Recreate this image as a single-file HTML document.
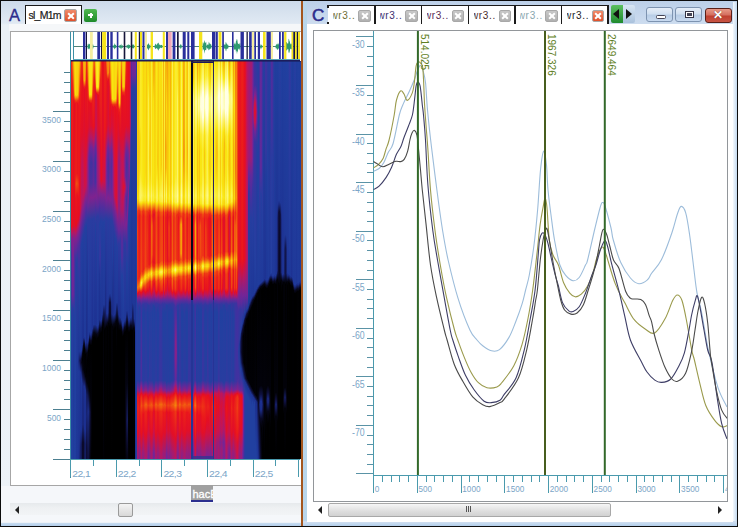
<!DOCTYPE html>
<html><head><meta charset="utf-8">
<style>
html,body{margin:0;padding:0;width:738px;height:527px;overflow:hidden;background:#0c0c0c;}
#root{position:relative;width:738px;height:527px;overflow:hidden;font-family:"Liberation Sans",Arial,sans-serif;background:#0c0c0c;}
.a{position:absolute;}
#lp{left:1px;top:1px;width:300px;height:524.8px;background:linear-gradient(180deg,#cddaea 0px,#d8e3ef 12px,#e0e9f3 22px,#eaf0f6 24px,#edf2f7 100%);}
#rp{left:303px;top:1px;width:434px;height:524.8px;background:linear-gradient(180deg,#bcd0e8 0px,#c4d6ec 12px,#cddcef 23px);}
.tab{position:absolute;top:4px;height:20px;background:#fff;border-top:1px solid #222;}
.tabt{position:absolute;top:5px;font-size:11px;letter-spacing:0px;}
.xbtn{position:absolute;width:10.5px;height:10.5px;border-radius:2px;background:linear-gradient(180deg,#c8c8c8,#b0b0b0);border:0.5px solid #a8a8a8;}
.xbtn:before,.xbtn:after{content:"";position:absolute;left:1.5px;top:4.5px;width:8px;height:2px;background:#fff;}
.xbtn:before{transform:rotate(45deg);} .xbtn:after{transform:rotate(-45deg);}
.xbtn.red{background:linear-gradient(180deg,#f08a6a,#e0502a);}
.sp i{position:absolute;top:0;height:398px;display:block;}
.lbl{position:absolute;font-size:10px;color:#86aac6;line-height:10px;white-space:nowrap;}
</style></head><body><div id="root">

<!-- LEFT PANEL -->
<div id="lp" class="a">
  <div class="a" style="left:0;top:0;width:300px;height:1px;"></div>
  <div class="a" style="left:8px;top:6px;font-size:16.5px;color:#2c2c8c;line-height:17px;-webkit-text-stroke:0.35px #2c2c8c;">A</div>
  <!-- tab -->
  <div class="tab" style="left:24px;width:55px;border-left:1.5px solid #1a1a1a;border-right:1.5px solid #1a1a1a;border-top:1.5px solid #1a1a1a;"></div>
  <div class="tabt" style="left:27.5px;top:8px;color:#1a1a1a;font-size:10.5px;letter-spacing:-0.75px;line-height:12px;-webkit-text-stroke:0.2px #1a1a1a;">sl_M1m</div>
  <div class="xbtn red" style="left:63px;top:8px;"></div>
  <div class="a" style="left:83px;top:8px;width:13px;height:13px;border-radius:2px;background:linear-gradient(180deg,#4fb84f,#1e8a2a);"></div>
  <div class="a" style="left:87px;top:13px;width:5px;height:2px;background:#fff;"></div>
  <div class="a" style="left:88.5px;top:11.5px;width:2px;height:5px;background:#fff;"></div>
  <div class="a" style="left:80px;top:23px;width:49px;height:1px;background:#9aa3ad;"></div>
  <div class="a" style="left:8px;top:23px;width:292px;height:7px;background:#f5f7f9;"></div>
  <!-- content white box -->
  <div class="a" style="left:9px;top:30px;width:291px;height:453px;background:#fff;border:1px solid #a6a6a6;border-right:none;"></div>
  <div class="a" style="left:0;top:485px;width:300px;height:36px;background:#f5f7fa;"></div>
  <!-- hace label -->
  <div class="a" style="left:190px;top:484px;width:22px;height:15px;background:#a0a0a0;overflow:hidden;"><div class="a" style="left:1.5px;top:2.5px;font-size:11px;color:#fff;line-height:12px;letter-spacing:0px;white-space:nowrap;-webkit-text-stroke:0.3px #fff;">hacE</div></div>
  <div class="a" style="left:190px;top:499px;width:22px;height:1.5px;background:#2b2f8f;"></div>
  <!-- scrollbar -->
  <div class="a" style="left:9px;top:502px;width:291px;height:12px;background:linear-gradient(180deg,#e6e9ec,#eef0f2 40%,#f2f4f6);"></div>
  <div class="a" style="left:14px;top:505px;width:0;height:0;border-top:4px solid transparent;border-bottom:4px solid transparent;border-right:4px solid #222;"></div>
  <div class="a" style="left:117px;top:502px;width:13px;height:12px;border:1px solid #9a9a9a;border-radius:2px;background:linear-gradient(180deg,#f4f4f4,#d8d8d8);"></div>
  <div class="a" style="left:0;top:521.5px;width:300px;height:3.3px;background:linear-gradient(180deg,#c8dcf0,#b2cdea);"></div>
</div>

<!-- divider -->
<div class="a" style="left:301px;top:1px;width:2px;height:524.8px;background:#a4561e;"></div>

<!-- RIGHT PANEL -->
<div id="rp" class="a">
  <div class="a" style="left:9px;top:5.5px;font-size:17px;color:#2c2c8c;line-height:17px;-webkit-text-stroke:0.6px #2c2c8c;">C</div>
  <!-- tabs -->
  <div class="a" style="left:24.5px;top:4px;width:281.29999999999995px;height:20px;background:#fff;border-top:1.5px solid #1a1a1a;"></div>
  <div class="a" style="left:24.0px;top:4px;width:1.6px;height:2.5px;background:#1a1a1a;"></div>
  <div class="a" style="left:24.0px;top:20.5px;width:1.6px;height:2.5px;background:#1a1a1a;"></div>
  <div class="a" style="left:71.0px;top:4px;width:1.6px;height:19px;background:#1a1a1a;"></div>
  <div class="a" style="left:117.5px;top:4px;width:1.6px;height:19px;background:#1a1a1a;"></div>
  <div class="a" style="left:164.5px;top:4px;width:1.6px;height:19px;background:#1a1a1a;"></div>
  <div class="a" style="left:211.3px;top:4px;width:1.6px;height:19px;background:#1a1a1a;"></div>
  <div class="a" style="left:257.6px;top:4px;width:1.6px;height:19px;background:#1a1a1a;"></div>
  <div class="a" style="left:304.3px;top:4px;width:1.6px;height:19px;background:#1a1a1a;"></div>
  <div class="a" style="left:30.0px;top:5px;width:24px;height:17px;overflow:hidden;"><div class="a" style="left:-2.6px;top:4px;font-size:10px;line-height:12px;letter-spacing:0.7px;color:#6e6e34;white-space:nowrap;">wr3..</div></div>
  <div class="xbtn" style="left:55.0px;top:8.5px;"></div>
  <div class="a" style="left:77.0px;top:5px;width:24px;height:17px;overflow:hidden;"><div class="a" style="left:-2.6px;top:4px;font-size:10px;line-height:12px;letter-spacing:0.7px;color:#3a2e6e;white-space:nowrap;">wr3..</div></div>
  <div class="xbtn" style="left:102.0px;top:8.5px;"></div>
  <div class="a" style="left:123.5px;top:5px;width:24px;height:17px;overflow:hidden;"><div class="a" style="left:-2.6px;top:4px;font-size:10px;line-height:12px;letter-spacing:0.7px;color:#5a2a52;white-space:nowrap;">wr3..</div></div>
  <div class="xbtn" style="left:148.5px;top:8.5px;"></div>
  <div class="a" style="left:170.5px;top:5px;width:24px;height:17px;overflow:hidden;"><div class="a" style="left:-2.6px;top:4px;font-size:10px;line-height:12px;letter-spacing:0.7px;color:#4a2a2a;white-space:nowrap;">wr3..</div></div>
  <div class="xbtn" style="left:195.5px;top:8.5px;"></div>
  <div class="a" style="left:217.3px;top:5px;width:24px;height:17px;overflow:hidden;"><div class="a" style="left:-2.6px;top:4px;font-size:10px;line-height:12px;letter-spacing:0.7px;color:#8aa6ae;white-space:nowrap;">wr3..</div></div>
  <div class="xbtn" style="left:242.3px;top:8.5px;"></div>
  <div class="a" style="left:263.6px;top:5px;width:24px;height:17px;overflow:hidden;"><div class="a" style="left:-2.6px;top:4px;font-size:10px;line-height:12px;letter-spacing:0.7px;color:#1e1e1e;white-space:nowrap;">wr3..</div></div>
  <div class="xbtn red" style="left:288.6px;top:8.5px;"></div>
  <!-- arrows -->
  <div class="a" style="left:308px;top:4px;width:12px;height:18px;border-radius:2px 0 0 2px;background:linear-gradient(180deg,#5cc060,#1f8a2e);"></div>
  <div class="a" style="left:320px;top:4px;width:12px;height:18px;border-radius:0 2px 2px 0;background:linear-gradient(180deg,#d8e6f4,#a9c1dc);"></div>
  <div class="a" style="left:310px;top:8px;width:0;height:0;border-top:5px solid transparent;border-bottom:5px solid transparent;border-right:6px solid #111;"></div>
  <div class="a" style="left:323px;top:8px;width:0;height:0;border-top:5px solid transparent;border-bottom:5px solid transparent;border-left:6px solid #111;"></div>
  <!-- window buttons -->
  <div class="a" style="left:343px;top:6px;width:25px;height:13px;border:1px solid #7d93b0;border-radius:3px;background:linear-gradient(180deg,#e6eef8 0%,#d0dff0 45%,#b8cde6 55%,#c8daf0 100%);"></div>
  <div class="a" style="left:353px;top:13.5px;width:8px;height:2px;background:#fff;border:1px solid #445;border-radius:1.5px;"></div>
  <div class="a" style="left:372px;top:6px;width:25px;height:13px;border:1px solid #7d93b0;border-radius:3px;background:linear-gradient(180deg,#e6eef8 0%,#d0dff0 45%,#b8cde6 55%,#c8daf0 100%);"></div>
  <div class="a" style="left:381.5px;top:9.5px;width:7px;height:5px;border:1px solid #334;background:#fff;box-shadow:inset 0 0 0 1px #fff, inset 0 0 0 2.5px #445;"></div>
  <div class="a" style="left:401.5px;top:6.5px;width:25px;height:13px;border:1px solid #5a2018;border-radius:3px;background:linear-gradient(180deg,#e89a88 0%,#d47060 45%,#c04030 55%,#c85444 100%);"></div>
  <div class="a" style="left:410px;top:7.5px;font-size:11.5px;font-weight:bold;color:#fff;line-height:13px;text-shadow:0 0 1px #5a1a10;">&#x2715;</div>
  <!-- white area -->
  <div class="a" style="left:4px;top:23px;width:426px;height:498px;background:#fff;"></div>
  <!-- scrollbar -->
  <div class="a" style="left:15px;top:505px;width:0;height:0;border-top:4px solid transparent;border-bottom:4px solid transparent;border-right:4px solid #222;"></div>
  <div class="a" style="left:25px;top:502px;width:281px;height:12px;border:1px solid #a8a8a8;border-radius:2px;background:linear-gradient(180deg,#f6f6f6,#dedede 60%,#d2d2d2);"></div>
  <div class="a" style="left:163px;top:505px;width:1px;height:6px;background:#555;box-shadow:2px 0 0 #555,4px 0 0 #555;"></div>
  <div class="a" style="left:415px;top:505px;width:0;height:0;border-top:4px solid transparent;border-bottom:4px solid transparent;border-left:4px solid #222;"></div>
  <div class="a" style="left:0;top:521.5px;width:434px;height:3.3px;background:linear-gradient(180deg,#c8dcf0,#b2cdea);"></div>
  <div class="a" style="left:0;top:1px;width:4px;height:519px;background:linear-gradient(90deg,#bcd6ea,#b6d6ec);"></div>
  <div class="a" style="left:430px;top:1px;width:4px;height:519px;background:linear-gradient(90deg,#f4f8fc,#c4daf0);"></div>
</div>

<svg class="a" style="left:0;top:0" width="738" height="527">
<g stroke="#4c7f90" stroke-width="1" shape-rendering="crispEdges">
<line x1="53" y1="459.5" x2="70" y2="459.5"/>
<line x1="64" y1="449.5" x2="70" y2="449.5"/>
<line x1="64" y1="439.5" x2="70" y2="439.5"/>
<line x1="64" y1="429.5" x2="70" y2="429.5"/>
<line x1="64" y1="419.5" x2="70" y2="419.5"/>
<line x1="53" y1="409.5" x2="70" y2="409.5"/>
<line x1="64" y1="399.5" x2="70" y2="399.5"/>
<line x1="64" y1="389.5" x2="70" y2="389.5"/>
<line x1="64" y1="380.5" x2="70" y2="380.5"/>
<line x1="64" y1="370.5" x2="70" y2="370.5"/>
<line x1="53" y1="360.5" x2="70" y2="360.5"/>
<line x1="64" y1="350.5" x2="70" y2="350.5"/>
<line x1="64" y1="340.5" x2="70" y2="340.5"/>
<line x1="64" y1="330.5" x2="70" y2="330.5"/>
<line x1="64" y1="320.5" x2="70" y2="320.5"/>
<line x1="53" y1="310.5" x2="70" y2="310.5"/>
<line x1="64" y1="300.5" x2="70" y2="300.5"/>
<line x1="64" y1="290.5" x2="70" y2="290.5"/>
<line x1="64" y1="280.5" x2="70" y2="280.5"/>
<line x1="64" y1="270.5" x2="70" y2="270.5"/>
<line x1="53" y1="260.5" x2="70" y2="260.5"/>
<line x1="64" y1="250.5" x2="70" y2="250.5"/>
<line x1="64" y1="241.5" x2="70" y2="241.5"/>
<line x1="64" y1="231.5" x2="70" y2="231.5"/>
<line x1="64" y1="221.5" x2="70" y2="221.5"/>
<line x1="53" y1="211.5" x2="70" y2="211.5"/>
<line x1="64" y1="201.5" x2="70" y2="201.5"/>
<line x1="64" y1="191.5" x2="70" y2="191.5"/>
<line x1="64" y1="181.5" x2="70" y2="181.5"/>
<line x1="64" y1="171.5" x2="70" y2="171.5"/>
<line x1="53" y1="161.5" x2="70" y2="161.5"/>
<line x1="64" y1="151.5" x2="70" y2="151.5"/>
<line x1="64" y1="141.5" x2="70" y2="141.5"/>
<line x1="64" y1="131.5" x2="70" y2="131.5"/>
<line x1="64" y1="121.5" x2="70" y2="121.5"/>
<line x1="53" y1="111.5" x2="70" y2="111.5"/>
<line x1="64" y1="102.5" x2="70" y2="102.5"/>
<line x1="64" y1="92.5" x2="70" y2="92.5"/>
<line x1="64" y1="82.5" x2="70" y2="82.5"/>
<line x1="64" y1="72.5" x2="70" y2="72.5"/>
</g>
<line x1="70.5" y1="31" x2="70.5" y2="478" stroke="#3c8ea4" stroke-width="1"/>
<line x1="70" y1="459.5" x2="300" y2="459.5" stroke="#4a9aad" stroke-width="1"/>
<g stroke="#4a9aad" stroke-width="1">
<line x1="70.5" y1="460" x2="70.5" y2="477"/>
<line x1="93.5" y1="460" x2="93.5" y2="466"/>
<line x1="116.5" y1="460" x2="116.5" y2="477"/>
<line x1="139.5" y1="460" x2="139.5" y2="466"/>
<line x1="161.5" y1="460" x2="161.5" y2="477"/>
<line x1="184.5" y1="460" x2="184.5" y2="466"/>
<line x1="207.5" y1="460" x2="207.5" y2="477"/>
<line x1="230.5" y1="460" x2="230.5" y2="466"/>
<line x1="253.5" y1="460" x2="253.5" y2="477"/>
<line x1="275.5" y1="460" x2="275.5" y2="466"/>
<line x1="298.5" y1="460" x2="298.5" y2="477"/>
</g>
<g font-family="Liberation Sans, Arial, sans-serif" font-size="9.5" fill="#7ba5c7">
<text x="42.0" y="122.7" textLength="19" lengthAdjust="spacingAndGlyphs">3500</text>
<text x="42.0" y="172.3" textLength="19" lengthAdjust="spacingAndGlyphs">3000</text>
<text x="42.0" y="222.0" textLength="19" lengthAdjust="spacingAndGlyphs">2500</text>
<text x="42.0" y="271.6" textLength="19" lengthAdjust="spacingAndGlyphs">2000</text>
<text x="42.0" y="321.3" textLength="19" lengthAdjust="spacingAndGlyphs">1500</text>
<text x="42.0" y="370.9" textLength="19" lengthAdjust="spacingAndGlyphs">1000</text>
<text x="47.0" y="420.6" textLength="14" lengthAdjust="spacingAndGlyphs">500</text>
</g>
<g font-family="Liberation Sans, Arial, sans-serif" font-size="9.5" letter-spacing="-0.5" fill="#7ba5c7">
<text x="72.2" y="477" textLength="18" lengthAdjust="spacingAndGlyphs">22,1</text>
<text x="117.8" y="477" textLength="18" lengthAdjust="spacingAndGlyphs">22,2</text>
<text x="163.4" y="477" textLength="18" lengthAdjust="spacingAndGlyphs">22,3</text>
<text x="209.1" y="477" textLength="18" lengthAdjust="spacingAndGlyphs">22,4</text>
<text x="254.7" y="477" textLength="18" lengthAdjust="spacingAndGlyphs">22,5</text>
</g>
</svg>
<svg class="a" style="left:0;top:0" width="738" height="527">
<rect x="73" y="31" width="227" height="29" fill="#fff"/>
<line x1="73.5" y1="46.5" x2="300" y2="46.5" stroke="#4f8278" stroke-width="1"/>
<path d="M87.5,45.9 L87.8,44.1 L88.2,43.6 L88.5,45.3 L88.8,43.8 L89.2,44.0 L89.5,44.4 L89.8,43.4 L90.2,44.5 L90.5,43.3 L90.8,41.8 L91.2,42.7 L91.5,44.0 L91.8,45.6 L92.2,45.1 L92.5,43.2 L92.8,44.6 L93.2,44.6 L93.5,45.9 L93.5,47.1 L93.2,48.5 L92.8,49.1 L92.5,49.6 L92.2,47.9 L91.8,48.2 L91.5,48.4 L91.2,49.4 L90.8,50.1 L90.5,50.9 L90.2,48.9 L89.8,49.6 L89.5,48.4 L89.2,48.3 L88.8,49.0 L88.5,48.2 L88.2,49.6 L87.8,49.0 L87.5,47.1Z" fill="#2e9a70"/>
<path d="M112.5,45.9 L112.8,44.5 L113.1,45.2 L113.4,45.7 L113.7,45.4 L114.0,45.5 L114.3,44.3 L114.7,43.1 L115.0,44.9 L115.3,44.9 L115.6,44.7 L115.9,44.6 L116.2,45.7 L116.5,45.9 L116.5,47.1 L116.2,47.8 L115.9,48.5 L115.6,47.7 L115.3,47.7 L115.0,48.3 L114.7,49.5 L114.3,48.7 L114.0,48.1 L113.7,47.7 L113.4,47.3 L113.1,47.7 L112.8,48.0 L112.5,47.1Z" fill="#2e9a70"/>
<path d="M119.0,45.9 L119.3,45.6 L119.6,45.6 L119.9,45.0 L120.2,45.5 L120.5,44.8 L120.8,45.1 L121.2,43.6 L121.5,45.6 L121.8,45.8 L122.1,45.3 L122.4,45.4 L122.7,45.2 L123.0,45.9 L123.0,47.1 L122.7,47.7 L122.4,48.0 L122.1,47.9 L121.8,47.3 L121.5,48.2 L121.2,49.5 L120.8,48.6 L120.5,48.4 L120.2,47.5 L119.9,48.0 L119.6,47.8 L119.3,47.8 L119.0,47.1Z" fill="#2e9a70"/>
<path d="M126.5,45.9 L126.8,44.8 L127.1,45.5 L127.4,44.7 L127.7,45.3 L128.0,44.4 L128.3,44.0 L128.7,45.0 L129.0,45.4 L129.3,44.8 L129.6,45.0 L129.9,44.8 L130.2,45.6 L130.5,45.9 L130.5,47.1 L130.2,47.6 L129.9,48.3 L129.6,48.2 L129.3,47.8 L129.0,48.0 L128.7,49.1 L128.3,48.9 L128.0,48.8 L127.7,47.6 L127.4,48.1 L127.1,47.4 L126.8,48.4 L126.5,47.1Z" fill="#2e9a70"/>
<path d="M132.0,45.9 L132.3,44.2 L132.5,44.6 L132.8,45.0 L133.1,44.1 L133.3,44.2 L133.6,45.2 L133.9,44.7 L134.1,44.9 L134.4,45.9 L134.4,47.1 L134.1,47.9 L133.9,48.1 L133.6,48.2 L133.3,48.5 L133.1,48.7 L132.8,48.1 L132.5,48.0 L132.3,48.7 L132.0,47.1Z" fill="#2e9a70"/>
<path d="M146.5,45.9 L146.8,45.0 L147.1,44.1 L147.4,44.7 L147.7,45.1 L148.0,44.6 L148.3,42.4 L148.7,43.9 L149.0,43.7 L149.3,45.6 L149.6,45.3 L149.9,44.7 L150.2,44.5 L150.5,45.9 L150.5,47.1 L150.2,48.6 L149.9,48.7 L149.6,48.0 L149.3,47.8 L149.0,49.2 L148.7,50.1 L148.3,50.5 L148.0,48.7 L147.7,48.2 L147.4,48.4 L147.1,48.8 L146.8,48.4 L146.5,47.1Z" fill="#2e9a70"/>
<path d="M154.5,45.9 L154.8,45.3 L155.2,44.0 L155.5,43.6 L155.9,44.6 L156.2,45.4 L156.6,44.4 L156.9,44.6 L157.3,44.1 L157.6,43.3 L158.0,43.0 L158.3,42.8 L158.7,42.7 L159.0,44.9 L159.4,44.1 L159.7,45.1 L160.1,44.7 L160.4,45.0 L160.8,45.6 L161.1,45.0 L161.5,45.1 L161.8,44.7 L162.2,45.0 L162.5,45.9 L162.5,47.1 L162.2,48.0 L161.8,48.2 L161.5,47.7 L161.1,47.9 L160.8,47.5 L160.4,47.8 L160.1,47.9 L159.7,48.4 L159.4,49.1 L159.0,48.3 L158.7,50.4 L158.3,50.5 L158.0,49.6 L157.6,49.4 L157.3,48.4 L156.9,48.4 L156.6,48.3 L156.2,48.1 L155.9,48.4 L155.5,49.3 L155.2,48.8 L154.8,48.0 L154.5,47.1Z" fill="#2e9a70"/>
<path d="M179.3,45.9 L179.6,45.3 L179.8,45.7 L180.1,45.2 L180.4,43.7 L180.6,43.9 L180.9,44.9 L181.2,44.8 L181.4,44.5 L181.7,45.9 L181.7,47.1 L181.4,48.4 L181.2,47.9 L180.9,48.4 L180.6,48.9 L180.4,48.6 L180.1,47.6 L179.8,47.7 L179.6,47.8 L179.3,47.1Z" fill="#2e9a70"/>
<path d="M202.5,45.9 L202.8,41.9 L203.1,42.7 L203.4,42.6 L203.7,44.7 L204.0,41.6 L204.3,39.9 L204.7,41.4 L205.0,43.3 L205.3,42.2 L205.6,42.5 L205.9,42.7 L206.2,41.8 L206.5,45.9 L206.5,47.1 L206.2,50.4 L205.9,49.7 L205.6,50.5 L205.3,49.9 L205.0,49.9 L204.7,51.8 L204.3,53.8 L204.0,50.4 L203.7,49.0 L203.4,49.2 L203.1,49.9 L202.8,51.1 L202.5,47.1Z" fill="#2e9a70"/>
<path d="M206.5,45.9 L206.8,44.9 L207.2,45.0 L207.5,44.6 L207.8,44.2 L208.2,45.3 L208.5,44.0 L208.8,41.5 L209.2,43.4 L209.5,41.9 L209.8,44.1 L210.2,44.5 L210.5,44.0 L210.8,43.6 L211.2,44.4 L211.5,45.9 L211.5,47.1 L211.2,48.4 L210.8,48.9 L210.5,48.4 L210.2,48.5 L209.8,48.8 L209.5,50.1 L209.2,49.3 L208.8,50.5 L208.5,50.0 L208.2,48.2 L207.8,48.8 L207.5,48.3 L207.2,48.6 L206.8,48.3 L206.5,47.1Z" fill="#2e9a70"/>
<path d="M223.5,45.9 L223.8,44.0 L224.2,45.2 L224.5,44.6 L224.8,44.0 L225.2,45.3 L225.5,43.6 L225.8,41.8 L226.2,42.6 L226.5,43.7 L226.8,43.5 L227.2,45.1 L227.5,45.3 L227.8,43.7 L228.2,44.9 L228.5,45.9 L228.5,47.1 L228.2,48.6 L227.8,49.0 L227.5,48.4 L227.2,48.4 L226.8,48.8 L226.5,49.3 L226.2,51.2 L225.8,51.1 L225.5,49.6 L225.2,48.5 L224.8,48.7 L224.5,48.9 L224.2,48.0 L223.8,48.8 L223.5,47.1Z" fill="#2e9a70"/>
<path d="M233.5,45.9 L233.8,43.9 L234.2,44.2 L234.6,42.0 L234.9,44.2 L235.2,43.0 L235.6,44.9 L235.9,41.2 L236.3,40.9 L236.7,38.9 L237.0,39.6 L237.3,39.6 L237.7,42.7 L238.1,44.1 L238.4,43.9 L238.8,43.5 L239.1,44.6 L239.4,44.5 L239.8,42.8 L240.2,42.9 L240.5,45.9 L240.5,47.1 L240.2,49.2 L239.8,50.5 L239.4,48.5 L239.1,48.8 L238.8,48.8 L238.4,48.8 L238.1,49.7 L237.7,51.7 L237.3,51.8 L237.0,54.3 L236.7,52.4 L236.3,50.6 L235.9,51.8 L235.6,49.0 L235.2,49.8 L234.9,49.6 L234.6,49.8 L234.2,49.5 L233.8,48.9 L233.5,47.1Z" fill="#2e9a70"/>
<path d="M259.5,45.9 L259.8,44.3 L260.1,45.7 L260.4,45.7 L260.7,44.4 L261.0,43.7 L261.3,44.9 L261.6,45.5 L261.9,45.1 L262.2,45.4 L262.5,45.9 L262.5,47.1 L262.2,47.7 L261.9,47.6 L261.6,47.8 L261.3,48.4 L261.0,49.4 L260.7,49.0 L260.4,47.6 L260.1,47.7 L259.8,48.3 L259.5,47.1Z" fill="#2e9a70"/>
<path d="M275.5,45.9 L275.8,45.2 L276.1,45.1 L276.4,44.5 L276.7,43.8 L277.0,44.1 L277.3,44.4 L277.7,44.3 L278.0,42.3 L278.3,45.1 L278.6,43.8 L278.9,43.5 L279.2,44.1 L279.5,45.9 L279.5,47.1 L279.2,48.6 L278.9,48.7 L278.6,48.9 L278.3,47.8 L278.0,50.3 L277.7,48.9 L277.3,49.9 L277.0,49.6 L276.7,48.8 L276.4,48.2 L276.1,47.9 L275.8,48.4 L275.5,47.1Z" fill="#2e9a70"/>
<path d="M285.5,45.9 L285.9,44.1 L286.2,42.0 L286.6,42.0 L286.9,42.4 L287.2,43.5 L287.6,43.0 L287.9,44.3 L288.3,43.1 L288.6,38.7 L289.0,38.9 L289.4,41.0 L289.7,41.2 L290.1,43.0 L290.4,44.6 L290.8,44.1 L291.1,42.3 L291.4,43.9 L291.8,44.2 L292.1,44.5 L292.5,45.9 L292.5,47.1 L292.1,48.8 L291.8,49.0 L291.4,49.2 L291.1,49.6 L290.8,48.9 L290.4,48.4 L290.1,49.4 L289.7,51.3 L289.4,53.2 L289.0,51.9 L288.6,53.2 L288.3,49.5 L287.9,48.6 L287.6,49.6 L287.2,49.4 L286.9,50.1 L286.6,50.4 L286.2,50.7 L285.9,48.5 L285.5,47.1Z" fill="#2e9a70"/>
<rect x="83" y="31.5" width="2.5" height="28" fill="#2a2f9c"/>
<rect x="86" y="31.5" width="1.0" height="28" fill="#16163a"/>
<rect x="90" y="31.5" width="2.8" height="28" fill="#f6eea0"/>
<rect x="97.3" y="31.5" width="2.8" height="28" fill="#2a2f9c"/>
<rect x="101" y="31.5" width="1.0" height="28" fill="#16163a"/>
<rect x="102.1" y="31.5" width="4.1" height="28" fill="#f4e41c"/>
<rect x="107" y="31.5" width="2.0" height="28" fill="#2a2f9c"/>
<rect x="110.3" y="31.5" width="2.4" height="28" fill="#2a2f9c"/>
<rect x="116.8" y="31.5" width="1.6" height="28" fill="#2a2f9c"/>
<rect x="123.7" y="31.5" width="1.6" height="28" fill="#16163a"/>
<rect x="130.7" y="31.5" width="1.6" height="28" fill="#16163a"/>
<rect x="134.8" y="31.5" width="2.0" height="28" fill="#f4e41c"/>
<rect x="138.8" y="31.5" width="1.2" height="28" fill="#16163a"/>
<rect x="140" y="31.5" width="2.0" height="28" fill="#f4e41c"/>
<rect x="142.5" y="31.5" width="2.0" height="28" fill="#2a2f9c"/>
<rect x="145" y="31.5" width="2.0" height="28" fill="#f6eea0"/>
<rect x="150.6" y="31.5" width="2.4" height="28" fill="#f4e41c"/>
<rect x="162.8" y="31.5" width="2.0" height="28" fill="#f4e41c"/>
<rect x="166" y="31.5" width="2.0" height="28" fill="#2a2f9c"/>
<rect x="168" y="31.5" width="3.7" height="28" fill="#f2a8b8"/>
<rect x="172.6" y="31.5" width="2.8" height="28" fill="#2a2f9c"/>
<rect x="177" y="31.5" width="1.7" height="28" fill="#16163a"/>
<rect x="182.7" y="31.5" width="3.0" height="28" fill="#2a2f9c"/>
<rect x="187.3" y="31.5" width="2.0" height="28" fill="#2a2f9c"/>
<rect x="191" y="31.5" width="3.6" height="28" fill="#2a2f9c"/>
<rect x="199" y="31.5" width="3.3" height="28" fill="#f4e41c"/>
<rect x="212" y="31.5" width="3.3" height="28" fill="#2a2f9c"/>
<rect x="215.7" y="31.5" width="2.1" height="28" fill="#2a2f9c"/>
<rect x="218.6" y="31.5" width="2.8" height="28" fill="#f4e41c"/>
<rect x="222.2" y="31.5" width="1.7" height="28" fill="#2a2f9c"/>
<rect x="232" y="31.5" width="1.6" height="28" fill="#2a2f9c"/>
<rect x="240.5" y="31.5" width="3.4" height="28" fill="#2a2f9c"/>
<rect x="246.5" y="31.5" width="1.3" height="28" fill="#16163a"/>
<rect x="249.1" y="31.5" width="2.6" height="28" fill="#2a2f9c"/>
<rect x="252" y="31.5" width="2.0" height="28" fill="#f6eea0"/>
<rect x="254.3" y="31.5" width="1.7" height="28" fill="#2a2f9c"/>
<rect x="257.8" y="31.5" width="2.2" height="28" fill="#2a2f9c"/>
<rect x="263" y="31.5" width="2.6" height="28" fill="#f4e41c"/>
<rect x="266.5" y="31.5" width="4.3" height="28" fill="#2a2f9c"/>
<rect x="271" y="31.5" width="2.0" height="28" fill="#f6eea0"/>
<rect x="279" y="31.5" width="1.8" height="28" fill="#2a2f9c"/>
<rect x="282" y="31.5" width="1.8" height="28" fill="#2a2f9c"/>
<rect x="284.2" y="31.5" width="2.2" height="28" fill="#f4e41c"/>
<rect x="291.5" y="31.5" width="1.8" height="28" fill="#f4e41c"/>
<rect x="293.3" y="31.5" width="1.7" height="28" fill="#16163a"/>
<rect x="295" y="31.5" width="1.8" height="28" fill="#f4e41c"/>
<rect x="296.8" y="31.5" width="1.3" height="28" fill="#16163a"/>
<rect x="298.1" y="31.5" width="1.9" height="28" fill="#f4e41c"/>
<line x1="70" y1="31.5" x2="300" y2="31.5" stroke="#8c959c" stroke-width="1"/>
<line x1="73.5" y1="31" x2="73.5" y2="60" stroke="#3c8ea4" stroke-width="1"/>
<line x1="73" y1="59.5" x2="300" y2="59.5" stroke="#58a6b8" stroke-width="1"/>
<line x1="71" y1="60.5" x2="300" y2="60.5" stroke="#1c1c5c" stroke-width="1"/>
</svg>
<div class="a sp" style="left:71px;top:61px;width:230px;height:398px;overflow:hidden;">
<i style="left:0px;width:1px;background:linear-gradient(#551c38 0px,#ed2b18 1.5px,#e9171c 33.5px,#e40f25 165.5px,#ad1969 172.5px,#80228e 178.5px,#512d9d 194.5px,#47309e 234.5px,#2140a0 255.5px,#2140a0 398px)"></i>
<i style="left:1px;width:1px;background:linear-gradient(#572e35 0px,#f2670f 1.5px,#eb231a 23.5px,#e9111d 164.5px,#bb165d 171.5px,#83218b 177.5px,#772495 205.5px,#6d2698 233.5px,#2b3ba0 247.5px,#2140a0 326.5px,#2140a0 398px)"></i>
<i style="left:2px;width:1px;background:linear-gradient(#584234 0px,#f7ad0a 1.5px,#f15c11 23.5px,#e9131d 40.5px,#e40f24 164.5px,#aa196b 172.5px,#80228e 178.5px,#632999 233.5px,#233fa0 248.5px,#1f3a9a 316.5px,#203c9d 398px)"></i>
<i style="left:3px;width:1px;background:linear-gradient(#594f35 0px,#f8d70e 1.5px,#f7af0a 29.5px,#f58f0c 34.5px,#eb2319 39.5px,#e50e22 43.5px,#e9171c 117.5px,#e80f1e 130.5px,#e20f28 163.5px,#b11865 171.5px,#80228e 178.5px,#512d9d 194.5px,#47309e 234.5px,#2140a0 255.5px,#203d9e 321.5px,#213e9f 398px)"></i>
<i style="left:4px;width:1px;background:linear-gradient(#595035 0px,#f9dc0f 1.5px,#f9da0f 33.5px,#f69d0b 36.5px,#ef3d15 39.5px,#e9151c 42.5px,#ea1c1b 113.5px,#ee3616 123.5px,#e9151d 137.5px,#e60e20 164.5px,#b81760 171.5px,#83218c 177.5px,#562c9c 190.5px,#3238a0 199.5px,#243fa0 247.5px,#213f9f 329.5px,#203d9d 398px)"></i>
<i style="left:5px;width:1px;background:linear-gradient(#594f35 0px,#f8d70e 1.5px,#f8cf0d 34.5px,#f15d11 38.5px,#ea1e1b 41.5px,#ea1d1b 112.5px,#f04e13 122.5px,#ea191c 133.5px,#e60e21 163.5px,#b41763 170.5px,#82228d 176.5px,#542c9c 189.5px,#263ea0 201.5px,#1f3999 326.5px,#1e3797 398px)"></i>
<i style="left:6px;width:1px;background:linear-gradient(#584d35 0px,#f8d20e 1.5px,#f8d00d 33.5px,#f5930c 36.5px,#ee3616 39.5px,#e9111d 42.5px,#e9171c 112.5px,#ef4514 122.5px,#e9121d 134.5px,#e30f26 160.5px,#b41763 167.5px,#80228e 174.5px,#502d9d 187.5px,#2e3aa0 198.5px,#1f399a 285.5px,#1e3697 398px)"></i>
<i style="left:7px;width:1px;background:linear-gradient(#584c35 0px,#f8d00d 1.5px,#f7ab0a 29.5px,#f58f0c 34.5px,#ec2a18 39.5px,#e9151d 44.5px,#ea1a1c 113.5px,#ee3216 123.5px,#e9121d 137.5px,#e50e22 157.5px,#ae1968 165.5px,#81228d 171.5px,#522d9c 184.5px,#45309f 192.5px,#283da0 216.5px,#1e3696 290.5px,#1a2b83 300.5px,#1f3999 310.5px,#1d3495 377.5px,#1d3293 398px)"></i>
<i style="left:8px;width:1px;background:linear-gradient(#584634 0px,#f7b90b 1.5px,#f36c0f 22.5px,#ea181c 40.5px,#e9161c 116.5px,#e9161c 127.5px,#df0f2b 153.5px,#b21865 160.5px,#80228e 167.5px,#502d9d 180.5px,#45309f 188.5px,#3337a0 210.5px,#2140a0 234.5px,#1e3696 290.5px,#131b5a 299.5px,#19287d 304.5px,#1e3697 310.5px,#1d3394 372.5px,#192a80 396.5px,#192a80 398px)"></i>
<i style="left:9px;width:1px;background:linear-gradient(#573135 0px,#f3710e 1.5px,#eb2419 21.5px,#e9151d 54.5px,#dd102f 85.5px,#d91136 116.5px,#d01244 147.5px,#80228e 161.5px,#502d9d 174.5px,#2e3aa0 185.5px,#1f3999 290.5px,#1a2c86 293.5px,#0e0f3a 299.5px,#0f103d 302.5px,#1c3091 311.5px,#1d3495 368.5px,#16216a 385.5px,#162068 398px)"></i>
<i style="left:10px;width:1px;background:linear-gradient(#551b38 0px,#ec2a18 1.5px,#e9141d 31.5px,#e20f28 73.5px,#c61452 103.5px,#bd155c 142.5px,#80228e 155.5px,#502d9d 168.5px,#233fa0 182.5px,#1e3797 289.5px,#182575 292.5px,#0a0a26 297.5px,#060617 301.5px,#192980 313.5px,#1e3797 318.5px,#1c3192 368.5px,#131956 383.5px,#121954 398px)"></i>
<i style="left:11px;width:1px;background:linear-gradient(#551e38 0px,#ee3216 1.5px,#e9121d 20.5px,#e20f27 71.5px,#c21457 102.5px,#bc165d 136.5px,#80228e 150.5px,#502d9d 163.5px,#223fa0 178.5px,#1c3192 283.5px,#050513 292.5px,#000001 298.5px,#080821 308.5px,#1b2d8a 322.5px,#19297e 363.5px,#0b0b2c 381.5px,#0a0a29 398px)"></i>
<i style="left:12px;width:1px;background:linear-gradient(#584134 0px,#f7aa0a 1.5px,#f47e0d 18.5px,#f04614 22.5px,#e9141d 26.5px,#dd102f 73.5px,#c9134f 107.5px,#c11559 133.5px,#80228e 146.5px,#502d9d 159.5px,#223fa0 174.5px,#1c3192 276.5px,#060616 284.5px,#000000 289.5px,#03030c 308.5px,#11154a 317.5px,#1b2d8a 325.5px,#19287d 363.5px,#0b0b2c 381.5px,#0b0b2a 398px)"></i>
<i style="left:13px;width:1px;background:linear-gradient(#584534 0px,#f7b60a 1.5px,#f7b50a 19.5px,#f47c0d 22.5px,#ed2c18 25.5px,#e60e22 28.5px,#db1032 78.5px,#d01244 121.5px,#c51454 130.5px,#82228d 141.5px,#562c9c 154.5px,#263da0 167.5px,#1f3a9a 275.5px,#1c3091 277.5px,#0b0b2b 282.5px,#000000 287.5px,#020208 311.5px,#0f103c 318.5px,#1c3091 325.5px,#1c3091 367.5px,#121853 382.5px,#121954 398px)"></i>
<i style="left:14px;width:1px;background:linear-gradient(#584034 0px,#f6a60b 1.5px,#f47c0d 18.5px,#f04714 22.5px,#e9161c 26.5px,#e00f2b 75.5px,#d11242 113.5px,#c9134e 125.5px,#80228e 138.5px,#502d9d 151.5px,#223fa0 166.5px,#1f3899 280.5px,#1c3091 282.5px,#090923 288.5px,#000000 293.5px,#020208 315.5px,#12174f 323.5px,#1c3192 329.5px,#1c2f8e 369.5px,#141e61 383.5px,#141e61 398px)"></i>
<i style="left:15px;width:1px;background:linear-gradient(#551e37 0px,#ee3316 1.5px,#e9141d 20.5px,#e20f27 73.5px,#c8134f 104.5px,#bf155a 123.5px,#80228e 136.5px,#4f2e9d 149.5px,#223fa0 164.5px,#1b2d89 281.5px,#03030b 292.5px,#000000 310.5px,#03030d 320.5px,#141d60 333.5px,#182575 355.5px,#141c5d 369.5px,#0e0e37 385.5px,#0d0d34 398px)"></i>
<i style="left:16px;width:1px;background:linear-gradient(#573135 0px,#f3710e 1.5px,#eb1f1a 24.5px,#e10f29 69.5px,#a41b70 99.5px,#971d7b 125.5px,#642999 145.5px,#2c3ba0 158.5px,#1e3596 215.5px,#1c3192 281.5px,#04040f 291.5px,#000000 298.5px,#020208 322.5px,#121853 334.5px,#19287d 351.5px,#151e62 370.5px,#0f1141 389.5px,#0f0f3c 398px)"></i>
<i style="left:17px;width:1px;background:linear-gradient(#584b35 0px,#f8cb0d 1.5px,#f5940c 22.5px,#f04913 34.5px,#e8101e 40.5px,#dc1030 66.5px,#ae1968 81.5px,#722597 97.5px,#7b2392 130.5px,#732596 141.5px,#2b3ba0 158.5px,#2140a0 219.5px,#1f399a 276.5px,#192a81 279.5px,#090923 284.5px,#000000 289.5px,#020207 325.5px,#151e62 341.5px,#1a2b83 350.5px,#131b59 375.5px,#0f103e 398px)"></i>
<i style="left:18px;width:1px;background:linear-gradient(#595336 0px,#f9e612 1.5px,#f9dc0f 33.5px,#f7b80b 35.5px,#ed3017 39.5px,#e8111d 41.5px,#d71138 66.5px,#ac196a 77.5px,#6d2698 88.5px,#502e9d 103.5px,#5a2b9b 123.5px,#7f228f 137.5px,#2b3ba0 158.5px,#1f3a9b 270.5px,#1a2b85 273.5px,#0a0a26 278.5px,#000000 283.5px,#010106 328.5px,#131b59 350.5px,#090923 398px)"></i>
<i style="left:19px;width:1px;background:linear-gradient(#595236 0px,#f9e410 1.5px,#f9e410 33.5px,#f8c30c 35.5px,#ee3716 39.5px,#e70e20 42.5px,#dd102f 64.5px,#af1868 76.5px,#6d2698 86.5px,#43319f 101.5px,#4d2e9d 122.5px,#7f228e 136.5px,#283da0 159.5px,#1f399a 271.5px,#1c3192 273.5px,#090923 279.5px,#000000 284.5px,#020209 335.5px,#0c0c2f 351.5px,#03030c 398px)"></i>
<i style="left:20px;width:1px;background:linear-gradient(#595336 0px,#f9e611 1.5px,#f9dd0f 33.5px,#f7b90b 35.5px,#ee3616 39.5px,#e8101e 42.5px,#e00f2a 64.5px,#b21865 76.5px,#6e2698 86.5px,#42319f 101.5px,#4e2e9d 122.5px,#7f228f 136.5px,#293ca0 158.5px,#1e3596 271.5px,#172370 274.5px,#07071c 279.5px,#000000 284.5px,#020209 344.5px,#03030c 363.5px,#000000 398px)"></i>
<i style="left:21px;width:1px;background:linear-gradient(#594e35 0px,#f8d50e 1.5px,#f6a00b 22.5px,#f15412 34.5px,#ea1d1b 39.5px,#e30f26 65.5px,#b41763 77.5px,#6b2798 88.5px,#4a2f9e 102.5px,#542c9c 122.5px,#7f228f 136.5px,#293ca0 158.5px,#1c3192 267.5px,#050515 275.5px,#000000 280.5px,#000000 398px)"></i>
<i style="left:22px;width:1px;background:linear-gradient(#573535 0px,#f47f0d 1.5px,#ec2819 25.5px,#e9121d 65.5px,#b61762 79.5px,#6e2697 90.5px,#542d9c 104.5px,#60299a 123.5px,#7e228f 136.5px,#2a3ca0 157.5px,#1e3798 263.5px,#182575 266.5px,#08081f 271.5px,#000000 276.5px,#000000 398px)"></i>
<i style="left:23px;width:1px;background:linear-gradient(#572d36 0px,#f26310 1.5px,#eb1e1b 18.5px,#e20f27 65.5px,#b21865 77.5px,#6e2697 87.5px,#48309e 101.5px,#512d9d 121.5px,#7f228e 135.5px,#2a3ca0 157.5px,#1d3394 263.5px,#060617 271.5px,#000000 276.5px,#000000 398px)"></i>
<i style="left:24px;width:1px;background:linear-gradient(#584834 0px,#f7be0b 1.5px,#f47e0d 17.5px,#ec2818 27.5px,#e30f26 30.5px,#d3123f 35.5px,#cb134a 64.5px,#8f1f81 77.5px,#652899 85.5px,#3d32a0 101.5px,#46309f 120.5px,#80228e 134.5px,#46309f 148.5px,#2140a0 164.5px,#1d3293 263.5px,#050514 272.5px,#000000 277.5px,#000000 398px)"></i>
<i style="left:25px;width:1px;background:linear-gradient(#595439 0px,#f9e81c 1.5px,#f9e00f 25.5px,#f7b60a 27.5px,#eb2319 31.5px,#e80f1e 32.5px,#d21240 34.5px,#c9134e 66.5px,#6d2698 92.5px,#672899 120.5px,#7c2391 136.5px,#2b3ba0 156.5px,#1d3394 264.5px,#040410 273.5px,#000000 279.5px,#000000 398px)"></i>
<i style="left:26px;width:1px;background:linear-gradient(#59543c 0px,#fae925 1.5px,#fae925 25.5px,#f9e610 26.5px,#f4820d 29.5px,#ee3516 31.5px,#e8101e 33.5px,#e00f2a 40.5px,#d81137 68.5px,#991d79 100.5px,#8b2085 125.5px,#692798 141.5px,#2c3ba0 155.5px,#233fa0 188.5px,#1f3999 264.5px,#1c2f90 266.5px,#080820 272.5px,#000000 277.5px,#000000 398px)"></i>
<i style="left:27px;width:1px;background:linear-gradient(#595336 0px,#f9e610 1.5px,#f9dc0f 25.5px,#f7b80b 27.5px,#ee3416 31.5px,#e80e1e 34.5px,#e00f2b 68.5px,#ac1969 101.5px,#a01b73 121.5px,#5e2a9a 143.5px,#2c3ba0 155.5px,#263da0 179.5px,#1d3595 263.5px,#17236f 266.5px,#07071b 271.5px,#000000 276.5px,#000000 398px)"></i>
<i style="left:28px;width:1px;background:linear-gradient(#584a35 0px,#f8c50c 1.5px,#f5900c 17.5px,#f04e13 26.5px,#ea1a1b 31.5px,#e10f29 71.5px,#bf155a 102.5px,#b61762 119.5px,#80228e 133.5px,#45309f 147.5px,#2140a0 163.5px,#2e3aa0 179.5px,#3238a0 197.5px,#1e3596 213.5px,#1c3090 258.5px,#040411 268.5px,#000000 274.5px,#000000 398px)"></i>
<i style="left:29px;width:1px;background:linear-gradient(#573035 0px,#f36d0e 1.5px,#ec2719 18.5px,#e10f29 86.5px,#d5113c 118.5px,#aa196b 125.5px,#80228e 132.5px,#512d9d 145.5px,#223fa0 160.5px,#2b3ba0 178.5px,#3735a0 193.5px,#1f3a9a 221.5px,#1c3192 259.5px,#060617 267.5px,#000000 272.5px,#000000 398px)"></i>
<i style="left:30px;width:1px;background:linear-gradient(#551b38 0px,#ec2818 1.5px,#e30f26 118.5px,#b9165f 125.5px,#81228d 132.5px,#532d9c 145.5px,#243fa0 159.5px,#1d3595 258.5px,#192a81 260.5px,#06061a 266.5px,#000000 271.5px,#000000 398px)"></i>
<i style="left:31px;width:1px;background:linear-gradient(#54133a 0px,#e80f1e 1.5px,#e00f2a 83.5px,#d5113b 119.5px,#a91a6c 126.5px,#80228e 133.5px,#4f2e9d 146.5px,#223fa0 161.5px,#1e3596 249.5px,#1b2c88 253.5px,#060619 261.5px,#000000 266.5px,#000000 398px)"></i>
<i style="left:32px;width:1px;background:linear-gradient(#54133a 0px,#e9111d 1.5px,#e20f28 77.5px,#cd1248 120.5px,#80228e 133.5px,#512d9d 146.5px,#223fa0 161.5px,#1f3899 243.5px,#172573 248.5px,#020207 262.5px,#03030c 339.5px,#010106 391.5px,#010104 398px)"></i>
<i style="left:33px;width:1px;background:linear-gradient(#551839 0px,#eb221a 1.5px,#ea181c 71.5px,#d4113e 108.5px,#cd1248 120.5px,#81228d 133.5px,#532d9c 146.5px,#243fa0 160.5px,#1e3798 243.5px,#18277a 247.5px,#121853 252.5px,#0b0b2b 260.5px,#000000 269.5px,#000002 398px)"></i>
<i style="left:34px;width:1px;background:linear-gradient(#551939 0px,#eb2419 1.5px,#e9161c 68.5px,#c9134d 88.5px,#b51762 108.5px,#a91a6c 122.5px,#7e228f 136.5px,#2a3ca0 157.5px,#1e3596 207.5px,#1a2b85 243.5px,#121750 257.5px,#010103 267.5px,#000000 398px)"></i>
<i style="left:35px;width:1px;background:linear-gradient(#572d36 0px,#f26410 1.5px,#ea181c 17.5px,#e30f26 68.5px,#aa196b 85.5px,#7b2392 100.5px,#762496 139.5px,#2b3ba0 157.5px,#1c3091 252.5px,#11164c 258.5px,#010104 265.5px,#000000 398px)"></i>
<i style="left:36px;width:1px;background:linear-gradient(#573835 0px,#f58c0c 1.5px,#f4800d 12.5px,#eb231a 17.5px,#e40f25 20.5px,#dd102e 63.5px,#b51762 76.5px,#6d2698 89.5px,#552c9c 105.5px,#62299a 124.5px,#7e2290 137.5px,#293ca0 158.5px,#1e3696 252.5px,#19287d 255.5px,#07071c 261.5px,#000000 266.5px,#000000 398px)"></i>
<i style="left:37px;width:1px;background:linear-gradient(#573935 0px,#f58f0c 1.5px,#f58c0c 11.5px,#ef4314 15.5px,#e9121d 18.5px,#dd102f 27.5px,#d71138 63.5px,#b31764 74.5px,#6d2698 86.5px,#482f9e 102.5px,#512d9d 122.5px,#80228e 136.5px,#283da0 159.5px,#1f3899 234.5px,#19287b 245.5px,#17236f 251.5px,#010105 262.5px,#000000 398px)"></i>
<i style="left:38px;width:1px;background:linear-gradient(#573035 0px,#f36e0e 1.5px,#ea1c1b 25.5px,#e60e21 53.5px,#d6113a 68.5px,#a91a6c 79.5px,#6e2697 90.5px,#582b9b 106.5px,#662899 125.5px,#7d2390 138.5px,#2b3ba0 158.5px,#1f3a9a 232.5px,#1b2d89 235.5px,#0e0f3a 241.5px,#090923 254.5px,#000000 265.5px,#000000 398px)"></i>
<i style="left:39px;width:1px;background:linear-gradient(#584434 0px,#f7b10a 1.5px,#f26110 24.5px,#e80e1e 44.5px,#de102d 65.5px,#b21865 78.5px,#6e2697 91.5px,#5c2b9b 109.5px,#6a2798 126.5px,#7e2290 138.5px,#293ca0 159.5px,#1f3a9a 232.5px,#1b2d89 235.5px,#0e0f3a 241.5px,#090923 254.5px,#000000 265.5px,#000000 398px)"></i>
<i style="left:40px;width:1px;background:linear-gradient(#595136 0px,#f9e00f 1.5px,#f7bb0b 27.5px,#f58e0c 37.5px,#ea1b1b 43.5px,#df0f2c 49.5px,#d4113c 66.5px,#a51a6f 78.5px,#6c2698 89.5px,#542c9c 105.5px,#61299a 125.5px,#7e228f 138.5px,#2a3ca0 159.5px,#1f3899 234.5px,#19287b 245.5px,#172573 252.5px,#020208 263.5px,#000000 398px)"></i>
<i style="left:41px;width:1px;background:linear-gradient(#595336 0px,#f9e610 1.5px,#f9e610 37.5px,#f8c10c 39.5px,#ee3117 43.5px,#e80f1e 45.5px,#e00f2a 53.5px,#d01243 70.5px,#722597 96.5px,#782494 131.5px,#7a2393 142.5px,#2d3aa0 160.5px,#2140a0 192.5px,#1a2c86 253.5px,#020207 265.5px,#000000 398px)"></i>
<i style="left:42px;width:1px;background:linear-gradient(#595035 0px,#f9dd0f 1.5px,#f9dd0f 38.5px,#f6a80b 40.5px,#ee3716 43.5px,#e50f23 46.5px,#d81138 72.5px,#ab196a 102.5px,#a11b72 130.5px,#5b2b9b 153.5px,#2b3ba0 165.5px,#1b2e8c 254.5px,#050512 263.5px,#000000 269.5px,#000000 398px)"></i>
<i style="left:43px;width:1px;background:linear-gradient(#594f35 0px,#f8d80e 1.5px,#f8d80e 38.5px,#f6a40b 40.5px,#ee3416 43.5px,#e9121d 45.5px,#cf1245 113.5px,#c81350 133.5px,#80228e 146.5px,#502d9d 159.5px,#223fa0 174.5px,#1d3293 253.5px,#050515 262.5px,#000000 267.5px,#000000 398px)"></i>
<i style="left:44px;width:1px;background:linear-gradient(#595136 0px,#f9de0f 1.5px,#f9de0f 37.5px,#f7bc0b 39.5px,#ee3416 43.5px,#e80e1f 46.5px,#d6113a 136.5px,#aa196b 143.5px,#80228e 150.5px,#502d9d 163.5px,#223fa0 178.5px,#1e3696 248.5px,#1a2b84 252.5px,#050514 260.5px,#000000 266.5px,#000000 398px)"></i>
<i style="left:45px;width:1px;background:linear-gradient(#595336 0px,#f9e611 1.5px,#f8c40c 27.5px,#f69a0b 37.5px,#ec2619 43.5px,#e9111d 48.5px,#d91035 131.5px,#d01243 141.5px,#82228c 153.5px,#562c9c 166.5px,#263da0 179.5px,#1f3899 241.5px,#172573 246.5px,#03030a 259.5px,#000000 295.5px,#000000 398px)"></i>
<i style="left:46px;width:1px;background:linear-gradient(#584b35 0px,#f8c90d 1.5px,#f4810d 21.5px,#e9121d 43.5px,#de102d 73.5px,#c51454 104.5px,#bf155a 144.5px,#80228e 158.5px,#502d9d 171.5px,#223fa0 186.5px,#1e3797 241.5px,#18277a 245.5px,#040411 258.5px,#000000 267.5px,#000000 398px)"></i>
<i style="left:47px;width:1px;background:linear-gradient(#584d35 0px,#f8d00d 1.5px,#f6a40b 30.5px,#f26a0f 42.5px,#eb1f1a 47.5px,#e80f1e 54.5px,#d81138 73.5px,#9e1c75 100.5px,#951e7d 149.5px,#662899 169.5px,#2d3aa0 182.5px,#1c3192 248.5px,#19297e 253.5px,#040411 262.5px,#000000 269.5px,#000000 398px)"></i>
<i style="left:48px;width:1px;background:linear-gradient(#595136 0px,#f9df0f 1.5px,#f9dd0f 41.5px,#f6a10b 44.5px,#ed2c18 48.5px,#e9171c 51.5px,#e20f27 70.5px,#9a1d78 98.5px,#8f1f82 150.5px,#6a2798 168.5px,#2d3aa0 182.5px,#1c3091 255.5px,#050515 264.5px,#000000 269.5px,#000000 398px)"></i>
<i style="left:49px;width:1px;background:linear-gradient(#584c35 0px,#f8cf0d 1.5px,#f6a50b 31.5px,#f3730e 42.5px,#ec2a18 47.5px,#ea1c1b 55.5px,#e10f2a 74.5px,#af1867 100.5px,#a71a6e 147.5px,#662899 169.5px,#3a34a0 179.5px,#273da0 202.5px,#1c3192 256.5px,#060617 264.5px,#000000 269.5px,#000000 398px)"></i>
<i style="left:50px;width:1px;background:linear-gradient(#583a35 0px,#f58f0c 1.5px,#e9171c 29.5px,#e10f29 72.5px,#be155b 102.5px,#c01559 135.5px,#b01866 148.5px,#80228e 161.5px,#552c9c 175.5px,#4b2f9e 194.5px,#2140a0 214.5px,#1e3697 258.5px,#17236f 261.5px,#060619 266.5px,#000000 271.5px,#000000 398px)"></i>
<i style="left:51px;width:1px;background:linear-gradient(#584935 0px,#f8c60c 1.5px,#f7b10a 25.5px,#f3750e 28.5px,#ed2b18 31.5px,#e80e1e 35.5px,#e00f2b 71.5px,#c41456 104.5px,#cf1244 121.5px,#cf1244 130.5px,#b51762 148.5px,#80228e 160.5px,#552c9c 175.5px,#4b2f9e 194.5px,#2140a0 214.5px,#1f3899 262.5px,#1c2f8e 264.5px,#080820 270.5px,#000000 275.5px,#000000 398px)"></i>
<i style="left:52px;width:1px;background:linear-gradient(#584d35 0px,#f8d20e 1.5px,#f8d10e 25.5px,#f5950c 28.5px,#ee3716 31.5px,#e9121d 34.5px,#e10f28 70.5px,#b9165f 101.5px,#c61453 117.5px,#df102d 126.5px,#bb165e 139.5px,#a41b71 150.5px,#7f228f 162.5px,#3a34a0 179.5px,#2140a0 231.5px,#1f399a 261.5px,#192a80 264.5px,#090923 269.5px,#000000 274.5px,#000000 398px)"></i>
<i style="left:53px;width:1px;background:linear-gradient(#584d35 0px,#f8d00e 1.5px,#f7bb0b 25.5px,#f47f0d 28.5px,#ed3117 31.5px,#e9131d 35.5px,#e20f27 68.5px,#941e7d 98.5px,#9b1c78 115.5px,#d6113a 125.5px,#c0155a 131.5px,#961e7c 138.5px,#722597 166.5px,#2d3aa0 182.5px,#1f3899 258.5px,#1c2f8f 260.5px,#080820 266.5px,#000000 271.5px,#000000 398px)"></i>
<i style="left:54px;width:1px;background:linear-gradient(#573935 0px,#f58d0c 1.5px,#e9151c 29.5px,#e30f26 65.5px,#b01866 80.5px,#702597 93.5px,#682798 114.5px,#8b2085 120.5px,#b11865 125.5px,#951e7c 130.5px,#6e2697 135.5px,#6c2798 149.5px,#7c2391 163.5px,#2d3aa0 182.5px,#1e3798 256.5px,#1a2b84 259.5px,#080821 265.5px,#000000 270.5px,#050513 342.5px,#04040f 381.5px,#010105 398px)"></i>
<i style="left:55px;width:1px;background:linear-gradient(#551938 0px,#eb2419 1.5px,#e80f1e 27.5px,#e30f26 63.5px,#b71761 76.5px,#6f2697 87.5px,#4a2f9e 102.5px,#582c9b 118.5px,#762496 126.5px,#4b2f9e 139.5px,#5d2a9a 150.5px,#7f228f 162.5px,#43319f 179.5px,#2140a0 202.5px,#1e3798 249.5px,#19297f 253.5px,#08081e 261.5px,#000000 267.5px,#040411 323.5px,#111448 360.5px,#03030d 398px)"></i>
<i style="left:56px;width:1px;background:linear-gradient(#54143a 0px,#e9141d 1.5px,#e30f26 65.5px,#b01866 78.5px,#6c2698 89.5px,#502e9d 103.5px,#62299a 122.5px,#572c9c 133.5px,#6e2697 144.5px,#7e2290 153.5px,#4c2f9e 166.5px,#3b33a0 182.5px,#2140a0 204.5px,#1e3798 249.5px,#19287d 253.5px,#090925 260.5px,#000000 267.5px,#040411 321.5px,#141c5b 358.5px,#0c0c2f 381.5px,#040410 398px)"></i>
<i style="left:57px;width:1px;background:linear-gradient(#54133a 0px,#e80f1e 1.5px,#e20f27 64.5px,#b21865 79.5px,#6e2697 93.5px,#642899 116.5px,#7e2290 134.5px,#293ca0 155.5px,#283ca0 187.5px,#1e3798 256.5px,#1a2b85 259.5px,#060617 266.5px,#000000 271.5px,#010106 386.5px,#010103 398px)"></i>
<i style="left:58px;width:1px;background:linear-gradient(#51133e 0px,#e00f2b 1.5px,#da1034 65.5px,#aa196b 83.5px,#7f228f 99.5px,#722597 113.5px,#2d3aa0 129.5px,#2240a0 157.5px,#1d3495 258.5px,#192980 260.5px,#07071a 266.5px,#000000 271.5px,#000000 398px)"></i>
<i style="left:59px;width:1px;background:linear-gradient(#44154f 0px,#b41763 1.5px,#ad1969 62.5px,#6b2798 72.5px,#2140a0 107.5px,#1e3797 256.5px,#172573 259.5px,#07071c 264.5px,#000000 269.5px,#000000 398px)"></i>
<i style="left:60px;width:1px;background:linear-gradient(#2a1b5f 0px,#5e2a9a 1.5px,#522d9c 14.5px,#2140a0 31.5px,#1d3495 255.5px,#18277b 258.5px,#07071e 264.5px,#000000 269.5px,#000000 398px)"></i>
<i style="left:61px;width:1px;background:linear-gradient(#31195e 0px,#762496 1.5px,#672899 14.5px,#283da0 27.5px,#1e3696 241.5px,#151f64 251.5px,#121954 258.5px,#000002 269.5px,#000000 398px)"></i>
<i style="left:62px;width:1px;background:linear-gradient(#31195e 0px,#762496 1.5px,#672899 14.5px,#283da0 27.5px,#1e3898 242.5px,#182575 252.5px,#152066 257.5px,#020208 267.5px,#000000 398px)"></i>
<i style="left:63px;width:1px;background:linear-gradient(#31195e 0px,#762496 1.5px,#672899 14.5px,#283da0 27.5px,#1e3797 257.5px,#1a2a83 260.5px,#080820 266.5px,#000000 271.5px,#000000 398px)"></i>
<i style="left:64px;width:1px;background:linear-gradient(#31195e 0px,#762496 1.5px,#672899 14.5px,#283da0 27.5px,#1e3697 214.5px,#1d3394 398px)"></i>
<i style="left:65px;width:1px;background:linear-gradient(#1d1f61 0px,#3337a0 1.5px,#2140a0 57.5px,#2140a0 398px)"></i>
<i style="left:66px;width:1px;background:linear-gradient(#584935 0px,#f8c50c 1.5px,#f8cf0d 123.5px,#f9e00f 137.5px,#f7b40a 142.5px,#ef3d15 150.5px,#ed3017 156.5px,#ef4214 170.5px,#ee3815 195.5px,#ee3316 218.5px,#f3720e 226.5px,#ef4614 229.5px,#e20f27 232.5px,#782494 237.5px,#3835a0 242.5px,#243fa0 250.5px,#2a3ca0 319.5px,#582c9b 324.5px,#8c1f84 329.5px,#e00f2b 333.5px,#ea1b1b 336.5px,#eb1f1b 348.5px,#e20f28 372.5px,#a11b72 392.5px,#9f1b74 398px)"></i>
<i style="left:67px;width:1px;background:linear-gradient(#584734 0px,#f7bd0b 1.5px,#f8c70c 123.5px,#f8d80e 137.5px,#f7b90b 141.5px,#ee3516 149.5px,#eb201a 155.5px,#ec2819 217.5px,#f15611 222.5px,#f3750e 225.5px,#f26310 227.5px,#e70e1f 231.5px,#892086 236.5px,#572c9c 239.5px,#2c3ba0 244.5px,#2140a0 273.5px,#283da0 319.5px,#532d9c 324.5px,#862189 329.5px,#dd1030 333.5px,#e9161c 335.5px,#eb231a 346.5px,#e10f29 371.5px,#9b1c78 392.5px,#991d79 398px)"></i>
<i style="left:68px;width:1px;background:linear-gradient(#584a35 0px,#f8ca0d 1.5px,#f9e310 57.5px,#f8c80d 87.5px,#f8d80e 110.5px,#f9e81d 123.5px,#fbef46 134.5px,#faeb2c 139.5px,#f8d90e 141.5px,#ee3216 149.5px,#e9171c 154.5px,#eb1f1a 215.5px,#ef4314 219.5px,#f4810d 223.5px,#f4850d 225.5px,#e9151d 230.5px,#852189 236.5px,#3c33a0 241.5px,#2140a0 246.5px,#253ea0 320.5px,#712597 329.5px,#d11242 333.5px,#e50e22 336.5px,#ea191c 346.5px,#e10f29 365.5px,#b41763 380.5px,#83218b 393.5px,#82218c 398px)"></i>
<i style="left:69px;width:1px;background:linear-gradient(#59543e 0px,#faeb2d 1.5px,#fae925 64.5px,#f9e00f 77.5px,#f9e81a 109.5px,#fbf25a 128.5px,#fbf466 136.5px,#fbf151 139.5px,#f9dc0f 142.5px,#ef4014 150.5px,#ed2b18 154.5px,#ee3117 212.5px,#f15c11 216.5px,#f8ce0d 221.5px,#f8d50e 224.5px,#f7aa0a 226.5px,#ee3a15 229.5px,#e8101e 231.5px,#84218a 237.5px,#3e32a0 242.5px,#2b3ba0 249.5px,#3835a0 305.5px,#3735a0 319.5px,#83218b 326.5px,#b51763 330.5px,#e80e1f 333.5px,#eb231a 337.5px,#ee3216 345.5px,#ea191c 355.5px,#e10f28 371.5px,#9b1c78 392.5px,#991d79 398px)"></i>
<i style="left:70px;width:1px;background:linear-gradient(#59543b 0px,#fae921 1.5px,#fae924 116.5px,#fbf35e 134.5px,#fbef47 139.5px,#f9dc0f 142.5px,#f15312 150.5px,#ef3c15 155.5px,#ef4414 210.5px,#f36d0e 214.5px,#f9e611 219.5px,#faee40 221.5px,#faed3b 222.5px,#f9de0f 224.5px,#ee3915 229.5px,#e9141d 231.5px,#b31864 235.5px,#732597 238.5px,#3934a0 244.5px,#4c2e9d 299.5px,#43319f 319.5px,#80228e 324.5px,#c9134e 330.5px,#e60e21 332.5px,#ed3017 336.5px,#f05112 344.5px,#ec2918 351.5px,#e8111d 372.5px,#b01866 393.5px,#af1867 398px)"></i>
<i style="left:71px;width:1px;background:linear-gradient(#595336 0px,#f9e410 1.5px,#f9e717 120.5px,#fbef49 134.5px,#faec32 139.5px,#f9df0f 141.5px,#ee3516 150.5px,#ec2419 156.5px,#ed2d17 210.5px,#f05012 213.5px,#f8c40c 218.5px,#f8cb0d 221.5px,#f3710e 225.5px,#ec2819 228.5px,#e60e22 230.5px,#9f1c74 235.5px,#6a2798 238.5px,#3437a0 243.5px,#253ea0 252.5px,#2d3aa0 319.5px,#5b2b9b 324.5px,#8e1f83 329.5px,#e00f2b 333.5px,#ea1b1b 336.5px,#ef3c15 344.5px,#e9171c 353.5px,#e20f27 370.5px,#981d7a 392.5px,#961d7b 398px)"></i>
<i style="left:72px;width:1px;background:linear-gradient(#584d35 0px,#f8d30e 1.5px,#f9e510 123.5px,#faec37 134.5px,#f9e920 139.5px,#f8d50e 141.5px,#ee3716 149.5px,#ea1a1b 154.5px,#ec2719 188.5px,#eb211a 208.5px,#f04713 212.5px,#f7af0a 217.5px,#f6a80b 220.5px,#ed2d17 226.5px,#e40f24 229.5px,#a61a6e 234.5px,#652899 238.5px,#2f39a0 243.5px,#2140a0 251.5px,#293ca0 320.5px,#7a2393 329.5px,#d6113a 333.5px,#e8101e 335.5px,#ee3616 344.5px,#e8101e 353.5px,#df0f2b 369.5px,#aa196c 384.5px,#8d1f83 396.5px,#8d1f83 398px)"></i>
<i style="left:73px;width:1px;background:linear-gradient(#595035 0px,#f9db0f 1.5px,#f9e10f 121.5px,#faec35 135.5px,#f9e920 139.5px,#f8d80e 141.5px,#ef3f14 150.5px,#ed2b18 155.5px,#ee3416 207.5px,#f36c0e 211.5px,#f8c60c 215.5px,#f8cc0d 218.5px,#ef4214 225.5px,#e50f23 230.5px,#b11865 234.5px,#762496 237.5px,#3835a0 242.5px,#243ea0 250.5px,#2b3ba0 319.5px,#592b9b 324.5px,#8e1f82 329.5px,#d21240 332.5px,#e9131d 334.5px,#ef3e15 341.5px,#f04f12 344.5px,#ea1e1b 351.5px,#e30f26 372.5px,#a31b71 392.5px,#a11b73 398px)"></i>
<i style="left:74px;width:1px;background:linear-gradient(#595136 0px,#f9de0f 1.5px,#f9db0f 111.5px,#f9e81a 124.5px,#faed3d 134.5px,#faea29 139.5px,#f8d10e 142.5px,#f15512 150.5px,#ef3e15 155.5px,#f04614 205.5px,#f3700e 209.5px,#f8d80e 214.5px,#f9db0f 217.5px,#f15811 224.5px,#e30f25 231.5px,#a61a6f 235.5px,#672899 238.5px,#3934a0 242.5px,#293ca0 251.5px,#2f39a0 319.5px,#61299a 324.5px,#991d79 329.5px,#e70e1f 333.5px,#ef3f14 340.5px,#f26010 343.5px,#f04d13 346.5px,#ec2719 350.5px,#e30f25 374.5px,#af1867 392.5px,#ad1969 398px)"></i>
<i style="left:75px;width:1px;background:linear-gradient(#584a35 0px,#f8c90d 1.5px,#f8d10e 122.5px,#f9e510 136.5px,#f8c90d 141.5px,#ef4014 150.5px,#ed2d18 156.5px,#ee3416 205.5px,#f2660f 209.5px,#f7b90b 213.5px,#f8c40c 216.5px,#ef4514 223.5px,#e60e22 230.5px,#b21864 234.5px,#772496 237.5px,#3934a0 242.5px,#273da0 251.5px,#2e3aa0 319.5px,#5e2a9a 324.5px,#951e7c 329.5px,#d6113a 332.5px,#ea181c 334.5px,#ef3d15 340.5px,#f25f10 343.5px,#f04c13 346.5px,#ec2519 350.5px,#e40f24 373.5px,#aa196b 392.5px,#a81a6d 398px)"></i>
<i style="left:76px;width:1px;background:linear-gradient(#595036 0px,#f9dd0f 1.5px,#f9e81c 120.5px,#fbf04f 134.5px,#faed3a 139.5px,#f9e410 141.5px,#ee3716 150.5px,#eb2319 155.5px,#ee3216 175.5px,#ec2719 197.5px,#ed2e17 205.5px,#f15512 208.5px,#f7bf0b 213.5px,#f7b90b 216.5px,#ef3b15 222.5px,#e70e1f 229.5px,#ac196a 234.5px,#652899 238.5px,#2f39a0 243.5px,#2140a0 251.5px,#283ca0 320.5px,#792394 329.5px,#d6113a 333.5px,#e8101e 335.5px,#ee3316 341.5px,#f04614 344.5px,#e9121d 351.5px,#e10f29 368.5px,#a91a6c 384.5px,#8c2084 396.5px,#8c2084 398px)"></i>
<i style="left:77px;width:1px;background:linear-gradient(#594f35 0px,#f8d80e 1.5px,#f9e718 22.5px,#fbef48 38.5px,#fbf152 120.5px,#fcf885 134.5px,#fcf56f 139.5px,#f9e714 142.5px,#f15611 148.5px,#ec2719 151.5px,#ea1b1b 157.5px,#eb201a 203.5px,#ee3716 206.5px,#f8cd0d 212.5px,#f8d90e 214.5px,#f6a30b 217.5px,#ef3b15 221.5px,#e30f26 229.5px,#af1867 234.5px,#6e2697 238.5px,#2b3ba0 244.5px,#223fa0 259.5px,#243fa0 315.5px,#3a34a0 322.5px,#7b2392 329.5px,#d5113c 333.5px,#e80f1e 336.5px,#ef3c15 344.5px,#e70e1f 350.5px,#d21240 370.5px,#792393 392.5px,#772495 398px)"></i>
<i style="left:78px;width:1px;background:linear-gradient(#584b35 0px,#f8ca0d 1.5px,#f9e10f 59.5px,#f8cf0d 96.5px,#f9e819 123.5px,#faee42 134.5px,#faeb2d 139.5px,#f9dc0f 141.5px,#ed2e17 149.5px,#e60e21 154.5px,#e9161c 203.5px,#ee3216 206.5px,#f7b40a 211.5px,#f8c60c 213.5px,#f7af0a 215.5px,#ed3017 220.5px,#e80f1e 226.5px,#b71760 233.5px,#62299a 239.5px,#3039a0 244.5px,#273da0 253.5px,#3238a0 305.5px,#3039a0 319.5px,#80228d 328.5px,#bd165c 331.5px,#e80f1e 334.5px,#ee3815 341.5px,#f04913 344.5px,#e9121d 351.5px,#db1032 369.5px,#a61a6f 383.5px,#84218b 395.5px,#84218b 398px)"></i>
<i style="left:79px;width:1px;background:linear-gradient(#584e35 0px,#f8d40e 1.5px,#f8ca0d 71.5px,#f8cf0d 110.5px,#f9e81b 127.5px,#faeb2e 135.5px,#f9e310 140.5px,#f3740e 146.5px,#ed2f17 150.5px,#ea1b1b 156.5px,#eb221a 202.5px,#ee3a15 205.5px,#f8c80c 211.5px,#f8d00d 213.5px,#f5990c 216.5px,#ee3815 220.5px,#e30f26 229.5px,#ac196a 234.5px,#6a2798 238.5px,#3437a0 243.5px,#253ea0 252.5px,#2d3aa0 319.5px,#5b2b9b 324.5px,#8e1f82 329.5px,#e00f2b 333.5px,#ea1c1b 336.5px,#ef4114 341.5px,#f15312 344.5px,#ea1d1b 350.5px,#e20f27 370.5px,#981d7a 392.5px,#961d7c 398px)"></i>
<i style="left:80px;width:1px;background:linear-gradient(#595540 0px,#faeb31 1.5px,#faed3b 120.5px,#fcf56e 134.5px,#fbf25b 139.5px,#f9e718 142.5px,#f3700e 149.5px,#f04614 154.5px,#f2680f 165.5px,#f25e10 194.5px,#f04c13 201.5px,#f3720e 205.5px,#f9e410 210.5px,#faec35 212.5px,#f9da0f 215.5px,#f26a0f 220.5px,#ea191c 230.5px,#da1034 232.5px,#931e7f 236.5px,#682899 238.5px,#3935a0 242.5px,#263ea0 250.5px,#2c3ba0 319.5px,#5b2b9b 324.5px,#911e80 329.5px,#d4113d 332.5px,#e9151c 334.5px,#ee3a15 340.5px,#f15c11 343.5px,#f04813 346.5px,#eb231a 350.5px,#e20f28 373.5px,#a71a6e 392.5px,#a51a70 398px)"></i>
<i style="left:81px;width:1px;background:linear-gradient(#595035 0px,#f9db0f 1.5px,#f9e510 123.5px,#faec36 134.5px,#fae923 139.5px,#f9db0f 141.5px,#ee3516 150.5px,#eb221a 155.5px,#f04c13 164.5px,#ef4314 193.5px,#eb221a 200.5px,#ee3416 204.5px,#f8c20c 211.5px,#f7b70b 214.5px,#ee3516 220.5px,#e50f23 229.5px,#aa196b 234.5px,#652899 238.5px,#3039a0 243.5px,#2140a0 251.5px,#263ea0 319.5px,#80228d 329.5px,#da1034 333.5px,#e9141d 335.5px,#ee3a15 341.5px,#f04d13 344.5px,#e9171c 351.5px,#e10f2a 370.5px,#961e7c 392.5px,#941e7e 398px)"></i>
<i style="left:82px;width:1px;background:linear-gradient(#584234 0px,#f7ac0a 1.5px,#f7be0b 20.5px,#f9e310 40.5px,#f9e716 121.5px,#fbef46 134.5px,#faec32 139.5px,#f9df0f 141.5px,#ed2b18 149.5px,#e10f29 153.5px,#eb231a 172.5px,#ea1a1b 194.5px,#e30f25 201.5px,#ec2519 205.5px,#f69e0b 211.5px,#f69c0b 213.5px,#eb231a 219.5px,#e30f26 223.5px,#ca134d 230.5px,#652899 238.5px,#243fa0 244.5px,#263ea0 321.5px,#762496 330.5px,#c81350 333.5px,#de102d 336.5px,#ea1b1b 340.5px,#ed3017 344.5px,#e00f2a 350.5px,#ce1247 370.5px,#742596 391.5px,#712597 398px)"></i>
<i style="left:83px;width:1px;background:linear-gradient(#584234 0px,#f7ad0a 1.5px,#f8c50c 26.5px,#f8d30e 57.5px,#f9dd0f 123.5px,#fae923 136.5px,#f9df0f 140.5px,#f47c0d 145.5px,#ec2a18 149.5px,#e20f27 153.5px,#eb1f1a 161.5px,#ea1b1b 194.5px,#e50f23 201.5px,#ec2719 205.5px,#f69a0b 211.5px,#f5940c 213.5px,#ed2d18 218.5px,#e60e21 222.5px,#d01243 229.5px,#8b2084 235.5px,#48309e 240.5px,#2140a0 246.5px,#283da0 321.5px,#6b2798 329.5px,#991d79 331.5px,#cc1349 333.5px,#e30f26 336.5px,#eb201a 340.5px,#ee3716 344.5px,#e60e22 350.5px,#d3113e 370.5px,#7c2391 392.5px,#7a2393 398px)"></i>
<i style="left:84px;width:1px;background:linear-gradient(#584d35 0px,#f8d30e 1.5px,#f9dd0f 123.5px,#fae924 136.5px,#f8d70e 141.5px,#ef3b15 151.5px,#ed3017 157.5px,#ee3516 194.5px,#ee3716 202.5px,#f3700e 206.5px,#f8c40c 210.5px,#f8c40c 213.5px,#ef4114 220.5px,#e50e22 230.5px,#b21865 234.5px,#772496 237.5px,#3835a0 242.5px,#253ea0 250.5px,#2c3ba0 319.5px,#5b2b9b 324.5px,#911e80 329.5px,#d4113e 332.5px,#e9151d 334.5px,#ee3a15 340.5px,#f15c11 343.5px,#f04813 346.5px,#eb231a 350.5px,#e20f28 373.5px,#a61a6f 392.5px,#a41b70 398px)"></i>
<i style="left:85px;width:1px;background:linear-gradient(#595339 0px,#f9e81a 1.5px,#f9e717 112.5px,#fbf04e 128.5px,#fbf25a 136.5px,#faee3e 140.5px,#f9e611 142.5px,#f15c11 151.5px,#f04a13 157.5px,#f15412 201.5px,#f4810d 205.5px,#f9e310 210.5px,#f9e00f 213.5px,#f26010 220.5px,#ed3017 228.5px,#e80e1e 231.5px,#a9196c 235.5px,#682899 238.5px,#3935a0 242.5px,#273da0 251.5px,#2d3aa0 319.5px,#5e2a9a 324.5px,#941e7d 329.5px,#d5113b 332.5px,#e9171c 334.5px,#ef3c15 340.5px,#f25f10 343.5px,#f04b13 346.5px,#ec2519 350.5px,#e30f25 373.5px,#a9196c 392.5px,#a71a6d 398px)"></i>
<i style="left:86px;width:1px;background:linear-gradient(#595136 0px,#f9df0f 1.5px,#f8d50e 68.5px,#f8cb0d 102.5px,#f9e719 117.5px,#fbf258 134.5px,#fbef47 139.5px,#f9e00f 142.5px,#ef3e15 151.5px,#ed2c18 156.5px,#ee3316 201.5px,#f26410 205.5px,#f8c90d 210.5px,#f8c20c 213.5px,#f04913 219.5px,#ed2e17 224.5px,#e50e23 230.5px,#b21865 234.5px,#772496 237.5px,#3736a0 242.5px,#2140a0 249.5px,#253ea0 319.5px,#5b2b9b 325.5px,#7f228f 329.5px,#d91035 333.5px,#e9131d 335.5px,#ee3815 341.5px,#f04c13 344.5px,#e9161c 351.5px,#e20f27 369.5px,#941e7d 392.5px,#921e7f 398px)"></i>
<i style="left:87px;width:1px;background:linear-gradient(#584b35 0px,#f8cd0d 1.5px,#f8cf0d 117.5px,#f9e713 137.5px,#f8d00d 141.5px,#ed2e17 150.5px,#e9171c 156.5px,#eb1f1a 201.5px,#ee3815 204.5px,#f7bc0b 210.5px,#f7bd0b 212.5px,#f2650f 216.5px,#ed2d18 219.5px,#e50e22 228.5px,#b61761 233.5px,#662899 238.5px,#3238a0 243.5px,#2240a0 252.5px,#293ca0 319.5px,#542c9c 324.5px,#862189 329.5px,#dd1030 333.5px,#e9171c 335.5px,#ef3d15 341.5px,#f05112 344.5px,#ea191c 351.5px,#e20f27 370.5px,#981d7a 392.5px,#961d7c 398px)"></i>
<i style="left:88px;width:1px;background:linear-gradient(#595136 0px,#f9de0f 1.5px,#f9e719 124.5px,#faed3c 134.5px,#faeb2c 139.5px,#f8d50e 142.5px,#ef3b15 151.5px,#ed2c18 157.5px,#ee3516 201.5px,#f3760e 205.5px,#f9dd0f 209.5px,#f9e920 211.5px,#f8d80e 213.5px,#f15a11 218.5px,#ee3117 222.5px,#e9161c 229.5px,#c71351 233.5px,#6c2798 238.5px,#3735a0 243.5px,#2d3aa0 255.5px,#3437a0 319.5px,#742496 325.5px,#b51762 330.5px,#e80f1e 333.5px,#ef4114 340.5px,#f26210 343.5px,#f04d13 346.5px,#ec2519 350.5px,#e20f27 373.5px,#a71a6e 392.5px,#a51a6f 398px)"></i>
<i style="left:89px;width:1px;background:linear-gradient(#595236 0px,#f9e10f 1.5px,#f8d70e 71.5px,#f9dc0f 109.5px,#fae924 122.5px,#fbf151 134.5px,#faec33 140.5px,#f9e10f 142.5px,#f05012 151.5px,#ef3b15 156.5px,#ef4514 200.5px,#f4790d 204.5px,#f9e310 208.5px,#fbef47 210.5px,#fbf04a 211.5px,#f9e718 213.5px,#f4820d 217.5px,#f05112 220.5px,#eb211a 229.5px,#d91035 232.5px,#971d7b 236.5px,#5d2a9a 239.5px,#3437a0 244.5px,#3835a0 319.5px,#7c2391 325.5px,#be155b 330.5px,#e9141d 333.5px,#f04913 340.5px,#f2690f 343.5px,#f15512 346.5px,#ec2a18 350.5px,#e10f29 375.5px,#af1868 393.5px,#ae1968 398px)"></i>
<i style="left:90px;width:1px;background:linear-gradient(#595136 0px,#f9e10f 1.5px,#f8d70e 68.5px,#f8ce0d 103.5px,#f9e81c 117.5px,#fbf25b 134.5px,#faee3f 140.5px,#f9e613 142.5px,#f15911 151.5px,#ef4414 156.5px,#f04a13 199.5px,#f3710e 203.5px,#f8d60e 207.5px,#f9e81e 208.5px,#fbf155 210.5px,#fbf155 211.5px,#f9e81e 213.5px,#f7bb0b 215.5px,#f26210 219.5px,#ed2f17 228.5px,#e80e1e 231.5px,#ad1969 235.5px,#6c2698 238.5px,#3835a0 243.5px,#3138a0 261.5px,#3735a0 319.5px,#7b2392 325.5px,#be155b 330.5px,#e9141d 333.5px,#f04913 340.5px,#f36a0f 343.5px,#f15611 346.5px,#ed2b18 350.5px,#e20f27 375.5px,#b11866 393.5px,#b01867 398px)"></i>
<i style="left:91px;width:1px;background:linear-gradient(#59543f 0px,#faeb2e 1.5px,#fae923 72.5px,#faea2b 112.5px,#fbf151 126.5px,#fcf569 135.5px,#fbf04e 140.5px,#f9e00f 143.5px,#f15811 151.5px,#ef4114 156.5px,#f04813 199.5px,#f36e0e 203.5px,#f9e410 208.5px,#faed3a 210.5px,#f9e921 212.5px,#f8c50c 214.5px,#f2680f 218.5px,#ef4414 223.5px,#ed2c18 228.5px,#e50f23 231.5px,#a71a6d 235.5px,#682798 238.5px,#3934a0 242.5px,#263da0 250.5px,#2d3aa0 319.5px,#5d2a9a 324.5px,#931e7e 329.5px,#d5113c 332.5px,#e9161c 334.5px,#ef3b15 340.5px,#f15d11 343.5px,#f04913 346.5px,#eb2319 350.5px,#e20f28 373.5px,#a61a6e 392.5px,#a51a70 398px)"></i>
<i style="left:92px;width:1px;background:linear-gradient(#584534 0px,#f7b60a 1.5px,#f8c00c 123.5px,#f8d10e 137.5px,#f7bc0b 141.5px,#ec2619 150.5px,#e70e1f 155.5px,#ea191c 201.5px,#f04913 205.5px,#f5990c 209.5px,#f69b0b 211.5px,#ed2b18 217.5px,#e80e1e 223.5px,#dc1030 228.5px,#ad1969 233.5px,#642999 238.5px,#3138a0 243.5px,#2140a0 252.5px,#273da0 319.5px,#5e2a9a 325.5px,#83218b 329.5px,#db1032 333.5px,#e9151c 335.5px,#ef3c15 341.5px,#f04f12 344.5px,#ea181c 351.5px,#e20f27 370.5px,#981d7a 392.5px,#961d7c 398px)"></i>
<i style="left:93px;width:1px;background:linear-gradient(#59553f 0px,#faeb2f 1.5px,#faed38 120.5px,#fcf56b 134.5px,#fbf050 140.5px,#f9e10f 143.5px,#f15911 151.5px,#ef4014 156.5px,#f04713 199.5px,#f36d0e 203.5px,#f8d50e 208.5px,#f9e00f 211.5px,#f5950c 215.5px,#f15312 219.5px,#ed2b18 228.5px,#e40f24 231.5px,#a61a6e 235.5px,#672899 238.5px,#3835a0 242.5px,#233fa0 250.5px,#293ca0 319.5px,#562c9c 324.5px,#892086 329.5px,#de102d 333.5px,#ea191c 335.5px,#ee3316 340.5px,#f15512 343.5px,#ef4114 346.5px,#ea1c1b 351.5px,#e30f26 371.5px,#9e1c75 392.5px,#9c1c77 398px)"></i>
<i style="left:94px;width:1px;background:linear-gradient(#584634 0px,#f7ba0b 1.5px,#f7b20a 66.5px,#f69e0b 86.5px,#f7ab0a 107.5px,#f9e718 134.5px,#f9dd0f 140.5px,#f5910c 145.5px,#ed2b18 151.5px,#ea1a1b 157.5px,#eb221a 200.5px,#ef3b15 203.5px,#f7af0a 209.5px,#f69d0b 212.5px,#ee3416 217.5px,#ea1a1b 224.5px,#e00f2a 229.5px,#b71760 233.5px,#652899 238.5px,#3039a0 243.5px,#2140a0 251.5px,#263ea0 319.5px,#81228d 329.5px,#da1033 333.5px,#e9141d 335.5px,#ef3a15 341.5px,#f04e13 344.5px,#e9171c 351.5px,#e10f29 370.5px,#961d7c 392.5px,#941e7d 398px)"></i>
<i style="left:95px;width:1px;background:linear-gradient(#584234 0px,#f7ad0a 1.5px,#f8c30c 23.5px,#f9da0f 45.5px,#f8cd0d 67.5px,#f7b80b 85.5px,#f8c40c 106.5px,#f9e81a 116.5px,#fcf467 133.5px,#fbf04c 140.5px,#f9e719 142.5px,#f47c0d 147.5px,#ed2e17 151.5px,#ea181c 156.5px,#eb221a 200.5px,#ef3d15 203.5px,#f6a60b 208.5px,#f7b20a 210.5px,#f4840d 213.5px,#ee3117 217.5px,#ea191c 224.5px,#df102c 229.5px,#b61762 233.5px,#652899 238.5px,#243fa0 244.5px,#273da0 321.5px,#792394 330.5px,#ca134c 333.5px,#e00f2a 336.5px,#ea1e1b 340.5px,#ee3316 344.5px,#e30f25 350.5px,#d11242 370.5px,#782495 392.5px,#762496 398px)"></i>
<i style="left:96px;width:1px;background:linear-gradient(#583f34 0px,#f6a40b 1.5px,#f8c10c 52.5px,#f8c80c 121.5px,#f9de0f 136.5px,#f8c90d 141.5px,#eb231a 150.5px,#e40f25 153.5px,#e40f25 199.5px,#ec2519 203.5px,#f4850d 209.5px,#f36c0f 212.5px,#eb2419 216.5px,#e30f25 220.5px,#d5113c 228.5px,#a51a6f 233.5px,#632999 238.5px,#263da0 244.5px,#243fa0 320.5px,#6f2697 329.5px,#d01244 333.5px,#e60e21 336.5px,#ef3c15 344.5px,#e60e21 351.5px,#d91136 369.5px,#a71a6e 382.5px,#80228e 394.5px,#80228e 398px)"></i>
<i style="left:97px;width:1px;background:linear-gradient(#584834 0px,#f8c00c 1.5px,#f8d80e 123.5px,#f9e715 137.5px,#f8d60e 141.5px,#ec2a18 151.5px,#ea1b1b 156.5px,#ee3316 166.5px,#ed2b18 194.5px,#eb211a 200.5px,#ef3d15 203.5px,#f69c0b 208.5px,#f5960c 211.5px,#ed2b18 217.5px,#e40f24 228.5px,#b51763 233.5px,#652899 238.5px,#2f39a0 243.5px,#2140a0 251.5px,#283da0 320.5px,#762496 329.5px,#d5113c 333.5px,#e80f1e 335.5px,#ee3216 341.5px,#ef4414 344.5px,#e9111d 351.5px,#e00f2b 368.5px,#ab196a 383.5px,#8a2086 395.5px,#8a2086 398px)"></i>
<i style="left:98px;width:1px;background:linear-gradient(#584935 0px,#f8c40c 1.5px,#f9e00f 54.5px,#f9e717 123.5px,#faee40 134.5px,#faea27 140.5px,#f9dc0f 142.5px,#ee3216 151.5px,#eb1e1b 155.5px,#ee3915 167.5px,#ed3017 194.5px,#ec2819 200.5px,#f04913 203.5px,#f6a80b 208.5px,#f69e0b 211.5px,#ed2f17 217.5px,#e20f27 229.5px,#a81a6d 234.5px,#652899 238.5px,#2d3aa0 243.5px,#2140a0 250.5px,#243fa0 320.5px,#702697 329.5px,#d01244 333.5px,#e60e21 336.5px,#ef3c15 344.5px,#e60e21 351.5px,#d91136 369.5px,#a71a6e 382.5px,#80228d 394.5px,#80228e 398px)"></i>
<i style="left:99px;width:1px;background:linear-gradient(#584234 0px,#f7ae0a 1.5px,#f8c40c 123.5px,#f8d50e 137.5px,#f7b90b 142.5px,#ed2d17 150.5px,#e8111d 155.5px,#ea1c1b 200.5px,#f04c13 204.5px,#f5940c 208.5px,#f4860d 211.5px,#ed2b18 216.5px,#e8111d 223.5px,#df102c 228.5px,#af1867 233.5px,#642899 238.5px,#2f39a0 243.5px,#2140a0 251.5px,#283da0 320.5px,#772495 329.5px,#d5113b 333.5px,#e80f1e 335.5px,#ee3216 341.5px,#ef4514 344.5px,#e9121d 351.5px,#e00f2a 368.5px,#a71a6d 384.5px,#8b2085 396.5px,#8b2085 398px)"></i>
<i style="left:100px;width:1px;background:linear-gradient(#594e35 0px,#f8d50e 1.5px,#f9dd0f 122.5px,#fae923 130.5px,#f9e81f 138.5px,#f8d50e 142.5px,#ee3716 152.5px,#ec2a18 162.5px,#ee3216 199.5px,#f26410 203.5px,#f7b70b 207.5px,#f7be0b 210.5px,#ef3f14 217.5px,#ed2b18 224.5px,#e40f25 230.5px,#b11866 234.5px,#762496 237.5px,#3735a0 242.5px,#2140a0 249.5px,#273da0 319.5px,#5e2a9a 325.5px,#84218b 329.5px,#dc1031 333.5px,#e9161c 335.5px,#ef3d15 341.5px,#f05012 344.5px,#ea191c 351.5px,#e20f27 370.5px,#991d79 392.5px,#971d7b 398px)"></i>
<i style="left:101px;width:1px;background:linear-gradient(#595648 0px,#fbf04d 1.5px,#fbf256 120.5px,#fcf88a 134.5px,#fcf672 140.5px,#faec35 143.5px,#f9e717 144.5px,#f3750e 151.5px,#f15611 155.5px,#f15e10 198.5px,#f5890c 202.5px,#f9de0f 206.5px,#faec32 208.5px,#faea28 210.5px,#f9e410 211.5px,#f3700e 217.5px,#f15611 223.5px,#ef4614 227.5px,#e9131d 231.5px,#ad1969 235.5px,#682798 238.5px,#3835a0 242.5px,#243ea0 250.5px,#2b3ba0 319.5px,#592b9b 324.5px,#8e1f82 329.5px,#d21240 332.5px,#e9141d 334.5px,#ee3716 340.5px,#f15911 343.5px,#ef4614 346.5px,#eb1e1b 351.5px,#e30f26 372.5px,#a31b71 392.5px,#a11b73 398px)"></i>
<i style="left:102px;width:1px;background:linear-gradient(#594f35 0px,#f8d80e 1.5px,#f9e210 123.5px,#faeb30 135.5px,#f9e410 141.5px,#f4840d 147.5px,#ee3516 152.5px,#ec2a18 159.5px,#ee3316 199.5px,#f25e10 202.5px,#f9da0f 207.5px,#f9e510 209.5px,#f7b30a 212.5px,#f04e13 216.5px,#ed2f17 219.5px,#ea1b1b 228.5px,#da1034 231.5px,#a21b72 235.5px,#6b2798 238.5px,#3636a0 243.5px,#2b3ba0 254.5px,#3337a0 319.5px,#662899 324.5px,#9d1c76 329.5px,#e80e1e 333.5px,#ef3f14 340.5px,#f26010 343.5px,#f04c13 346.5px,#ec2519 350.5px,#e20f27 373.5px,#a61a6e 392.5px,#a41a70 398px)"></i>
<i style="left:103px;width:1px;background:linear-gradient(#595336 0px,#f9e510 1.5px,#f9e718 120.5px,#fbf04b 134.5px,#faec35 140.5px,#f9e612 142.5px,#ef4514 152.5px,#ee3216 156.5px,#ef3e15 198.5px,#f26010 201.5px,#f9e410 206.5px,#fbef45 208.5px,#fbef44 209.5px,#f9e210 211.5px,#f26110 216.5px,#ef3b15 220.5px,#ec2719 228.5px,#e40f24 231.5px,#b11865 235.5px,#752496 238.5px,#3b34a0 244.5px,#5a2b9b 296.5px,#44319f 318.5px,#772495 323.5px,#ad1969 327.5px,#cc1349 330.5px,#e80f1e 332.5px,#ee3316 336.5px,#f26110 341.5px,#f3720e 344.5px,#ed2e17 350.5px,#e20f27 375.5px,#b01866 393.5px,#af1867 398px)"></i>
<i style="left:104px;width:1px;background:linear-gradient(#59553f 0px,#faeb30 1.5px,#faeb2f 113.5px,#fbf153 126.5px,#fcf56b 135.5px,#fbef4a 141.5px,#f9dd0f 144.5px,#f15a11 152.5px,#ef4514 157.5px,#f04d13 197.5px,#f4790d 201.5px,#f9e410 205.5px,#fbf361 207.5px,#fcf672 208.5px,#fcf56f 209.5px,#f9dc0f 212.5px,#f3750e 216.5px,#f05112 220.5px,#ef4214 227.5px,#e40f24 232.5px,#ad1969 236.5px,#6f2697 239.5px,#4131a0 246.5px,#892087 280.5px,#84218b 300.5px,#60299a 318.5px,#892086 322.5px,#c81350 327.5px,#db1033 330.5px,#ea1e1b 332.5px,#f04713 336.5px,#f3720e 341.5px,#f4830d 344.5px,#ee3815 350.5px,#e20f27 377.5px,#ba165e 393.5px,#ba165e 398px)"></i>
<i style="left:105px;width:1px;background:linear-gradient(#59543f 0px,#faeb2e 1.5px,#faeb2d 113.5px,#fbf150 126.5px,#fcf569 135.5px,#fbef47 141.5px,#f9e714 143.5px,#f15e10 150.5px,#ed2e17 154.5px,#ee3316 198.5px,#f15a11 201.5px,#f9df0f 206.5px,#faeb31 208.5px,#faea2b 209.5px,#f9e611 210.5px,#f15312 216.5px,#ee3216 220.5px,#eb2419 228.5px,#e40f25 231.5px,#a71a6e 236.5px,#6f2697 239.5px,#3b33a0 245.5px,#5f2a9a 266.5px,#80228e 291.5px,#532d9c 318.5px,#762496 322.5px,#b81760 327.5px,#d01243 330.5px,#e9121d 332.5px,#ee3416 336.5px,#f25f10 341.5px,#f36e0e 344.5px,#ec2a18 350.5px,#e20f28 373.5px,#a51a70 392.5px,#a31b71 398px)"></i>
<i style="left:106px;width:1px;background:linear-gradient(#595338 0px,#f9e719 1.5px,#faea29 18.5px,#fbf35d 38.5px,#fbf467 120.5px,#fdfa9c 134.5px,#fcf885 140.5px,#faed3c 143.5px,#f9e715 144.5px,#f15911 150.5px,#ec2a18 153.5px,#eb231a 163.5px,#ec2918 198.5px,#f04a13 201.5px,#f8ce0d 206.5px,#f9e410 208.5px,#f8d10e 210.5px,#ef3d15 216.5px,#eb2419 221.5px,#e9171c 228.5px,#d01243 232.5px,#742496 238.5px,#3139a0 244.5px,#273da0 252.5px,#3a34a0 300.5px,#3238a0 319.5px,#82228c 328.5px,#bd155c 331.5px,#e80f1e 334.5px,#ee3516 341.5px,#ef4614 344.5px,#e80f1e 351.5px,#d5113b 370.5px,#9a1d79 384.5px,#7d2391 396.5px,#7d2391 398px)"></i>
<i style="left:107px;width:1px;background:linear-gradient(#584c35 0px,#f8d00d 1.5px,#f9e612 59.5px,#f9e81c 120.5px,#fbf04e 134.5px,#faed39 140.5px,#f9d90f 143.5px,#ed3017 151.5px,#e9131d 156.5px,#eb231a 199.5px,#f04f12 202.5px,#f7bb0b 206.5px,#f8cf0d 208.5px,#f7b90b 210.5px,#ee3716 215.5px,#e9161c 220.5px,#e40f25 228.5px,#ba165f 233.5px,#6d2698 238.5px,#2e3aa0 244.5px,#243fa0 254.5px,#293ca0 312.5px,#3138a0 320.5px,#862189 329.5px,#db1033 333.5px,#e9141d 335.5px,#ee3516 341.5px,#f04714 344.5px,#e8111d 351.5px,#db1032 369.5px,#a51a6f 383.5px,#84218b 395.5px,#84218b 398px)"></i>
<i style="left:108px;width:1px;background:linear-gradient(#584835 0px,#f8c20c 1.5px,#f8cc0d 123.5px,#f9dd0f 137.5px,#f8c70c 142.5px,#ed2c18 152.5px,#ec2519 157.5px,#ef4014 165.5px,#ee3915 193.5px,#ed2f17 199.5px,#f26110 202.5px,#f8cc0d 206.5px,#f9dc0f 208.5px,#f7ae0a 211.5px,#ef4314 215.5px,#eb221a 219.5px,#e50f23 229.5px,#b01867 234.5px,#6d2698 238.5px,#3934a0 243.5px,#3238a0 256.5px,#3934a0 319.5px,#7f228f 325.5px,#bf155a 330.5px,#e9141d 333.5px,#f04813 340.5px,#f2680f 343.5px,#f15312 346.5px,#ec2918 350.5px,#e20f27 374.5px,#ac196a 392.5px,#aa196b 398px)"></i>
<i style="left:109px;width:1px;background:linear-gradient(#595336 0px,#f9e610 1.5px,#f9e81a 120.5px,#fbf04d 134.5px,#faeb2d 141.5px,#f8d00d 144.5px,#ef4314 152.5px,#ee3117 155.5px,#f58b0c 163.5px,#f4860d 192.5px,#f04813 198.5px,#f26410 201.5px,#f9df0f 206.5px,#f9e81d 208.5px,#f8d40e 210.5px,#f15811 215.5px,#ee3216 219.5px,#eb1f1a 228.5px,#dd102f 231.5px,#921e7f 236.5px,#5c2b9b 239.5px,#3039a0 244.5px,#3138a0 319.5px,#62299a 324.5px,#981d7a 329.5px,#e50e23 333.5px,#ef3b15 340.5px,#f15c11 343.5px,#f04813 346.5px,#eb221a 350.5px,#e20f27 372.5px,#a21b72 392.5px,#a01b73 398px)"></i>
<i style="left:110px;width:1px;background:linear-gradient(#595648 0px,#fbf04c 1.5px,#fbf463 60.5px,#fcf56c 120.5px,#fdfaa2 134.5px,#fcf880 141.5px,#f9e410 145.5px,#f15a11 152.5px,#ef4314 155.5px,#f6a30b 163.5px,#f69d0b 192.5px,#f15b11 198.5px,#f3750e 201.5px,#f9e613 206.5px,#faea27 208.5px,#f8d90e 210.5px,#f26510 215.5px,#ef4014 219.5px,#ed2f17 227.5px,#e20f27 231.5px,#a41a70 235.5px,#672899 238.5px,#2f39a0 243.5px,#2140a0 251.5px,#283da0 320.5px,#782494 329.5px,#d5113b 333.5px,#e80f1e 335.5px,#ee3316 341.5px,#ef4614 344.5px,#e9121d 351.5px,#e10f2a 368.5px,#a81a6d 384.5px,#8b2085 396.5px,#8b2085 398px)"></i>
<i style="left:111px;width:1px;background:linear-gradient(#595336 0px,#f9e611 1.5px,#f9e81a 120.5px,#fbf04d 134.5px,#faeb2e 141.5px,#f9e00f 143.5px,#ef3f15 152.5px,#ed2b18 156.5px,#ef4314 167.5px,#ef3b15 194.5px,#ef3d15 199.5px,#f4860d 203.5px,#f8c40c 206.5px,#f8c20c 209.5px,#ef4614 215.5px,#ed2b18 219.5px,#ea191c 228.5px,#d81137 231.5px,#9c1c76 235.5px,#662899 238.5px,#3039a0 243.5px,#2140a0 250.5px,#253ea0 319.5px,#5b2b9b 325.5px,#7f228e 329.5px,#d91035 333.5px,#e9131d 335.5px,#ee3915 341.5px,#f04c13 344.5px,#e9161c 351.5px,#e20f27 369.5px,#941e7d 392.5px,#921e7f 398px)"></i>
<i style="left:112px;width:1px;background:linear-gradient(#584234 0px,#f7ac0a 1.5px,#f6a40b 67.5px,#f5950c 96.5px,#f7bd0b 120.5px,#f8d60e 136.5px,#f8c00c 142.5px,#ec2a18 152.5px,#ea191c 159.5px,#eb231a 198.5px,#ef4014 201.5px,#f6a00b 206.5px,#f69b0b 209.5px,#ed2e17 215.5px,#ea191c 224.5px,#e00f2b 229.5px,#b71761 233.5px,#652899 238.5px,#3238a0 243.5px,#233fa0 253.5px,#2a3ca0 319.5px,#572c9c 324.5px,#8b2085 329.5px,#df0f2b 333.5px,#ea1c1b 336.5px,#ef4314 341.5px,#f15611 344.5px,#eb1f1a 350.5px,#e10f29 372.5px,#a01b74 392.5px,#9e1c75 398px)"></i>
<i style="left:113px;width:1px;background:linear-gradient(#584534 0px,#f7b80b 1.5px,#f7af0a 67.5px,#f69f0b 90.5px,#f7b00a 109.5px,#f9e510 135.5px,#f8d00d 142.5px,#ee3416 153.5px,#ec2a18 182.5px,#ee3516 198.5px,#f36f0e 202.5px,#f7bd0b 206.5px,#f7b60a 209.5px,#ef4314 215.5px,#ed2b18 220.5px,#ea1b1b 228.5px,#d91035 231.5px,#9d1c76 235.5px,#662899 238.5px,#3337a0 243.5px,#273da0 255.5px,#2d3aa0 319.5px,#5d2a9a 324.5px,#941e7e 329.5px,#d5113b 332.5px,#e9171c 334.5px,#ef3c15 340.5px,#f25e10 343.5px,#f04b13 346.5px,#ec2419 350.5px,#e30f26 373.5px,#a91a6c 392.5px,#a71a6e 398px)"></i>
<i style="left:114px;width:1px;background:linear-gradient(#59543e 0px,#faeb2c 1.5px,#faea27 68.5px,#fae925 109.5px,#fbef49 125.5px,#fcf468 134.5px,#fbf04c 141.5px,#f9e410 144.5px,#f15412 153.5px,#ef4214 158.5px,#f04913 196.5px,#f36f0e 200.5px,#f9dc0f 205.5px,#f9e81e 207.5px,#f8cc0d 210.5px,#f26210 215.5px,#ef4414 220.5px,#ee3416 227.5px,#e50f23 231.5px,#a71a6e 235.5px,#672899 238.5px,#3835a0 242.5px,#243ea0 250.5px,#2b3ba0 319.5px,#592b9b 324.5px,#8e1f82 329.5px,#d21240 332.5px,#e9131d 334.5px,#ee3716 340.5px,#f15911 343.5px,#ef4514 346.5px,#eb1e1b 351.5px,#e30f26 372.5px,#a31b71 392.5px,#a11b73 398px)"></i>
<i style="left:115px;width:1px;background:linear-gradient(#595035 0px,#f9db0f 1.5px,#f8d50e 70.5px,#f8d80e 110.5px,#f9e719 123.5px,#faee41 134.5px,#fae924 141.5px,#f8ce0d 144.5px,#ee3915 152.5px,#eb221a 157.5px,#ec2a18 197.5px,#f04813 200.5px,#f7b90b 205.5px,#f8c40c 208.5px,#ee3716 215.5px,#eb221a 223.5px,#e60e21 229.5px,#ab196a 234.5px,#652899 238.5px,#3039a0 243.5px,#2140a0 250.5px,#253ea0 319.5px,#5a2b9b 325.5px,#7f228f 329.5px,#d91135 333.5px,#e9131d 335.5px,#ee3815 341.5px,#f04c13 344.5px,#e9161c 351.5px,#e20f27 369.5px,#941e7e 392.5px,#921e7f 398px)"></i>
<i style="left:116px;width:1px;background:linear-gradient(#584835 0px,#f8c30c 1.5px,#f8c60c 64.5px,#f7b30a 90.5px,#f8c50c 111.5px,#f9e717 128.5px,#fae924 136.5px,#f9db0f 142.5px,#f4850d 147.5px,#ed2b18 152.5px,#e9141d 157.5px,#ea1e1b 197.5px,#ee3915 200.5px,#f7b00a 205.5px,#f8c00c 207.5px,#f5920c 210.5px,#ee3316 214.5px,#e9161c 220.5px,#e30f26 228.5px,#b51762 233.5px,#672899 238.5px,#3138a0 243.5px,#2140a0 251.5px,#273da0 319.5px,#5d2a9a 325.5px,#81228d 329.5px,#da1034 333.5px,#e9141d 335.5px,#ee3815 341.5px,#f04b13 344.5px,#e9151d 351.5px,#e10f29 369.5px,#a31b71 386.5px,#8f1f81 398px)"></i>
<i style="left:117px;width:1px;background:linear-gradient(#595646 0px,#fbef45 1.5px,#fbf258 54.5px,#fbf050 118.5px,#fcf888 134.5px,#fcf56b 141.5px,#f9df0f 145.5px,#ef4114 153.5px,#ed2f17 157.5px,#ef3f15 197.5px,#f2680f 200.5px,#f8d60e 204.5px,#faec32 206.5px,#faec36 207.5px,#f9df0f 209.5px,#f15c11 214.5px,#ee3316 218.5px,#eb221a 228.5px,#e00f2b 231.5px,#9a1d79 236.5px,#632999 239.5px,#3238a0 244.5px,#2e3aa0 258.5px,#3437a0 309.5px,#3934a0 320.5px,#8b2084 328.5px,#c61453 331.5px,#e40f25 333.5px,#ee3516 340.5px,#f15512 343.5px,#ef3f15 346.5px,#ea181c 351.5px,#e20f28 369.5px,#921e7f 392.5px,#901f80 398px)"></i>
<i style="left:118px;width:1px;background:linear-gradient(#59543b 0px,#fae923 1.5px,#faee41 50.5px,#faea2b 110.5px,#faee44 124.5px,#fcf468 134.5px,#fbf04c 141.5px,#f9e10f 144.5px,#ee3216 153.5px,#ec2918 158.5px,#ee3316 192.5px,#ee3915 198.5px,#f3710e 201.5px,#f9db0f 205.5px,#f9e611 207.5px,#f7b20a 210.5px,#f04813 214.5px,#ec2819 218.5px,#ea181c 228.5px,#d01243 232.5px,#712597 238.5px,#3835a0 243.5px,#2a3ca0 251.5px,#3735a0 304.5px,#3536a0 319.5px,#862189 327.5px,#ae1968 330.5px,#e40f25 333.5px,#ee3516 340.5px,#f15412 343.5px,#ee3117 347.5px,#e9151d 353.5px,#e10f28 369.5px,#911e80 392.5px,#8f1f81 398px)"></i>
<i style="left:119px;width:1px;background:linear-gradient(#594f35 0px,#f8d80e 1.5px,#f9e10f 59.5px,#f8c50c 88.5px,#f9dc0f 120.5px,#f9e81e 128.5px,#faea2a 136.5px,#f9e10f 142.5px,#f4880d 148.5px,#ee3316 154.5px,#ee3316 196.5px,#f2670f 200.5px,#f9dd0f 205.5px,#f9e510 207.5px,#f7b20a 210.5px,#f05212 214.5px,#ed3017 218.5px,#ec2519 227.5px,#e60e21 230.5px,#b51763 234.5px,#692798 238.5px,#3536a0 243.5px,#2b3ba0 257.5px,#3138a0 319.5px,#642899 324.5px,#9c1c77 329.5px,#e80e1e 333.5px,#ef4014 340.5px,#f26110 343.5px,#f04e13 346.5px,#ec2719 350.5px,#e20f28 374.5px,#ac196a 392.5px,#aa196c 398px)"></i>
<i style="left:120px;width:1px;background:linear-gradient(#101039 0px,#1c1c5a 1.5px,#08081c 2.5px,#08081c 238.5px,#243496 239.5px,#273496 398px)"></i>
<i style="left:121px;width:1px;background:linear-gradient(#101039 0px,#1c1c5a 1.5px,#08081c 2.5px,#08081c 238.5px,#243496 239.5px,#273496 398px)"></i>
<i style="left:122px;width:1px;background:linear-gradient(#584334 0px,#1c1c5a 1.5px,#f7b20a 2.5px,#f8c70c 16.5px,#f9e714 23.5px,#fcf77d 35.5px,#fcf888 47.5px,#faee43 82.5px,#fbef49 120.5px,#fcf77c 134.5px,#fbf361 141.5px,#faec36 143.5px,#f9e613 144.5px,#ee3915 151.5px,#e60e21 155.5px,#e70e20 195.5px,#ee3416 200.5px,#f6a50b 205.5px,#f6a60b 207.5px,#ec2918 213.5px,#e50f23 218.5px,#dd102f 227.5px,#b9165f 232.5px,#662899 238.5px,#2140a0 244.5px,#283ca0 322.5px,#6c2698 330.5px,#be155b 333.5px,#d71139 336.5px,#e9171c 341.5px,#ea1e1b 345.5px,#dc1031 349.5px,#c21457 371.5px,#6f2697 388.5px,#662899 394.5px,#3b3097 395.5px,#3b3097 398px)"></i>
<i style="left:123px;width:1px;background:linear-gradient(#594e35 0px,#1c1c5a 1.5px,#f8d60e 2.5px,#f9e81b 23.5px,#fbef47 42.5px,#f9e81e 61.5px,#f9da0f 76.5px,#f9de0f 123.5px,#fae924 136.5px,#f9de0f 142.5px,#f5940c 147.5px,#ee3117 153.5px,#ed2b18 157.5px,#f04813 165.5px,#ef4014 194.5px,#f04714 198.5px,#f4830d 201.5px,#f8d30e 204.5px,#f9e610 206.5px,#f7ba0b 209.5px,#f05012 213.5px,#ed2d18 216.5px,#e9171c 228.5px,#cf1246 232.5px,#6d2698 238.5px,#3835a0 243.5px,#2f39a0 254.5px,#3736a0 319.5px,#862189 326.5px,#b9165f 330.5px,#e8111d 333.5px,#f04614 341.5px,#f15512 344.5px,#eb221a 351.5px,#e20f27 373.5px,#a71a6e 392.5px,#a51a70 394.5px,#4d2c8a 395.5px,#4d2c8a 398px)"></i>
<i style="left:124px;width:1px;background:linear-gradient(#59543c 0px,#1c1c5a 1.5px,#faea28 2.5px,#fbf25b 23.5px,#fdf993 41.5px,#fcf777 55.5px,#faeb2c 79.5px,#faea28 119.5px,#fbf35e 134.5px,#faed38 142.5px,#f9dc0f 145.5px,#f36b0f 154.5px,#f47d0d 158.5px,#f6a60b 163.5px,#f69e0b 193.5px,#f58f0c 197.5px,#f7b70b 200.5px,#f9e81a 202.5px,#fcf674 204.5px,#fdf98f 205.5px,#fdf996 206.5px,#fcf467 208.5px,#f9e10f 210.5px,#f4850d 214.5px,#f2660f 218.5px,#f15d11 226.5px,#e50e22 232.5px,#9f1c75 236.5px,#6e2697 238.5px,#3c33a0 243.5px,#41319f 319.5px,#82228c 324.5px,#cd1348 330.5px,#e8111d 332.5px,#ee3815 336.5px,#f36c0e 344.5px,#ee3316 351.5px,#ea1d1b 372.5px,#dc1031 381.5px,#c51455 394.5px,#572a82 395.5px,#572a82 398px)"></i>
<i style="left:125px;width:1px;background:linear-gradient(#595339 0px,#1c1c5a 1.5px,#f9e81b 2.5px,#fbf04c 20.5px,#fdfa9d 40.5px,#fcf88a 52.5px,#faea29 76.5px,#f9e716 110.5px,#faeb2f 124.5px,#fbf153 134.5px,#faeb2c 142.5px,#f9dc0f 144.5px,#ef3b15 153.5px,#ed2e17 157.5px,#ef4414 167.5px,#ef4214 197.5px,#f26a0f 200.5px,#f8c30c 204.5px,#f8c80d 207.5px,#ef3d15 214.5px,#ec2818 221.5px,#ea191c 228.5px,#d81137 231.5px,#9d1c76 235.5px,#662899 238.5px,#3039a0 243.5px,#2140a0 250.5px,#253ea0 319.5px,#5a2b9b 325.5px,#7e228f 329.5px,#d91136 333.5px,#e9121d 335.5px,#ee3716 344.5px,#e9131d 353.5px,#e20f28 369.5px,#931e7e 392.5px,#911e7f 394.5px,#482e8f 395.5px,#482e8f 398px)"></i>
<i style="left:126px;width:1px;background:linear-gradient(#583d34 0px,#1c1c5a 1.5px,#f69f0b 2.5px,#f8c40c 19.5px,#f9e81a 28.5px,#fbf257 38.5px,#fbf151 49.5px,#f9e10f 64.5px,#f8c00c 91.5px,#f8cb0d 124.5px,#f9d90f 137.5px,#f7be0b 143.5px,#ec2918 151.5px,#e10f2a 155.5px,#e80f1e 191.5px,#ea191c 198.5px,#f05212 202.5px,#f47d0d 205.5px,#f2670f 208.5px,#eb221a 212.5px,#e10f29 216.5px,#d3123f 228.5px,#a31b71 233.5px,#632999 238.5px,#253ea0 244.5px,#293ca0 321.5px,#6d2698 329.5px,#9c1c77 331.5px,#cd1247 333.5px,#e30f26 336.5px,#ec2519 345.5px,#e30f26 351.5px,#d71139 369.5px,#a81a6d 381.5px,#7c2391 394.5px,#412f94 395.5px,#412f94 398px)"></i>
<i style="left:127px;width:1px;background:linear-gradient(#584e35 0px,#1c1c5a 1.5px,#f8d50e 2.5px,#f9e81a 16.5px,#fdf999 38.5px,#fdf996 48.5px,#f9e410 74.5px,#f8d70e 117.5px,#f9e81a 128.5px,#faea27 136.5px,#f9e00f 142.5px,#f5970c 147.5px,#ee3216 153.5px,#ed2d17 158.5px,#ef4014 167.5px,#ef3b15 197.5px,#f25f10 200.5px,#f7ae0a 204.5px,#f7ad0a 207.5px,#ef3a15 213.5px,#eb221a 220.5px,#e9141d 228.5px,#be155b 233.5px,#752496 237.5px,#3636a0 242.5px,#2140a0 248.5px,#2a3ca0 320.5px,#7c2391 329.5px,#d81138 333.5px,#e9111d 335.5px,#ed2e17 345.5px,#e9111d 354.5px,#e10f29 369.5px,#9f1c74 387.5px,#8f1f81 394.5px,#472e90 395.5px,#472e90 398px)"></i>
<i style="left:128px;width:1px;background:linear-gradient(#584434 0px,#1c1c5a 1.5px,#f7b60a 2.5px,#f9e10f 21.5px,#fcf77e 38.5px,#fcf77a 48.5px,#f9e10f 67.5px,#f8c00c 92.5px,#f8cb0d 124.5px,#f9da0f 137.5px,#f8c10c 143.5px,#ec2a18 152.5px,#e9171c 156.5px,#ef3a15 165.5px,#ee3316 193.5px,#ed2e17 198.5px,#f15a11 201.5px,#f5900c 204.5px,#f58c0c 207.5px,#ed2e17 212.5px,#e9111d 218.5px,#e40f24 227.5px,#af1867 233.5px,#642899 238.5px,#2f39a0 243.5px,#2140a0 251.5px,#273da0 320.5px,#762496 329.5px,#d4113d 333.5px,#e70e1f 335.5px,#ec2918 345.5px,#e80e1e 354.5px,#dd102f 369.5px,#a61a6f 384.5px,#892087 394.5px,#452e91 395.5px,#452e91 398px)"></i>
<i style="left:129px;width:1px;background:linear-gradient(#584b35 0px,#1c1c5a 1.5px,#f8ce0d 2.5px,#f9e719 16.5px,#fefdca 36.5px,#fffed8 45.5px,#fdfa9e 56.5px,#faeb2c 73.5px,#f9e310 86.5px,#f9e717 123.5px,#faee3f 134.5px,#f9e819 142.5px,#f7b10a 146.5px,#ed2e17 153.5px,#ec2719 157.5px,#f04f12 164.5px,#f04813 193.5px,#ef4014 198.5px,#f4850d 202.5px,#f7ac0a 205.5px,#f58d0c 208.5px,#ed3017 213.5px,#ea1c1b 222.5px,#e20f28 229.5px,#a71a6e 234.5px,#652899 238.5px,#2e3aa0 243.5px,#2140a0 249.5px,#253ea0 320.5px,#722597 329.5px,#d11242 333.5px,#e60e21 336.5px,#eb2419 345.5px,#e50f23 353.5px,#da1034 369.5px,#aa196b 382.5px,#83218b 394.5px,#432e93 395.5px,#432e93 398px)"></i>
<i style="left:130px;width:1px;background:linear-gradient(#595336 0px,#1c1c5a 1.5px,#f9e713 2.5px,#fbf04e 17.5px,#fffee0 37.5px,#fffee0 48.5px,#faec34 73.5px,#f9e510 89.5px,#f9e718 122.5px,#fbef45 134.5px,#f9e81f 142.5px,#f8d70e 144.5px,#ee3416 153.5px,#ed2b18 158.5px,#ee3915 172.5px,#ef3a15 196.5px,#f15d11 199.5px,#f8c90d 204.5px,#f7bd0b 207.5px,#ee3915 213.5px,#eb221a 220.5px,#e9141d 228.5px,#bd155b 233.5px,#752496 237.5px,#3736a0 242.5px,#2140a0 248.5px,#253ea0 319.5px,#5a2b9b 325.5px,#7e228f 329.5px,#d91136 333.5px,#e9121d 335.5px,#ec2a18 345.5px,#e9131d 355.5px,#e00f2b 370.5px,#941e7e 392.5px,#921e7f 394.5px,#482d8f 395.5px,#482d8f 398px)"></i>
<i style="left:131px;width:1px;background:linear-gradient(#595543 0px,#1c1c5a 1.5px,#faee41 2.5px,#fcf776 16.5px,#ffffe8 31.5px,#fffedf 56.5px,#fbf155 73.5px,#faeb2c 88.5px,#faec33 114.5px,#fbf25b 127.5px,#fcf56f 135.5px,#fbf04b 142.5px,#f9de0f 145.5px,#f04a13 153.5px,#ed3017 157.5px,#ee3616 194.5px,#f2670f 198.5px,#f8d50e 202.5px,#faec37 204.5px,#faee40 205.5px,#faec35 206.5px,#f9e716 207.5px,#f2660f 212.5px,#ee3816 216.5px,#ed2b18 227.5px,#e10f29 231.5px,#981d7a 236.5px,#61299a 239.5px,#3337a0 244.5px,#3735a0 275.5px,#3636a0 319.5px,#81228d 326.5px,#b41763 330.5px,#e70e1f 333.5px,#eb231a 337.5px,#ee3216 345.5px,#ea1a1b 355.5px,#e30f26 371.5px,#9d1c76 392.5px,#9b1c77 394.5px,#4b2d8d 395.5px,#4b2d8d 398px)"></i>
<i style="left:132px;width:1px;background:linear-gradient(#595544 0px,#1c1c5a 1.5px,#faee41 2.5px,#fcf777 16.5px,#ffffe8 31.5px,#fffee0 56.5px,#faee40 74.5px,#f9e819 88.5px,#f9e81e 106.5px,#fbf257 126.5px,#fcf66f 135.5px,#fbf04b 142.5px,#f9de0f 145.5px,#f04713 153.5px,#ed2d17 157.5px,#ee3316 194.5px,#f2660f 198.5px,#f9e717 203.5px,#faeb31 204.5px,#faed38 205.5px,#f9e310 207.5px,#f25f10 212.5px,#ee3316 216.5px,#ec2918 227.5px,#e00f2b 231.5px,#981d7a 236.5px,#61299a 239.5px,#3238a0 244.5px,#3338a0 266.5px,#3536a0 319.5px,#7f228e 326.5px,#b11865 330.5px,#e60e21 333.5px,#ec2619 339.5px,#ed2f17 345.5px,#ea181c 356.5px,#e10f29 371.5px,#9a1d78 392.5px,#981d7a 394.5px,#4a2d8e 395.5px,#4a2d8e 398px)"></i>
<i style="left:133px;width:1px;background:linear-gradient(#584b35 0px,#1c1c5a 1.5px,#f8cd0d 2.5px,#f9e719 17.5px,#fdfbab 38.5px,#fdfbaa 47.5px,#f9e310 70.5px,#f8c50c 94.5px,#f8d50e 125.5px,#f9e10f 137.5px,#f8c90d 143.5px,#ed2e17 152.5px,#e9131d 158.5px,#ea1d1b 195.5px,#ee3a15 198.5px,#f7b30a 203.5px,#f8c00c 205.5px,#f58f0c 208.5px,#ed3017 212.5px,#e9141d 218.5px,#e20f27 228.5px,#b51762 233.5px,#682899 238.5px,#3337a0 243.5px,#253ea0 252.5px,#2c3ba0 319.5px,#5a2b9b 324.5px,#8d1f83 329.5px,#e00f2b 333.5px,#ea1a1b 336.5px,#ec2a18 345.5px,#e9171c 358.5px,#e10f2a 371.5px,#9a1d79 392.5px,#981d7a 394.5px,#4a2d8e 395.5px,#4a2d8e 398px)"></i>
<i style="left:134px;width:1px;background:linear-gradient(#595236 0px,#1c1c5a 1.5px,#f9e510 2.5px,#faee43 16.5px,#fffedc 37.5px,#ffffe3 46.5px,#fdf999 58.5px,#faeb31 74.5px,#f9e510 92.5px,#f9e718 121.5px,#fbef48 134.5px,#fae923 142.5px,#f9d90f 144.5px,#ee3216 153.5px,#ec2619 157.5px,#ef3b15 167.5px,#ef3f15 196.5px,#f2670f 199.5px,#f8c50c 203.5px,#f8cf0d 205.5px,#f69d0b 208.5px,#ef3e15 212.5px,#eb211a 217.5px,#e9121d 228.5px,#bd155b 233.5px,#762496 237.5px,#3835a0 242.5px,#2140a0 249.5px,#273da0 319.5px,#81228d 329.5px,#da1034 333.5px,#e9131d 335.5px,#eb201a 346.5px,#e70e20 366.5px,#ac196a 384.5px,#8f1f81 394.5px,#472e90 395.5px,#472e90 398px)"></i>
<i style="left:135px;width:1px;background:linear-gradient(#595236 0px,#1c1c5a 1.5px,#f9e510 2.5px,#faec37 14.5px,#ffffe8 35.5px,#ffffe2 52.5px,#fbf25c 72.5px,#faec34 90.5px,#faed3a 120.5px,#fcf56d 134.5px,#fbef48 142.5px,#f9e718 144.5px,#f4810d 149.5px,#ee3217 153.5px,#eb221a 157.5px,#ee3216 170.5px,#ef3c15 196.5px,#f36d0e 199.5px,#f8d20e 203.5px,#f9dc0f 205.5px,#f6a30b 208.5px,#ef3c15 212.5px,#eb1f1a 217.5px,#e9121d 228.5px,#b01866 234.5px,#6d2698 238.5px,#2d3aa0 244.5px,#233fa0 254.5px,#273da0 314.5px,#3736a0 321.5px,#84218a 329.5px,#da1034 333.5px,#e9121d 335.5px,#ea1c1b 346.5px,#e60e21 359.5px,#d01243 373.5px,#85218a 392.5px,#83218b 394.5px,#432e93 395.5px,#432e93 398px)"></i>
<i style="left:136px;width:1px;background:linear-gradient(#595439 0px,#1c1c5a 1.5px,#f9e81f 2.5px,#fbf04d 15.5px,#ffffe8 33.5px,#ffffe3 54.5px,#fbf465 74.5px,#fbef46 94.5px,#fbf156 121.5px,#fcf887 134.5px,#fbf361 142.5px,#f9e410 145.5px,#ee3516 153.5px,#ea1d1b 158.5px,#ec2519 194.5px,#ef4314 197.5px,#f8d80e 203.5px,#f9df0f 205.5px,#f6a40b 208.5px,#ef3d15 212.5px,#eb211a 217.5px,#e9151c 228.5px,#cf1245 232.5px,#732597 238.5px,#3138a0 244.5px,#283ca0 253.5px,#3835a0 301.5px,#3238a0 319.5px,#83218b 328.5px,#d01243 332.5px,#e80f1e 334.5px,#eb211a 345.5px,#e60e21 357.5px,#d5113c 371.5px,#83218b 392.5px,#81228d 394.5px,#432f93 395.5px,#432f93 398px)"></i>
<i style="left:137px;width:1px;background:linear-gradient(#594e35 0px,#1c1c5a 1.5px,#f8d80e 2.5px,#f9e718 14.5px,#fefcbd 37.5px,#fefcbf 47.5px,#fae923 77.5px,#f9e610 104.5px,#faeb2d 123.5px,#fbf155 134.5px,#faeb31 142.5px,#f9de0f 144.5px,#ee3516 152.5px,#e9121d 157.5px,#ea1b1b 194.5px,#ee3416 197.5px,#f8c80d 203.5px,#f8cc0d 205.5px,#f58c0c 208.5px,#ef3c15 211.5px,#ea1a1c 215.5px,#e50f23 228.5px,#ac196a 234.5px,#61299a 239.5px,#2f39a0 244.5px,#253ea0 253.5px,#2e3aa0 307.5px,#3337a0 320.5px,#7c2391 328.5px,#cd1248 332.5px,#e70e20 334.5px,#eb201a 345.5px,#e60e21 357.5px,#d5113b 371.5px,#85218a 392.5px,#83218b 394.5px,#432e93 395.5px,#432e93 398px)"></i>
<i style="left:138px;width:1px;background:linear-gradient(#584634 0px,#1c1c5a 1.5px,#f7bd0b 2.5px,#f9e613 22.5px,#fcf670 37.5px,#fcf56e 48.5px,#f9e310 69.5px,#f8cc0d 102.5px,#f9df0f 126.5px,#f9e714 137.5px,#f8d00e 143.5px,#f25e10 149.5px,#eb1f1a 153.5px,#e30f25 157.5px,#e9161c 195.5px,#ee3516 198.5px,#f6a20b 203.5px,#f6a30b 205.5px,#ec2918 211.5px,#e60e21 216.5px,#de102e 227.5px,#b9165f 232.5px,#642999 238.5px,#2e3aa0 243.5px,#2140a0 250.5px,#263ea0 320.5px,#732597 329.5px,#d11241 333.5px,#e60e21 336.5px,#ea181c 346.5px,#da1034 369.5px,#a51a6f 383.5px,#84218a 394.5px,#442e92 395.5px,#442e92 398px)"></i>
<i style="left:139px;width:1px;background:linear-gradient(#584434 0px,#1c1c5a 1.5px,#f7b40a 2.5px,#f8d80e 19.5px,#f9e81e 24.5px,#fcf674 36.5px,#fcf778 47.5px,#f9e81f 66.5px,#f8d80e 74.5px,#f8d10e 108.5px,#f9e716 126.5px,#faeb2f 135.5px,#f9db0f 143.5px,#f47d0d 148.5px,#ed2d17 152.5px,#e60e21 157.5px,#e9131d 194.5px,#ee3316 198.5px,#f58f0c 203.5px,#f47f0d 206.5px,#ec2619 211.5px,#e70e20 217.5px,#e00f2a 227.5px,#bb165e 232.5px,#642999 238.5px,#253ea0 244.5px,#273da0 321.5px,#7b2392 330.5px,#ca134d 333.5px,#de102d 336.5px,#e8101e 346.5px,#dd102f 359.5px,#c9134f 373.5px,#7a2393 392.5px,#782494 394.5px,#402f95 395.5px,#402f95 398px)"></i>
<i style="left:140px;width:1px;background:linear-gradient(#595336 0px,#1c1c5a 1.5px,#f9e613 2.5px,#faee40 17.5px,#fdfbac 37.5px,#fdfaa5 49.5px,#f9e81d 78.5px,#f9e717 105.5px,#fbf050 126.5px,#fcf469 135.5px,#fbef47 142.5px,#f9dd0f 145.5px,#ee3915 154.5px,#ec2a18 161.5px,#ee3316 194.5px,#f2680f 198.5px,#f7ba0b 202.5px,#f7bd0b 205.5px,#ef3e15 212.5px,#ed2b18 220.5px,#ea1c1b 228.5px,#da1034 231.5px,#9e1c75 235.5px,#662899 238.5px,#2e3aa0 243.5px,#2140a0 251.5px,#263da0 320.5px,#742596 329.5px,#d11242 333.5px,#e40f24 336.5px,#e9161c 346.5px,#d91135 369.5px,#882087 392.5px,#862189 394.5px,#442e92 395.5px,#442e92 398px)"></i>
<i style="left:141px;width:1px;background:linear-gradient(#595236 0px,#1c1c5a 1.5px,#f9e410 2.5px,#faed3c 20.5px,#fcf779 39.5px,#fbf361 53.5px,#f9e510 77.5px,#f9e719 124.5px,#faed3d 134.5px,#f9e81b 142.5px,#f7b00a 147.5px,#f04813 154.5px,#f04614 158.5px,#f15b11 166.5px,#f2660f 195.5px,#f6a00b 199.5px,#f8d90e 202.5px,#f8d70e 205.5px,#f15c11 211.5px,#ee3a15 216.5px,#ed2d17 227.5px,#e10f29 231.5px,#a31b71 235.5px,#672899 238.5px,#3934a0 242.5px,#273da0 251.5px,#2e3aa0 319.5px,#5f2a9a 324.5px,#961d7c 329.5px,#d5113c 332.5px,#e9131d 334.5px,#ec2a18 345.5px,#e20f27 372.5px,#ab196a 392.5px,#a91a6c 394.5px,#4f2c89 395.5px,#4f2c89 398px)"></i>
<i style="left:142px;width:1px;background:linear-gradient(#1a194e 0px,#292660 4.5px,#221f67 238.5px,#243496 239.5px,#273496 398px)"></i>
<i style="left:143px;width:1px;background:linear-gradient(#59543b 0px,#fae922 1.5px,#fbf466 23.5px,#fdf994 39.5px,#fcf776 53.5px,#fae925 77.5px,#f9e81a 117.5px,#fbf152 134.5px,#faeb31 142.5px,#f9e410 144.5px,#ef4414 154.5px,#ee3a15 158.5px,#ef4514 181.5px,#f15412 194.5px,#f58c0c 198.5px,#f8d50e 202.5px,#f8c80d 205.5px,#f04f12 211.5px,#ee3316 216.5px,#ec2a18 227.5px,#e80f1e 230.5px,#b61762 234.5px,#782495 237.5px,#3835a0 242.5px,#223fa0 250.5px,#293ca0 319.5px,#552c9c 324.5px,#882087 329.5px,#cb134a 332.5px,#e70e1f 336.5px,#ea191c 346.5px,#de102e 368.5px,#ae1968 385.5px,#9b1c77 398px)"></i>
<i style="left:144px;width:1px;background:linear-gradient(#595336 0px,#f9e611 1.5px,#fbf25b 23.5px,#fcf88a 39.5px,#fbf464 54.5px,#f9e210 71.5px,#f8ce0d 100.5px,#f9e717 123.5px,#faee40 134.5px,#f9e81e 142.5px,#f8ce0d 145.5px,#ef3f15 154.5px,#ed2f17 160.5px,#ef3a15 193.5px,#f36f0e 197.5px,#f8c30c 201.5px,#f8c80c 204.5px,#f04713 211.5px,#ed3017 217.5px,#ec2719 227.5px,#e70e1f 230.5px,#b41763 234.5px,#772495 237.5px,#3835a0 242.5px,#233fa0 250.5px,#293ca0 319.5px,#562c9c 324.5px,#8a2086 329.5px,#cb134b 332.5px,#e40f24 336.5px,#e9121d 347.5px,#d91136 369.5px,#ae1968 384.5px,#9d1c76 398px)"></i>
<i style="left:145px;width:1px;background:linear-gradient(#595236 0px,#f9e410 1.5px,#fbef46 18.5px,#fdf98f 37.5px,#fcf777 50.5px,#fae922 65.5px,#f9db0f 70.5px,#f8c00c 86.5px,#f8c90d 107.5px,#f9e719 125.5px,#faed38 134.5px,#f9e10f 143.5px,#f47d0d 149.5px,#ed2f17 154.5px,#eb221a 164.5px,#ed2c18 193.5px,#f04e13 196.5px,#f7b80b 201.5px,#f7b80b 204.5px,#ef3d15 210.5px,#eb231a 216.5px,#ea1a1b 227.5px,#de102e 230.5px,#991d79 235.5px,#652899 238.5px,#3039a0 243.5px,#2140a0 250.5px,#263ea0 319.5px,#7f228e 329.5px,#c41456 332.5px,#d91035 336.5px,#e60e21 345.5px,#d81136 356.5px,#cc134a 370.5px,#9e1c75 382.5px,#931e7e 398px)"></i>
<i style="left:146px;width:1px;background:linear-gradient(#595336 0px,#f9e611 1.5px,#fbf35e 20.5px,#fdfaa3 36.5px,#fdf991 48.5px,#faea26 66.5px,#f9de0f 71.5px,#f8c60c 92.5px,#f9e210 120.5px,#faed3a 135.5px,#f9e310 143.5px,#f5910c 148.5px,#ee3416 153.5px,#eb1e1b 159.5px,#ec2619 192.5px,#ef4014 195.5px,#f8c90d 201.5px,#f8ce0d 203.5px,#f5950c 206.5px,#ee3815 210.5px,#eb1f1a 216.5px,#ea181c 227.5px,#dc1030 230.5px,#9b1c78 235.5px,#682899 238.5px,#3238a0 243.5px,#223fa0 251.5px,#2a3ca0 319.5px,#562c9c 324.5px,#872088 329.5px,#c61453 332.5px,#d81137 337.5px,#e30f26 345.5px,#d4113d 356.5px,#c71351 370.5px,#981d7a 382.5px,#981d7a 391.5px,#941e7e 398px)"></i>
<i style="left:147px;width:1px;background:linear-gradient(#595544 0px,#faee43 1.5px,#fdf98e 18.5px,#ffffe4 34.5px,#fffedc 46.5px,#fbf050 72.5px,#faeb2f 94.5px,#faed39 121.5px,#fcf569 134.5px,#fbef48 142.5px,#f9e210 145.5px,#f04713 154.5px,#ee3516 158.5px,#ef4314 191.5px,#f36f0e 195.5px,#f8d80e 199.5px,#fbef49 202.5px,#faee3f 203.5px,#f8d90e 205.5px,#f15911 210.5px,#ee3616 215.5px,#ed2d17 227.5px,#e30f26 231.5px,#ac196a 235.5px,#6f2697 238.5px,#3935a0 243.5px,#2e3aa0 253.5px,#3437a0 312.5px,#3c33a0 320.5px,#862189 326.5px,#b8165f 330.5px,#d5113b 333.5px,#e80e1e 345.5px,#d81137 356.5px,#ca134d 370.5px,#9d1c76 381.5px,#aa196c 389.5px,#a11b73 398px)"></i>
<i style="left:148px;width:1px;background:linear-gradient(#595544 0px,#faee41 1.5px,#fdf98e 17.5px,#ffffe8 32.5px,#fffee0 48.5px,#fbf153 71.5px,#faeb2c 90.5px,#faec32 120.5px,#fbf465 134.5px,#faee44 142.5px,#f9de0f 145.5px,#ee3915 154.5px,#ee3516 159.5px,#ef4214 171.5px,#f04c13 191.5px,#f3720e 195.5px,#f9e310 200.5px,#faea29 202.5px,#f9db0f 204.5px,#f15711 209.5px,#ee3216 212.5px,#eb2419 227.5px,#e60e21 230.5px,#a71a6e 235.5px,#6f2697 238.5px,#3735a0 243.5px,#2a3ca0 252.5px,#3039a0 312.5px,#3835a0 320.5px,#8c2084 328.5px,#c51454 331.5px,#dd102e 341.5px,#d91136 347.5px,#be155b 370.5px,#8d1f83 381.5px,#9f1b74 389.5px,#971d7b 398px)"></i>
<i style="left:149px;width:1px;background:linear-gradient(#584b35 0px,#f8ce0d 1.5px,#f9e819 13.5px,#fdfba9 33.5px,#fefbb2 42.5px,#fcf56a 55.5px,#f9e310 70.5px,#f8ca0d 101.5px,#f8d80e 125.5px,#f9e510 137.5px,#f8d00d 143.5px,#f47a0d 148.5px,#eb2419 153.5px,#e8111d 158.5px,#eb211a 192.5px,#ef3b15 195.5px,#f6a70b 200.5px,#f7b20a 202.5px,#f47d0d 205.5px,#ee3416 208.5px,#e8101e 213.5px,#e10f28 227.5px,#ae1868 233.5px,#662899 238.5px,#3138a0 243.5px,#2140a0 250.5px,#273da0 319.5px,#7f228e 329.5px,#ba165f 332.5px,#d4113d 345.5px,#c61452 356.5px,#b81660 368.5px,#80228e 381.5px,#961e7c 389.5px,#8d1f83 398px)"></i>
<i style="left:150px;width:1px;background:linear-gradient(#595544 0px,#fbef44 1.5px,#fdf98f 15.5px,#ffffe8 27.5px,#fffee1 52.5px,#fbf35d 70.5px,#faeb2e 87.5px,#faeb31 120.5px,#fbf464 134.5px,#faee43 142.5px,#f9e10f 145.5px,#f04813 154.5px,#ee3716 158.5px,#f04813 191.5px,#f3740e 195.5px,#f8d70e 200.5px,#f8d20e 203.5px,#f15611 209.5px,#ee3516 214.5px,#ec2a18 227.5px,#e8101e 230.5px,#b61761 234.5px,#782494 237.5px,#3735a0 242.5px,#2140a0 249.5px,#273da0 319.5px,#5e2a9a 325.5px,#84218a 329.5px,#bf155a 332.5px,#d81137 345.5px,#cc134a 357.5px,#ba165e 370.5px,#8a2085 381.5px,#a01b73 389.5px,#971d7b 398px)"></i>
<i style="left:151px;width:1px;background:linear-gradient(#595035 0px,#f9dc0f 1.5px,#f9e81b 8.5px,#fdfa9f 24.5px,#fffedb 32.5px,#fffed7 47.5px,#faea29 71.5px,#f9e10f 81.5px,#f9e10f 122.5px,#faeb31 135.5px,#f9e00f 143.5px,#f58f0c 148.5px,#ee3316 153.5px,#eb1e1b 158.5px,#ed2d18 192.5px,#f26110 196.5px,#f7ab0a 200.5px,#f6a00b 203.5px,#ed2f17 209.5px,#ea1b1b 218.5px,#e80e1e 228.5px,#b81660 233.5px,#652899 238.5px,#2f39a0 243.5px,#2140a0 251.5px,#283da0 320.5px,#772495 329.5px,#b41763 332.5px,#d11242 341.5px,#cc134a 348.5px,#ba165f 368.5px,#81228d 381.5px,#941e7e 389.5px,#8b2085 398px)"></i>
<i style="left:152px;width:1px;background:linear-gradient(#584334 0px,#f7b20a 1.5px,#f9e717 17.5px,#fefcba 31.5px,#fefdc9 46.5px,#f9e310 71.5px,#f8c80d 96.5px,#f9e00f 126.5px,#f9e81b 136.5px,#f8d50e 143.5px,#f47a0d 148.5px,#ed2b18 152.5px,#e20f28 156.5px,#e30f26 190.5px,#eb211a 194.5px,#f4810d 200.5px,#f3710e 203.5px,#ec2918 207.5px,#e50f23 211.5px,#da1034 227.5px,#b31764 232.5px,#632999 238.5px,#243fa0 244.5px,#273da0 321.5px,#792394 330.5px,#a11b73 332.5px,#be155b 337.5px,#cb134a 345.5px,#bb165d 357.5px,#a71a6e 369.5px,#732597 381.5px,#7e228f 389.5px,#762496 398px)"></i>
<i style="left:153px;width:1px;background:linear-gradient(#584334 0px,#f7b20a 1.5px,#f9e715 17.5px,#fdfbb0 31.5px,#fefcba 47.5px,#f9e00f 68.5px,#f7b90b 82.5px,#f7bb0b 107.5px,#f9e610 136.5px,#f8d00d 143.5px,#f58d0c 147.5px,#ec2918 152.5px,#e10f29 156.5px,#e30f27 190.5px,#eb231a 194.5px,#f4830d 200.5px,#f36d0e 203.5px,#ec2519 207.5px,#e30f25 211.5px,#d81136 227.5px,#b21865 232.5px,#632999 238.5px,#253ea0 244.5px,#283da0 321.5px,#6a2798 329.5px,#b11865 333.5px,#c71351 337.5px,#d21241 345.5px,#c61453 358.5px,#b31764 369.5px,#7c2391 381.5px,#7f228f 390.5px,#792394 398px)"></i>
<i style="left:154px;width:1px;background:linear-gradient(#595541 0px,#faed3a 1.5px,#fcf888 15.5px,#ffffe8 27.5px,#ffffe3 51.5px,#f9e81f 75.5px,#f9e00f 85.5px,#f9e719 114.5px,#fbf04d 129.5px,#fbf152 137.5px,#faea28 143.5px,#f9da0f 145.5px,#ef4214 154.5px,#ed3017 159.5px,#ee3716 190.5px,#f2660f 194.5px,#f8d00d 199.5px,#f8ce0d 202.5px,#f15212 208.5px,#ee3217 213.5px,#ec2819 227.5px,#e70e1f 230.5px,#b41763 234.5px,#772495 237.5px,#3735a0 242.5px,#2140a0 249.5px,#273da0 319.5px,#5f2a9a 325.5px,#84218a 329.5px,#c61452 332.5px,#dc1031 336.5px,#e70e20 345.5px,#db1032 358.5px,#c9134e 372.5px,#a31b71 383.5px,#981d7a 398px)"></i>
<i style="left:155px;width:1px;background:linear-gradient(#59553f 0px,#faec33 1.5px,#fcf883 16.5px,#ffffe8 30.5px,#fffee1 49.5px,#faeb32 73.5px,#f9e510 88.5px,#f9e81b 118.5px,#fbf153 134.5px,#faeb2f 142.5px,#f9e210 144.5px,#f04b13 154.5px,#ef3c15 161.5px,#f04713 190.5px,#f47c0d 194.5px,#f9dc0f 198.5px,#faea28 200.5px,#f9e510 202.5px,#f26110 208.5px,#ef3e15 213.5px,#ee3716 226.5px,#e20f27 231.5px,#a51a70 235.5px,#672899 238.5px,#3934a0 242.5px,#273da0 251.5px,#2e3aa0 319.5px,#5e2a9a 324.5px,#951e7d 329.5px,#d11242 332.5px,#e8101e 336.5px,#e9161c 347.5px,#e00f2a 368.5px,#b9165f 384.5px,#a81a6d 398px)"></i>
<i style="left:156px;width:1px;background:linear-gradient(#59564b 0px,#fbf259 1.5px,#fdfa9f 15.5px,#ffffe8 26.5px,#ffffe2 53.5px,#faee42 75.5px,#fae924 95.5px,#fbef46 119.5px,#fcf77b 134.5px,#fbf360 141.5px,#f9de0f 145.5px,#f04713 153.5px,#ed2f17 157.5px,#ef3a15 190.5px,#f3760e 194.5px,#f9dd0f 198.5px,#faea29 200.5px,#f9e20f 202.5px,#f15312 208.5px,#ee3316 212.5px,#ec2918 227.5px,#e80f1e 230.5px,#a61a6f 235.5px,#6b2798 238.5px,#3437a0 243.5px,#243fa0 251.5px,#2c3ba0 319.5px,#592b9b 324.5px,#8b2085 329.5px,#cc1349 332.5px,#e60e22 335.5px,#e8111d 347.5px,#d81138 369.5px,#a51a6f 385.5px,#931e7e 398px)"></i>
<i style="left:157px;width:1px;background:linear-gradient(#584b35 0px,#f8cd0d 1.5px,#f9e714 13.5px,#fefcc4 33.5px,#fefdd2 41.5px,#fdf996 54.5px,#f9e310 74.5px,#f8d50e 104.5px,#f9e81d 122.5px,#fbef49 134.5px,#faeb2c 141.5px,#f8cb0d 144.5px,#ed2f17 151.5px,#e60e22 155.5px,#e9131d 190.5px,#ef3e15 194.5px,#f6a70b 198.5px,#f7bb0b 200.5px,#f6a60b 202.5px,#ed2c18 207.5px,#e70e20 212.5px,#e10f29 227.5px,#b31864 233.5px,#6d2698 238.5px,#2c3ba0 244.5px,#233fa0 256.5px,#273da0 312.5px,#2f39a0 320.5px,#7f228f 329.5px,#c61453 332.5px,#e10f29 335.5px,#e40f25 347.5px,#cd1348 370.5px,#84218a 389.5px,#7b2392 398px)"></i>
<i style="left:158px;width:1px;background:linear-gradient(#583d34 0px,#f69f0b 1.5px,#f8cb0d 17.5px,#f9e719 23.5px,#fcf777 34.5px,#fcf880 42.5px,#faeb2e 60.5px,#f9e00f 66.5px,#f7bc0b 84.5px,#f8c60c 112.5px,#f9e510 137.5px,#f8cc0d 142.5px,#eb221a 150.5px,#da1034 153.5px,#cd1248 157.5px,#d21240 189.5px,#e9141d 193.5px,#f25f10 197.5px,#f4820d 200.5px,#f15711 203.5px,#e8101e 207.5px,#d01243 212.5px,#c81350 228.5px,#682798 238.5px,#283da0 244.5px,#273da0 320.5px,#702697 329.5px,#cb134b 333.5px,#dd1030 336.5px,#e20f28 346.5px,#ca134d 370.5px,#752496 391.5px,#722597 398px)"></i>
<i style="left:159px;width:1px;background:linear-gradient(#584d35 0px,#f8d50e 1.5px,#f9e719 14.5px,#fcf77c 34.5px,#fcf775 46.5px,#f9e310 70.5px,#f8d20e 107.5px,#f9e715 127.5px,#faea29 135.5px,#f9e10f 141.5px,#f58d0c 146.5px,#ed3017 151.5px,#ea181c 156.5px,#eb201a 190.5px,#f04614 194.5px,#f69a0b 199.5px,#f4870d 202.5px,#ed2e17 207.5px,#ea181c 215.5px,#e50e22 228.5px,#b51762 233.5px,#652899 238.5px,#2f39a0 243.5px,#2140a0 251.5px,#293ca0 320.5px,#792394 329.5px,#d4113d 333.5px,#e70e1f 336.5px,#e8111d 348.5px,#de102d 368.5px,#8e1f82 392.5px,#8c1f84 398px)"></i>
<i style="left:160px;width:1px;background:linear-gradient(#59543c 0px,#faea27 1.5px,#fdf994 37.5px,#fcf779 51.5px,#faea27 76.5px,#f9e81a 116.5px,#fbf154 134.5px,#faed3c 140.5px,#f9dd0f 143.5px,#f15a11 152.5px,#f04e13 157.5px,#f26410 190.5px,#f6a10b 195.5px,#f8cf0d 199.5px,#f7bc0b 202.5px,#f15e10 208.5px,#f04a13 217.5px,#ef4514 226.5px,#e80e1e 231.5px,#a9196c 235.5px,#682899 238.5px,#3934a0 242.5px,#283da0 251.5px,#2e3aa0 319.5px,#5d2a9b 324.5px,#921e7f 329.5px,#d5113c 332.5px,#e9151d 334.5px,#ec2619 346.5px,#e10f28 373.5px,#a91a6c 392.5px,#a71a6e 398px)"></i>
<i style="left:161px;width:1px;background:linear-gradient(#595236 0px,#f9e210 1.5px,#faec32 18.5px,#fbf361 38.5px,#faed39 57.5px,#f9e210 75.5px,#f9e410 122.5px,#faed38 134.5px,#f9e81d 140.5px,#f7b90b 144.5px,#ef4414 151.5px,#ed2f17 156.5px,#ee3815 190.5px,#f3750e 195.5px,#f6a70b 199.5px,#f5920c 202.5px,#ef3d15 208.5px,#ed2f17 222.5px,#eb1f1a 228.5px,#dc1030 231.5px,#a01b74 235.5px,#662899 238.5px,#3735a0 242.5px,#243ea0 250.5px,#2a3ca0 319.5px,#7e228f 329.5px,#da1033 333.5px,#e9131d 335.5px,#ea1b1b 347.5px,#e10f29 370.5px,#981d7a 392.5px,#961d7c 398px)"></i>
<i style="left:162px;width:1px;background:linear-gradient(#583d34 0px,#f69d0b 1.5px,#f8cb0d 42.5px,#f6a30b 93.5px,#f7b00a 124.5px,#f7be0b 137.5px,#f6a70b 141.5px,#ec2a18 149.5px,#e70e1f 155.5px,#e9161c 190.5px,#ef3e15 195.5px,#f2660f 199.5px,#ef4314 203.5px,#e9131d 209.5px,#e20f28 227.5px,#bd165c 232.5px,#642999 238.5px,#3138a0 243.5px,#243fa0 256.5px,#293ca0 319.5px,#732597 329.5px,#c61452 332.5px,#e80e1e 335.5px,#e9151c 347.5px,#e10f2a 368.5px,#a81a6d 384.5px,#8c1f84 396.5px,#8c1f84 398px)"></i>
<i style="left:163px;width:1px;background:linear-gradient(#584935 0px,#f8c40c 1.5px,#f9dd0f 46.5px,#f8c00c 99.5px,#f8ce0d 125.5px,#f9db0f 137.5px,#f7b90b 142.5px,#f04b13 151.5px,#ef4414 156.5px,#f15d10 166.5px,#f2650f 189.5px,#f7ae0a 198.5px,#f5950c 202.5px,#f04c13 208.5px,#ee3a15 226.5px,#e40f25 231.5px,#a61a6f 235.5px,#672899 238.5px,#3935a0 242.5px,#2c3ba0 255.5px,#3536a0 320.5px,#7d2390 329.5px,#cf1244 332.5px,#e8111d 334.5px,#eb211a 346.5px,#e30f26 371.5px,#9f1c74 392.5px,#9d1c76 398px)"></i>
<i style="left:164px;width:1px;background:linear-gradient(#573335 0px,#f47b0d 1.5px,#f58e0c 48.5px,#f3770e 107.5px,#f58d0c 127.5px,#f5920c 138.5px,#ed2d18 151.5px,#ee3216 157.5px,#f15811 164.5px,#f26010 189.5px,#f58f0c 198.5px,#f26210 203.5px,#ed3017 208.5px,#eb211a 227.5px,#e20f27 230.5px,#b01867 234.5px,#762496 237.5px,#3b34a0 242.5px,#3b34a0 320.5px,#752496 328.5px,#a21b72 330.5px,#d81137 332.5px,#e80e1f 333.5px,#eb2419 337.5px,#ec2519 349.5px,#e9121d 371.5px,#af1867 393.5px,#ae1868 398px)"></i>
<i style="left:165px;width:1px;background:linear-gradient(#573535 0px,#f4830d 1.5px,#f58d0c 54.5px,#f4860d 120.5px,#f69d0b 136.5px,#f04f12 152.5px,#f2670f 169.5px,#f3740e 190.5px,#f7ae0a 198.5px,#f5920c 202.5px,#f15212 208.5px,#ef3d15 226.5px,#e50f23 231.5px,#a71a6e 235.5px,#692798 238.5px,#3e32a0 242.5px,#4031a0 320.5px,#7c2391 328.5px,#cc1349 331.5px,#e10f2a 332.5px,#ed2c18 336.5px,#ee3117 347.5px,#ea191c 372.5px,#d3123f 383.5px,#be155b 398px)"></i>
<i style="left:166px;width:1px;background:linear-gradient(#562337 0px,#f04614 1.5px,#f04813 121.5px,#f04d13 140.5px,#ed3017 155.5px,#ef3b15 192.5px,#f05012 199.5px,#ea1d1b 211.5px,#e20f27 226.5px,#b9165f 232.5px,#6d2698 238.5px,#4031a0 246.5px,#3f32a0 318.5px,#83218b 328.5px,#d3113f 331.5px,#e80e1e 332.5px,#ee3216 335.5px,#ef3c15 346.5px,#ea1a1b 373.5px,#da1034 382.5px,#c51454 396.5px,#c51454 398px)"></i>
<i style="left:167px;width:1px;background:linear-gradient(#541639 0px,#ea1c1b 1.5px,#e8111d 199.5px,#ae1968 220.5px,#722597 237.5px,#3c33a0 250.5px,#3934a0 281.5px,#283da0 290.5px,#3e32a0 310.5px,#46309f 320.5px,#792393 328.5px,#cb134b 331.5px,#e9151d 333.5px,#ec2918 337.5px,#ea1d1b 365.5px,#df102c 375.5px,#aa196b 393.5px,#a9196c 398px)"></i>
<i style="left:168px;width:1px;background:linear-gradient(#541539 0px,#e9171c 1.5px,#e50f23 200.5px,#b11866 217.5px,#722597 234.5px,#5b2b9b 242.5px,#3835a0 249.5px,#3238a0 277.5px,#1e3798 283.5px,#2b3ba0 303.5px,#41319f 321.5px,#782494 329.5px,#d11242 332.5px,#e9111d 334.5px,#ea1a1c 347.5px,#e20f27 368.5px,#ab196b 384.5px,#8e1f83 396.5px,#8e1f83 398px)"></i>
<i style="left:169px;width:1px;background:linear-gradient(#541539 0px,#e9171c 1.5px,#e50f23 200.5px,#b11866 217.5px,#722597 234.5px,#582b9b 242.5px,#3735a0 248.5px,#253ea0 271.5px,#192a80 276.5px,#151e62 280.5px,#131b5a 290.5px,#2140a0 307.5px,#47309e 323.5px,#6f2697 329.5px,#aa196c 331.5px,#d91035 333.5px,#e9121d 335.5px,#e9141d 349.5px,#e10f29 369.5px,#911e80 392.5px,#8f1f81 398px)"></i>
<i style="left:170px;width:1px;background:linear-gradient(#541739 0px,#eb1e1b 1.5px,#e9161c 197.5px,#d6113a 208.5px,#752496 232.5px,#5f2a9a 241.5px,#3835a0 248.5px,#263ea0 264.5px,#1c2f8f 268.5px,#101447 272.5px,#0d0d34 277.5px,#0b0b2d 291.5px,#131a58 301.5px,#1d3494 307.5px,#2e3aa0 316.5px,#542d9c 325.5px,#6e2697 329.5px,#a71a6d 331.5px,#d71138 333.5px,#e8101e 335.5px,#e9121d 349.5px,#e20f27 368.5px,#a51a70 386.5px,#911e80 398px)"></i>
<i style="left:171px;width:1px;background:linear-gradient(#541839 0px,#eb201a 1.5px,#ea181c 197.5px,#da1033 207.5px,#9c1c77 222.5px,#712597 235.5px,#4c2e9d 243.5px,#2e3aa0 253.5px,#1f3899 262.5px,#17236f 265.5px,#0f0f3b 268.5px,#050515 275.5px,#050513 293.5px,#0c0c31 302.5px,#1d3495 312.5px,#3337a0 320.5px,#5b2b9b 329.5px,#82228c 331.5px,#c61453 334.5px,#d11241 346.5px,#bd155c 371.5px,#732597 392.5px,#722597 398px)"></i>
<i style="left:172px;width:1px;background:linear-gradient(#541639 0px,#ea191c 1.5px,#e8101e 198.5px,#b21865 217.5px,#722597 234.5px,#47309e 243.5px,#1f3999 258.5px,#1a2c86 260.5px,#0d0d33 264.5px,#010102 274.5px,#03030c 301.5px,#121750 310.5px,#1f3b9b 318.5px,#46309f 330.5px,#792394 335.5px,#7a2393 353.5px,#61299a 378.5px,#4b2f9e 398px)"></i>
<i style="left:173px;width:1px;background:linear-gradient(#54133a 0px,#e8101e 1.5px,#e30f26 197.5px,#b01867 216.5px,#712597 234.5px,#253ea0 251.5px,#1b2e8c 256.5px,#0e0e39 259.5px,#02020a 266.5px,#010103 303.5px,#0f0f3b 313.5px,#16226d 317.5px,#1d3394 319.5px,#2b3ba0 327.5px,#3a34a0 348.5px,#2f39a0 398px)"></i>
<i style="left:174px;width:1px;background:linear-gradient(#51133f 0px,#de102d 1.5px,#d81136 197.5px,#af1867 214.5px,#712597 234.5px,#1f3999 251.5px,#1a2b84 253.5px,#090924 257.5px,#000002 264.5px,#020207 309.5px,#0e0f3a 317.5px,#1d3293 321.5px,#233fa0 331.5px,#233fa0 398px)"></i>
<i style="left:175px;width:1px;background:linear-gradient(#4a1449 0px,#c9134f 1.5px,#c21458 199.5px,#712597 233.5px,#46309f 242.5px,#203d9d 248.5px,#1b2e8c 250.5px,#0e0f3a 253.5px,#010105 258.5px,#020208 314.5px,#0a0a29 318.5px,#1c3192 323.5px,#2140a0 333.5px,#2140a0 398px)"></i>
<i style="left:176px;width:1px;background:linear-gradient(#44154f 0px,#b41763 1.5px,#ab196a 199.5px,#6e2697 235.5px,#1f3b9b 247.5px,#18277a 249.5px,#0a0a27 252.5px,#000000 257.5px,#010105 317.5px,#0e0f3a 321.5px,#1c3192 325.5px,#2140a0 335.5px,#2140a0 398px)"></i>
<i style="left:177px;width:1px;background:linear-gradient(#401652 0px,#a81a6d 1.5px,#a01b74 96.5px,#602a9a 115.5px,#2f39a0 134.5px,#253ea0 221.5px,#1f3999 244.5px,#1a2c87 246.5px,#080820 250.5px,#000000 255.5px,#010105 319.5px,#0e0f3a 323.5px,#1c3192 327.5px,#2140a0 337.5px,#2140a0 398px)"></i>
<i style="left:178px;width:1px;background:linear-gradient(#3e1654 0px,#9f1c75 1.5px,#971d7b 96.5px,#5c2b9b 115.5px,#3835a0 130.5px,#253ea0 167.5px,#1e3798 241.5px,#19297e 243.5px,#0d0d32 246.5px,#010102 251.5px,#010105 321.5px,#0e0f3a 325.5px,#1c3192 329.5px,#2140a0 339.5px,#2140a0 398px)"></i>
<i style="left:179px;width:1px;background:linear-gradient(#401652 0px,#a51a6f 1.5px,#9d1c76 96.5px,#62299a 114.5px,#4a2f9e 132.5px,#253ea0 157.5px,#1f3999 238.5px,#1a2b84 240.5px,#0b0b2b 244.5px,#000001 249.5px,#010105 323.5px,#0e0f3a 327.5px,#1d3293 331.5px,#2140a0 340.5px,#2140a0 398px)"></i>
<i style="left:180px;width:1px;background:linear-gradient(#3e1653 0px,#a11b73 1.5px,#991d7a 96.5px,#62299a 114.5px,#4a2f9e 132.5px,#253ea0 157.5px,#1e3798 236.5px,#1c3192 237.5px,#0d0d32 241.5px,#010102 246.5px,#010105 325.5px,#0e0f3a 329.5px,#1d3495 333.5px,#2140a0 345.5px,#2140a0 398px)"></i>
<i style="left:181px;width:1px;background:linear-gradient(#36185a 0px,#85218a 1.5px,#7c2391 97.5px,#3b34a0 127.5px,#253ea0 165.5px,#1e3898 234.5px,#1c3192 235.5px,#0b0b2c 239.5px,#000001 244.5px,#010105 327.5px,#0f103c 331.5px,#1c3090 334.5px,#2140a0 341.5px,#2140a0 398px)"></i>
<i style="left:182px;width:1px;background:linear-gradient(#281b60 0px,#582b9b 1.5px,#61299a 34.5px,#a41b70 48.5px,#931e7e 58.5px,#61299a 67.5px,#42319f 110.5px,#243ea0 157.5px,#1e3697 233.5px,#1c2f8f 234.5px,#07071c 238.5px,#000000 242.5px,#010105 329.5px,#0b0b2e 332.5px,#1d3293 336.5px,#2140a0 345.5px,#2140a0 398px)"></i>
<i style="left:183px;width:1px;background:linear-gradient(#201d61 0px,#3b34a0 1.5px,#42319f 24.5px,#7f228f 33.5px,#cb134b 42.5px,#dd1030 51.5px,#c21458 61.5px,#6e2697 70.5px,#3b34a0 80.5px,#243fa0 188.5px,#1f3a9a 231.5px,#1a2b85 233.5px,#0a0a27 236.5px,#000001 239.5px,#020206 331.5px,#0d0d34 334.5px,#1a2c87 337.5px,#213f9f 341.5px,#2140a0 398px)"></i>
<i style="left:184px;width:1px;background:linear-gradient(#1d1f61 0px,#3337a0 1.5px,#3d32a0 23.5px,#7f228f 33.5px,#cb134b 42.5px,#dd1030 51.5px,#c21458 61.5px,#6e2697 70.5px,#3636a0 81.5px,#233fa0 205.5px,#1f3999 229.5px,#192a80 231.5px,#090924 234.5px,#000001 237.5px,#020209 333.5px,#0f103c 336.5px,#1c3090 339.5px,#2140a0 385.5px,#2140a0 398px)"></i>
<i style="left:185px;width:1px;background:linear-gradient(#1b2061 0px,#2c3ba0 1.5px,#3835a0 24.5px,#83218c 40.5px,#a61a6e 50.5px,#892087 60.5px,#522d9c 70.5px,#2c3ba0 84.5px,#1f3a9a 227.5px,#19287c 229.5px,#080822 232.5px,#000001 235.5px,#010103 334.5px,#101345 338.5px,#19297e 340.5px,#1c2f8f 343.5px,#213f9f 398px)"></i>
<i style="left:186px;width:1px;background:linear-gradient(#192161 0px,#253ea0 1.5px,#3b33a0 35.5px,#522d9d 54.5px,#253ea0 90.5px,#1f3b9b 225.5px,#19297f 227.5px,#0d0d35 229.5px,#010105 232.5px,#020209 333.5px,#040411 337.5px,#141c5e 341.5px,#1d3494 382.5px,#1f3999 398px)"></i>
<i style="left:187px;width:1px;background:linear-gradient(#1b2061 0px,#2b3ba0 1.5px,#2240a0 132.5px,#203c9c 223.5px,#1b2d88 225.5px,#08081f 228.5px,#000001 231.5px,#02020a 328.5px,#0f103c 349.5px,#1b2e8b 398px)"></i>
<i style="left:188px;width:1px;background:linear-gradient(#221d61 0px,#42319f 1.5px,#3835a0 113.5px,#253ea0 157.5px,#1f3b9b 222.5px,#1d3394 223.5px,#0b0b2c 226.5px,#000001 229.5px,#020209 325.5px,#101345 336.5px,#17236f 343.5px,#12174e 350.5px,#090924 356.5px,#141d61 398px)"></i>
<i style="left:189px;width:1px;background:linear-gradient(#2d1a5f 0px,#672899 1.5px,#5f2a9a 106.5px,#2a3ca0 132.5px,#1f3a9a 221.5px,#1d3293 222.5px,#090925 225.5px,#010103 227.5px,#02020a 324.5px,#0f1141 333.5px,#1c3091 340.5px,#1b2d89 348.5px,#090926 357.5px,#040410 363.5px,#0d0d33 398px)"></i>
<i style="left:190px;width:1px;background:linear-gradient(#2b1a5f 0px,#61299a 1.5px,#592b9b 106.5px,#253ea0 135.5px,#1f399a 220.5px,#1d3293 221.5px,#04040f 225.5px,#000000 228.5px,#02020a 324.5px,#0f1141 333.5px,#1c3091 340.5px,#1b2d89 348.5px,#090926 357.5px,#010103 367.5px,#050514 398px)"></i>
<i style="left:191px;width:1px;background:linear-gradient(#201d61 0px,#3e32a0 1.5px,#3437a0 115.5px,#233fa0 161.5px,#1f399a 219.5px,#1d3293 220.5px,#050513 224.5px,#000000 227.5px,#020209 325.5px,#101345 336.5px,#17236f 343.5px,#12174e 350.5px,#04040f 360.5px,#000000 387.5px,#010102 398px)"></i>
<i style="left:192px;width:1px;background:linear-gradient(#1a2061 0px,#283da0 1.5px,#1e3697 218.5px,#1c3192 219.5px,#060617 223.5px,#000000 226.5px,#02020a 328.5px,#0d0d33 345.5px,#000002 366.5px,#000000 398px)"></i>
<i style="left:193px;width:1px;background:linear-gradient(#1a2061 0px,#283ca0 1.5px,#1d3494 217.5px,#182677 219.5px,#080820 222.5px,#000001 225.5px,#03030b 334.5px,#03030c 352.5px,#000000 398px)"></i>
<i style="left:194px;width:1px;background:linear-gradient(#201d61 0px,#3d33a0 1.5px,#3238a0 83.5px,#203c9c 113.5px,#1d3293 218.5px,#090923 223.5px,#000001 226.5px,#02020a 330.5px,#050512 343.5px,#000000 369.5px,#000000 398px)"></i>
<i style="left:195px;width:1px;background:linear-gradient(#211d61 0px,#3e32a0 1.5px,#3337a0 83.5px,#203c9d 113.5px,#1e3798 218.5px,#1a2b83 220.5px,#090925 224.5px,#000002 227.5px,#020209 326.5px,#101242 339.5px,#010103 354.5px,#000000 398px)"></i>
<i style="left:196px;width:1px;background:linear-gradient(#1c1f61 0px,#3039a0 1.5px,#233fa0 99.5px,#1e3898 218.5px,#19297d 220.5px,#07071d 224.5px,#000000 227.5px,#020208 324.5px,#0d0d35 331.5px,#182575 337.5px,#17236f 341.5px,#050515 350.5px,#000000 362.5px,#000000 398px)"></i>
<i style="left:197px;width:1px;background:linear-gradient(#1a2061 0px,#293ca0 1.5px,#1f3b9b 216.5px,#1b2d89 218.5px,#080821 222.5px,#000000 225.5px,#020208 324.5px,#0d0d35 331.5px,#182575 337.5px,#17236f 341.5px,#050515 350.5px,#000000 362.5px,#000000 398px)"></i>
<i style="left:198px;width:1px;background:linear-gradient(#1a2061 0px,#283da0 1.5px,#1e3898 214.5px,#1c3192 215.5px,#060619 220.5px,#000000 223.5px,#020209 326.5px,#101242 339.5px,#010103 354.5px,#000000 398px)"></i>
<i style="left:199px;width:1px;background:linear-gradient(#1e1e61 0px,#3437a0 1.5px,#203c9c 212.5px,#1b2e8b 214.5px,#080822 218.5px,#000000 221.5px,#02020a 330.5px,#050512 343.5px,#000000 367.5px,#000000 398px)"></i>
<i style="left:200px;width:1px;background:linear-gradient(#261c60 0px,#512d9d 1.5px,#47309e 59.5px,#2a3ba0 96.5px,#243fa0 211.5px,#1b2e8c 214.5px,#080821 218.5px,#000000 221.5px,#000000 398px)"></i>
<i style="left:201px;width:1px;background:linear-gradient(#241c60 0px,#492f9e 1.5px,#3e32a0 60.5px,#263da0 101.5px,#1f399a 214.5px,#192980 216.5px,#07071c 220.5px,#000000 223.5px,#000000 398px)"></i>
<i style="left:202px;width:1px;background:linear-gradient(#1c1f61 0px,#2e3aa0 1.5px,#1f399a 214.5px,#1a2c85 216.5px,#080822 220.5px,#000001 223.5px,#000000 398px)"></i>
<i style="left:203px;width:1px;background:linear-gradient(#182161 0px,#213f9f 1.5px,#1f3899 213.5px,#1a2c87 215.5px,#0a0a26 219.5px,#010102 222.5px,#020209 334.5px,#090924 345.5px,#000001 360.5px,#000000 398px)"></i>
<i style="left:204px;width:1px;background:linear-gradient(#182060 0px,#203d9d 1.5px,#1d3595 214.5px,#182779 216.5px,#080820 220.5px,#000001 223.5px,#020208 331.5px,#0e0e38 338.5px,#151f65 343.5px,#121750 347.5px,#03030b 355.5px,#000000 395.5px,#000000 398px)"></i>
<i style="left:205px;width:1px;background:linear-gradient(#182160 0px,#203e9e 1.5px,#1c3192 212.5px,#040410 219.5px,#000000 224.5px,#020208 331.5px,#0e0e38 338.5px,#151f65 343.5px,#121750 347.5px,#03030b 355.5px,#000000 395.5px,#000000 398px)"></i>
<i style="left:206px;width:1px;background:linear-gradient(#182060 0px,#203d9e 1.5px,#1e3596 142.5px,#182575 156.5px,#172471 209.5px,#020207 218.5px,#020209 334.5px,#090924 345.5px,#000001 360.5px,#000000 398px)"></i>
<i style="left:207px;width:1px;background:linear-gradient(#182161 0px,#213f9f 1.5px,#1f3899 139.5px,#1a2c87 143.5px,#0f1140 151.5px,#0d0d34 212.5px,#000000 222.5px,#000000 398px)"></i>
<i style="left:208px;width:1px;background:linear-gradient(#192161 0px,#253ea0 1.5px,#1f399a 139.5px,#1a2a82 143.5px,#0d0d33 150.5px,#0a0a28 169.5px,#080821 214.5px,#000000 224.5px,#000000 398px)"></i>
<i style="left:209px;width:1px;background:linear-gradient(#192061 0px,#263ea0 1.5px,#1e3697 141.5px,#172573 146.5px,#101346 153.5px,#0f1140 211.5px,#000000 221.5px,#000000 398px)"></i>
<i style="left:210px;width:1px;background:linear-gradient(#182161 0px,#2140a0 1.5px,#1e3697 143.5px,#19297f 158.5px,#182677 211.5px,#03030b 219.5px,#000000 231.5px,#000000 398px)"></i>
<i style="left:211px;width:1px;background:linear-gradient(#182161 0px,#203e9e 1.5px,#1c3192 213.5px,#050514 220.5px,#000000 224.5px,#000000 398px)"></i>
<i style="left:212px;width:1px;background:linear-gradient(#182161 0px,#213f9f 1.5px,#1d3293 212.5px,#121852 216.5px,#010106 221.5px,#020208 328.5px,#08081f 338.5px,#000000 352.5px,#000000 398px)"></i>
<i style="left:213px;width:1px;background:linear-gradient(#182161 0px,#213f9f 1.5px,#1e3797 174.5px,#16226b 188.5px,#151e63 213.5px,#020207 221.5px,#020208 326.5px,#131a57 336.5px,#0f1141 340.5px,#020208 347.5px,#000000 398px)"></i>
<i style="left:214px;width:1px;background:linear-gradient(#182161 0px,#213f9f 1.5px,#1e3797 173.5px,#19287c 178.5px,#11164c 186.5px,#101346 213.5px,#000000 223.5px,#020208 326.5px,#131a57 336.5px,#0f1141 340.5px,#020208 347.5px,#000000 398px)"></i>
<i style="left:215px;width:1px;background:linear-gradient(#182161 0px,#2140a0 1.5px,#1e3898 174.5px,#172370 188.5px,#16226c 212.5px,#010106 221.5px,#020208 328.5px,#08081f 338.5px,#000000 352.5px,#000000 398px)"></i>
<i style="left:216px;width:1px;background:linear-gradient(#182161 0px,#2140a0 1.5px,#1e3696 211.5px,#1a2a82 214.5px,#040411 220.5px,#000000 224.5px,#000000 398px)"></i>
<i style="left:217px;width:1px;background:linear-gradient(#192061 0px,#263ea0 1.5px,#1e3798 212.5px,#1a2b84 214.5px,#090926 218.5px,#010102 221.5px,#000000 398px)"></i>
<i style="left:218px;width:1px;background:linear-gradient(#1c1f61 0px,#3039a0 1.5px,#203d9e 173.5px,#1e3697 213.5px,#19287c 215.5px,#08081f 219.5px,#000000 222.5px,#000000 398px)"></i>
<i style="left:219px;width:1px;background:linear-gradient(#1b1f61 0px,#2d3aa0 1.5px,#1e3798 214.5px,#1a2b85 216.5px,#0a0a27 220.5px,#000000 224.5px,#000000 398px)"></i>
<i style="left:220px;width:1px;background:linear-gradient(#182161 0px,#213f9f 1.5px,#1d3293 215.5px,#060619 221.5px,#000000 225.5px,#000000 398px)"></i>
<i style="left:221px;width:1px;background:linear-gradient(#182060 0px,#203c9c 1.5px,#1e3697 216.5px,#192a81 218.5px,#090924 222.5px,#000002 225.5px,#000000 398px)"></i>
<i style="left:222px;width:1px;background:linear-gradient(#182161 0px,#203e9e 1.5px,#1f3999 220.5px,#1b2d89 222.5px,#0a0a26 226.5px,#000002 229.5px,#000000 398px)"></i>
<i style="left:223px;width:1px;background:linear-gradient(#192061 0px,#263da0 1.5px,#1f3999 223.5px,#19297f 225.5px,#07071c 229.5px,#000000 232.5px,#000000 398px)"></i>
<i style="left:224px;width:1px;background:linear-gradient(#192161 0px,#253ea0 1.5px,#1f3999 223.5px,#19297e 225.5px,#07071c 229.5px,#000000 232.5px,#000000 398px)"></i>
<i style="left:225px;width:1px;background:linear-gradient(#182060 0px,#203d9d 1.5px,#1e3697 222.5px,#19287c 224.5px,#08081f 228.5px,#000001 231.5px,#000000 398px)"></i>
<i style="left:226px;width:1px;background:linear-gradient(#182160 0px,#203e9e 1.5px,#1f3999 221.5px,#1b2d8a 223.5px,#0a0a28 227.5px,#010102 230.5px,#000000 398px)"></i>
<i style="left:227px;width:1px;background:linear-gradient(#182161 0px,#213f9f 1.5px,#1f3a9a 221.5px,#1b2e8c 223.5px,#0a0a29 227.5px,#010103 230.5px,#000000 398px)"></i>
<i style="left:228px;width:1px;background:linear-gradient(#182160 0px,#203e9e 1.5px,#1e3898 220.5px,#1a2a82 222.5px,#090923 226.5px,#000001 229.5px,#000000 398px)"></i>
<i style="left:229px;width:1px;background:linear-gradient(#182161 0px,#2140a0 1.5px,#203c9c 219.5px,#1c3192 221.5px,#07071b 226.5px,#000000 229.5px,#000000 398px)"></i>
</div>
<svg class="a" style="left:0;top:0" width="738" height="527" viewBox="0 0 738 527">
<defs><clipPath id="cx"><rect x="314" y="476" width="413" height="25"/></clipPath><clipPath id="cc"><rect x="314" y="31" width="413" height="470"/></clipPath></defs>
<rect x="313.5" y="30.5" width="414" height="471" fill="#fff" stroke="#92969a" stroke-width="1"/>
<g stroke="#5a93a6" stroke-width="1" shape-rendering="crispEdges">
<line x1="356" y1="36.5" x2="373" y2="36.5"/>
<line x1="367" y1="46.5" x2="373" y2="46.5"/>
<line x1="367" y1="56.5" x2="373" y2="56.5"/>
<line x1="367" y1="66.5" x2="373" y2="66.5"/>
<line x1="367" y1="75.5" x2="373" y2="75.5"/>
<line x1="356" y1="85.5" x2="373" y2="85.5"/>
<line x1="367" y1="95.5" x2="373" y2="95.5"/>
<line x1="367" y1="104.5" x2="373" y2="104.5"/>
<line x1="367" y1="114.5" x2="373" y2="114.5"/>
<line x1="367" y1="124.5" x2="373" y2="124.5"/>
<line x1="356" y1="134.5" x2="373" y2="134.5"/>
<line x1="367" y1="143.5" x2="373" y2="143.5"/>
<line x1="367" y1="153.5" x2="373" y2="153.5"/>
<line x1="367" y1="163.5" x2="373" y2="163.5"/>
<line x1="367" y1="172.5" x2="373" y2="172.5"/>
<line x1="356" y1="182.5" x2="373" y2="182.5"/>
<line x1="367" y1="192.5" x2="373" y2="192.5"/>
<line x1="367" y1="202.5" x2="373" y2="202.5"/>
<line x1="367" y1="211.5" x2="373" y2="211.5"/>
<line x1="367" y1="221.5" x2="373" y2="221.5"/>
<line x1="356" y1="231.5" x2="373" y2="231.5"/>
<line x1="367" y1="240.5" x2="373" y2="240.5"/>
<line x1="367" y1="250.5" x2="373" y2="250.5"/>
<line x1="367" y1="260.5" x2="373" y2="260.5"/>
<line x1="367" y1="270.5" x2="373" y2="270.5"/>
<line x1="356" y1="279.5" x2="373" y2="279.5"/>
<line x1="367" y1="289.5" x2="373" y2="289.5"/>
<line x1="367" y1="299.5" x2="373" y2="299.5"/>
<line x1="367" y1="308.5" x2="373" y2="308.5"/>
<line x1="367" y1="318.5" x2="373" y2="318.5"/>
<line x1="356" y1="328.5" x2="373" y2="328.5"/>
<line x1="367" y1="338.5" x2="373" y2="338.5"/>
<line x1="367" y1="347.5" x2="373" y2="347.5"/>
<line x1="367" y1="357.5" x2="373" y2="357.5"/>
<line x1="367" y1="367.5" x2="373" y2="367.5"/>
<line x1="356" y1="376.5" x2="373" y2="376.5"/>
<line x1="367" y1="386.5" x2="373" y2="386.5"/>
<line x1="367" y1="396.5" x2="373" y2="396.5"/>
<line x1="367" y1="405.5" x2="373" y2="405.5"/>
<line x1="367" y1="415.5" x2="373" y2="415.5"/>
<line x1="356" y1="425.5" x2="373" y2="425.5"/>
<line x1="367" y1="435.5" x2="373" y2="435.5"/>
<line x1="367" y1="444.5" x2="373" y2="444.5"/>
<line x1="367" y1="454.5" x2="373" y2="454.5"/>
<line x1="367" y1="464.5" x2="373" y2="464.5"/>
<line x1="356" y1="473.5" x2="373" y2="473.5"/>
</g>
<line x1="373.5" y1="31" x2="373.5" y2="493" stroke="#4a9aad" stroke-width="1"/>
<line x1="373" y1="475.5" x2="727" y2="475.5" stroke="#4a9aad" stroke-width="1"/>
<g stroke="#4a9aad" stroke-width="1">
<line x1="373.5" y1="475" x2="373.5" y2="493"/>
<line x1="382.5" y1="475" x2="382.5" y2="482"/>
<line x1="391.5" y1="475" x2="391.5" y2="482"/>
<line x1="399.5" y1="475" x2="399.5" y2="482"/>
<line x1="408.5" y1="475" x2="408.5" y2="482"/>
<line x1="417.5" y1="475" x2="417.5" y2="493"/>
<line x1="426.5" y1="475" x2="426.5" y2="482"/>
<line x1="434.5" y1="475" x2="434.5" y2="482"/>
<line x1="443.5" y1="475" x2="443.5" y2="482"/>
<line x1="452.5" y1="475" x2="452.5" y2="482"/>
<line x1="461.5" y1="475" x2="461.5" y2="493"/>
<line x1="469.5" y1="475" x2="469.5" y2="482"/>
<line x1="478.5" y1="475" x2="478.5" y2="482"/>
<line x1="487.5" y1="475" x2="487.5" y2="482"/>
<line x1="496.5" y1="475" x2="496.5" y2="482"/>
<line x1="504.5" y1="475" x2="504.5" y2="493"/>
<line x1="513.5" y1="475" x2="513.5" y2="482"/>
<line x1="522.5" y1="475" x2="522.5" y2="482"/>
<line x1="531.5" y1="475" x2="531.5" y2="482"/>
<line x1="539.5" y1="475" x2="539.5" y2="482"/>
<line x1="548.5" y1="475" x2="548.5" y2="493"/>
<line x1="557.5" y1="475" x2="557.5" y2="482"/>
<line x1="566.5" y1="475" x2="566.5" y2="482"/>
<line x1="574.5" y1="475" x2="574.5" y2="482"/>
<line x1="583.5" y1="475" x2="583.5" y2="482"/>
<line x1="592.5" y1="475" x2="592.5" y2="493"/>
<line x1="601.5" y1="475" x2="601.5" y2="482"/>
<line x1="609.5" y1="475" x2="609.5" y2="482"/>
<line x1="618.5" y1="475" x2="618.5" y2="482"/>
<line x1="627.5" y1="475" x2="627.5" y2="482"/>
<line x1="636.5" y1="475" x2="636.5" y2="493"/>
<line x1="644.5" y1="475" x2="644.5" y2="482"/>
<line x1="653.5" y1="475" x2="653.5" y2="482"/>
<line x1="662.5" y1="475" x2="662.5" y2="482"/>
<line x1="671.5" y1="475" x2="671.5" y2="482"/>
<line x1="679.5" y1="475" x2="679.5" y2="493"/>
<line x1="688.5" y1="475" x2="688.5" y2="482"/>
<line x1="697.5" y1="475" x2="697.5" y2="482"/>
<line x1="706.5" y1="475" x2="706.5" y2="482"/>
<line x1="714.5" y1="475" x2="714.5" y2="482"/>
<line x1="723.5" y1="475" x2="723.5" y2="493"/>
</g>
<g font-family="Liberation Sans, Arial, sans-serif" font-size="10" fill="#7ba5c7">
<text x="352" y="47.7" textLength="12.6" lengthAdjust="spacingAndGlyphs">-30</text>
<text x="352" y="96.3" textLength="12.6" lengthAdjust="spacingAndGlyphs">-35</text>
<text x="352" y="144.8" textLength="12.6" lengthAdjust="spacingAndGlyphs">-40</text>
<text x="352" y="193.4" textLength="12.6" lengthAdjust="spacingAndGlyphs">-45</text>
<text x="352" y="242.0" textLength="12.6" lengthAdjust="spacingAndGlyphs">-50</text>
<text x="352" y="290.5" textLength="12.6" lengthAdjust="spacingAndGlyphs">-55</text>
<text x="352" y="339.1" textLength="12.6" lengthAdjust="spacingAndGlyphs">-60</text>
<text x="352" y="387.7" textLength="12.6" lengthAdjust="spacingAndGlyphs">-65</text>
<text x="352" y="436.2" textLength="12.6" lengthAdjust="spacingAndGlyphs">-70</text>
</g>
<g font-family="Liberation Sans, Arial, sans-serif" font-size="9.5" fill="#7ba5c7" clip-path="url(#cx)">
<text x="374.8" y="492" textLength="4.6" lengthAdjust="spacingAndGlyphs">0</text>
<text x="418.6" y="492" textLength="13.5" lengthAdjust="spacingAndGlyphs">500</text>
<text x="462.3" y="492" textLength="18.3" lengthAdjust="spacingAndGlyphs">1000</text>
<text x="506.1" y="492" textLength="18.3" lengthAdjust="spacingAndGlyphs">1500</text>
<text x="549.8" y="492" textLength="18.3" lengthAdjust="spacingAndGlyphs">2000</text>
<text x="593.6" y="492" textLength="18.3" lengthAdjust="spacingAndGlyphs">2500</text>
<text x="637.4" y="492" textLength="18.3" lengthAdjust="spacingAndGlyphs">3000</text>
<text x="681.1" y="492" textLength="18.3" lengthAdjust="spacingAndGlyphs">3500</text>
<text x="724.9" y="492" textLength="18.3" lengthAdjust="spacingAndGlyphs">4000</text>
</g>
<g clip-path="url(#cc)" fill="none" stroke-width="1.1" stroke-linejoin="round">
<path d="M373.5,171.3 C374.4,170.8 377.4,169.9 379.1,168.5 C380.8,167.1 382.2,165.5 383.7,162.8 C385.2,160.1 386.6,155.7 388.2,152.5 C389.8,149.3 391.2,149.8 393.1,143.5 C395.0,137.2 397.7,121.4 399.3,115.0 C400.9,108.6 401.1,109.0 402.8,105.0 C404.5,101.0 407.5,95.4 409.5,91.0 C411.5,86.6 413.4,82.0 414.7,78.7 C416.0,75.4 416.4,73.2 417.3,71.0 C418.2,68.8 419.4,65.4 420.4,65.4 C421.4,65.4 422.3,68.1 423.2,71.1 C424.1,74.1 424.9,76.9 425.6,83.4 C426.3,89.9 426.5,99.2 427.5,110.0 C428.5,120.8 430.0,134.7 431.6,148.0 C433.2,161.3 435.1,176.2 436.9,190.0 C438.7,203.8 440.7,218.8 442.6,230.5 C444.5,242.2 445.6,248.8 448.1,260.0 C450.7,271.2 454.3,286.2 457.9,297.9 C461.5,309.6 466.7,323.0 469.9,330.0 C473.1,337.0 474.9,337.4 477.0,340.0 C479.1,342.6 480.3,343.9 482.7,345.7 C485.1,347.5 488.7,350.1 491.5,350.8 C494.3,351.5 496.6,351.8 499.5,349.6 C502.4,347.4 506.2,342.2 509.0,337.4 C511.8,332.6 513.9,326.3 516.1,320.8 C518.3,315.3 520.4,309.3 522.0,304.2 C523.6,299.1 524.4,294.9 525.6,290.0 C526.8,285.1 527.9,282.5 529.3,275.0 C530.7,267.5 532.6,255.8 534.0,245.0 C535.4,234.2 536.5,222.5 537.6,210.0 C538.7,197.5 539.5,179.8 540.5,170.0 C541.5,160.2 542.7,152.0 543.7,151.2 C544.7,150.4 545.8,158.5 546.5,165.0 C547.2,171.5 547.2,181.7 548.0,190.0 C548.8,198.3 549.9,206.7 551.0,215.0 C552.1,223.3 553.0,231.7 554.5,240.0 C556.0,248.3 558.0,259.1 559.9,265.0 C561.8,270.9 563.5,272.8 565.7,275.4 C567.9,278.0 570.8,280.3 573.0,280.7 C575.2,281.1 577.1,280.1 579.2,277.5 C581.3,274.9 584.1,267.9 585.5,265.0 C586.9,262.1 586.0,266.2 587.6,260.0 C589.2,253.8 592.9,236.7 595.0,228.0 C597.1,219.3 598.8,212.2 600.0,208.0 C601.2,203.8 601.4,202.9 602.2,202.6 C603.0,202.3 603.5,201.8 605.0,206.0 C606.5,210.2 609.6,222.3 611.0,228.0 C612.4,233.7 611.6,234.2 613.3,240.0 C614.9,245.8 618.0,256.5 620.9,262.8 C623.8,269.1 627.4,274.5 630.4,278.0 C633.4,281.5 636.0,283.4 638.8,283.7 C641.6,284.0 645.3,281.6 647.4,279.8 C649.5,278.1 649.3,276.5 651.6,273.2 C653.9,269.9 658.0,266.6 661.4,259.8 C664.8,253.0 669.4,240.1 672.0,232.5 C674.6,224.9 675.8,218.7 677.3,214.3 C678.8,210.0 679.7,206.7 681.1,206.4 C682.5,206.2 684.3,208.2 685.7,212.8 C687.1,217.4 688.1,224.5 689.5,234.0 C690.9,243.5 692.8,260.2 694.0,270.0 C695.2,279.8 695.7,285.7 697.0,292.8 C698.3,299.9 699.7,303.0 701.6,312.5 C703.5,322.0 705.7,337.5 708.4,350.0 C711.1,362.5 714.8,377.8 717.9,387.3 C721.0,396.8 725.5,403.7 727.0,407.0" stroke="#9cbcda"/>
<path d="M373.5,167.9 C374.4,167.3 377.0,165.9 378.6,164.3 C380.2,162.7 382.0,160.7 383.2,158.2 C384.4,155.7 385.0,152.1 386.0,149.1 C387.0,146.1 387.7,145.7 389.1,140.0 C390.5,134.3 393.0,121.7 394.2,115.0 C395.4,108.3 395.4,104.0 396.5,100.0 C397.6,96.0 399.2,92.0 400.5,91.0 C401.8,90.0 402.9,92.4 404.0,94.0 C405.1,95.6 405.9,100.6 407.3,100.4 C408.7,100.2 411.2,95.7 412.3,92.9 C413.4,90.1 413.6,87.9 414.2,83.4 C414.8,78.9 415.5,69.6 416.1,66.0 C416.7,62.4 417.3,62.5 418.0,62.0 C418.7,61.5 419.7,62.1 420.5,63.0 C421.3,63.9 422.2,63.9 422.7,67.3 C423.2,70.7 423.4,77.1 423.7,83.4 C424.0,89.7 424.2,98.1 424.6,105.0 C425.0,111.9 425.5,117.8 426.0,125.0 C426.5,132.2 427.1,137.2 427.8,148.0 C428.6,158.8 429.3,176.2 430.5,190.0 C431.7,203.8 433.4,218.0 435.0,230.5 C436.6,243.0 438.4,253.8 440.3,265.0 C442.2,276.2 444.2,287.1 446.6,297.9 C449.0,308.7 452.6,323.0 454.5,330.0 C456.4,337.0 456.2,335.5 457.8,340.0 C459.4,344.5 461.9,351.7 464.2,357.1 C466.4,362.6 468.9,368.4 471.3,372.7 C473.7,377.0 475.8,380.2 478.4,382.7 C481.0,385.2 483.8,387.0 486.9,387.7 C490.0,388.4 494.4,387.8 496.9,386.9 C499.4,386.0 499.1,386.0 501.9,382.5 C504.7,379.0 510.4,372.2 513.7,365.9 C517.1,359.6 519.6,352.5 522.0,344.6 C524.4,336.7 526.2,327.6 528.0,318.5 C529.8,309.4 531.1,301.4 532.7,290.0 C534.3,278.6 536.1,261.0 537.4,250.0 C538.6,239.0 539.2,231.3 540.2,224.2 C541.2,217.0 542.3,211.5 543.1,207.1 C543.9,202.7 544.6,197.8 545.2,198.0 C545.9,198.2 546.3,201.0 547.0,208.0 C547.7,215.0 548.3,232.2 549.3,240.0 C550.3,247.8 551.5,250.8 553.0,255.0 C554.5,259.2 556.6,260.4 558.4,265.0 C560.2,269.6 561.7,278.0 563.6,282.7 C565.5,287.4 567.9,290.8 569.8,293.2 C571.7,295.6 573.2,296.6 575.1,296.8 C577.0,297.0 579.2,296.0 581.3,294.2 C583.4,292.4 585.7,289.4 587.6,285.9 C589.5,282.4 591.4,277.7 592.8,273.4 C594.2,269.1 595.0,263.9 596.2,260.0 C597.4,256.1 598.9,252.2 600.0,250.0 C601.1,247.8 601.9,246.5 602.9,247.1 C603.9,247.7 603.7,247.2 605.7,253.3 C607.8,259.4 612.0,275.4 615.2,283.6 C618.4,291.8 621.5,296.6 624.7,302.6 C627.9,308.6 630.7,315.3 634.2,319.7 C637.7,324.1 642.1,327.0 645.5,329.2 C648.9,331.4 651.3,334.8 654.6,333.0 C657.9,331.2 662.2,324.1 665.2,318.6 C668.2,313.2 670.8,304.2 672.8,300.3 C674.8,296.4 675.8,295.0 677.3,295.0 C678.8,295.0 680.4,296.1 681.9,300.3 C683.4,304.5 684.8,311.7 686.4,320.0 C688.0,328.3 690.4,343.3 691.7,350.0 C693.0,356.7 693.1,354.5 694.4,360.0 C695.7,365.5 697.8,375.2 699.7,382.8 C701.6,390.4 703.3,399.2 705.8,405.5 C708.3,411.8 712.2,417.1 714.9,420.7 C717.5,424.2 719.6,426.0 721.7,426.8 C723.9,427.6 726.8,425.6 727.8,425.3" stroke="#9a9a4c"/>
<path d="M373.5,189.5 C374.4,188.9 377.0,188.1 379.1,186.1 C381.2,184.1 383.9,180.7 386.0,177.6 C388.1,174.5 389.9,171.1 391.6,167.3 C393.3,163.5 394.7,158.2 396.2,154.8 C397.7,151.4 399.5,149.6 400.8,146.8 C402.1,144.0 402.6,141.3 403.9,137.8 C405.2,134.3 407.1,129.8 408.5,126.0 C409.9,122.2 411.4,119.3 412.4,115.0 C413.4,110.7 413.9,104.8 414.5,100.0 C415.1,95.2 415.6,89.0 416.1,86.0 C416.7,83.0 417.1,82.0 417.8,82.0 C418.5,82.0 419.4,82.5 420.2,86.3 C420.9,90.1 421.8,100.2 422.3,105.0 C422.9,109.8 423.0,109.1 423.5,115.0 C424.0,120.9 424.8,128.6 425.5,140.3 C426.2,152.0 426.7,170.0 427.9,185.0 C429.1,200.0 431.2,218.0 432.8,230.5 C434.4,243.0 435.6,248.8 437.5,260.0 C439.4,271.2 442.2,286.2 444.3,297.9 C446.4,309.6 448.8,323.0 450.2,330.0 C451.6,337.0 451.4,335.5 452.8,340.0 C454.2,344.5 456.4,351.2 458.5,357.1 C460.6,363.0 463.0,370.2 465.6,375.6 C468.2,381.1 471.0,385.5 474.1,389.8 C477.2,394.1 481.2,399.1 484.1,401.2 C487.0,403.3 488.6,402.8 491.2,402.6 C493.8,402.4 497.8,401.6 500.0,400.2 C502.2,398.8 501.5,398.1 504.2,394.4 C506.9,390.7 512.7,385.3 516.1,377.8 C519.5,370.3 522.0,359.2 524.4,349.3 C526.8,339.4 528.5,328.4 530.3,318.5 C532.1,308.6 533.8,300.6 535.1,290.0 C536.4,279.4 537.5,263.3 538.2,255.0 C538.9,246.7 538.9,243.6 539.5,240.0 C540.1,236.4 541.1,234.3 541.9,233.3 C542.7,232.3 543.5,232.6 544.5,234.0 C545.5,235.4 546.5,238.2 547.6,242.0 C548.7,245.8 549.8,251.6 551.0,257.0 C552.2,262.4 553.8,269.4 555.0,274.2 C556.2,279.0 557.1,281.2 558.4,285.9 C559.6,290.6 560.8,298.4 562.5,302.6 C564.2,306.8 567.0,309.4 568.8,310.9 C570.5,312.4 571.3,312.2 573.0,311.5 C574.7,310.8 577.1,309.9 579.2,306.8 C581.3,303.8 583.4,298.4 585.5,293.2 C587.6,288.0 590.1,280.1 591.8,275.4 C593.5,270.7 594.5,269.1 595.9,265.0 C597.3,260.9 598.7,254.8 600.0,251.0 C601.3,247.2 602.5,244.2 603.5,242.5 C604.5,240.8 605.0,240.1 605.7,241.0 C606.5,241.9 607.0,244.4 608.0,248.0 C609.0,251.6 609.6,255.6 611.4,262.8 C613.2,270.0 616.8,282.4 619.0,291.2 C621.2,300.0 622.8,307.8 624.7,315.9 C626.6,324.0 627.7,332.5 630.4,340.0 C633.1,347.5 638.2,355.7 641.0,361.0 C643.8,366.3 644.7,368.8 647.0,372.0 C649.3,375.2 652.4,378.4 654.8,380.1 C657.2,381.8 658.9,382.6 661.6,382.4 C664.3,382.2 667.9,381.7 670.8,379.0 C673.6,376.3 676.4,370.8 678.7,366.4 C681.0,362.0 682.7,358.9 684.4,352.8 C686.1,346.7 687.8,336.2 689.0,330.0 C690.2,323.8 690.5,320.4 691.5,315.5 C692.5,310.6 694.3,303.6 695.3,300.3 C696.3,297.0 696.5,294.5 697.3,295.8 C698.1,297.1 699.0,302.2 700.1,307.9 C701.2,313.6 702.7,323.0 704.0,330.0 C705.3,337.0 706.4,344.7 707.7,350.0 C709.0,355.3 710.3,354.0 711.9,362.0 C713.5,370.0 715.6,387.6 717.2,397.9 C718.8,408.2 720.1,416.9 721.7,423.7 C723.3,430.5 726.1,436.4 727.0,438.9" stroke="#3e3e66"/>
<path d="M373.5,161.6 C374.1,161.9 375.2,162.7 376.8,163.6 C378.4,164.5 380.8,166.7 382.8,166.8 C384.9,166.9 386.9,165.1 389.1,164.2 C391.3,163.3 393.9,161.7 395.9,161.3 C397.8,160.9 399.4,161.9 400.8,161.6 C402.2,161.3 403.1,161.1 404.2,159.4 C405.3,157.7 406.7,154.6 407.6,151.4 C408.6,148.2 409.2,143.1 409.9,140.0 C410.6,136.9 411.2,134.6 412.0,133.0 C412.8,131.4 413.8,130.0 414.6,130.4 C415.4,130.8 416.3,132.1 417.0,135.5 C417.7,138.9 418.1,145.2 418.7,151.0 C419.3,156.8 419.9,163.5 420.5,170.0 C421.1,176.5 421.4,181.2 422.3,190.0 C423.2,198.8 424.5,210.4 425.9,222.9 C427.3,235.4 428.7,252.5 430.5,265.0 C432.3,277.5 434.4,287.1 436.7,297.9 C439.0,308.7 442.6,323.0 444.3,330.0 C446.0,337.0 445.5,334.3 447.1,340.0 C448.8,345.7 451.6,357.3 454.2,364.2 C456.8,371.1 459.7,375.9 462.8,381.3 C465.9,386.8 469.4,393.0 472.7,396.9 C476.0,400.8 479.8,403.1 482.7,404.7 C485.6,406.3 486.9,407.0 489.8,406.6 C492.7,406.2 497.6,403.9 500.0,402.6 C502.4,401.4 501.1,403.2 504.2,399.1 C507.3,395.0 514.7,386.1 518.5,377.8 C522.3,369.5 524.4,359.2 526.8,349.3 C529.2,339.4 531.2,326.7 532.7,318.5 C534.2,310.3 534.9,304.8 535.7,300.0 C536.5,295.2 536.6,297.0 537.4,290.0 C538.2,283.0 539.5,266.3 540.5,258.0 C541.5,249.7 542.3,244.5 543.1,240.0 C543.9,235.5 544.5,232.8 545.2,231.0 C545.9,229.2 546.3,226.9 547.1,229.0 C547.9,231.1 548.9,238.0 549.9,243.5 C550.9,249.0 551.9,255.9 553.0,262.0 C554.1,268.1 555.2,273.7 556.5,280.0 C557.8,286.3 559.4,295.0 560.7,300.0 C562.1,305.0 562.9,307.6 564.6,310.0 C566.3,312.4 568.8,313.6 570.9,314.1 C573.0,314.6 575.0,314.6 577.1,313.0 C579.2,311.4 581.5,308.7 583.4,304.7 C585.3,300.7 587.0,293.9 588.6,289.0 C590.2,284.1 591.5,279.9 592.8,275.4 C594.1,270.9 595.1,267.1 596.2,262.0 C597.3,256.9 598.4,250.4 599.5,245.0 C600.6,239.6 601.7,231.6 602.9,229.8 C604.1,228.0 605.4,231.5 606.5,234.0 C607.6,236.5 608.3,240.7 609.5,245.0 C610.7,249.3 611.9,256.1 613.5,260.0 C615.1,263.9 617.0,263.3 619.0,268.5 C621.0,273.7 623.7,286.2 625.6,291.2 C627.5,296.1 628.9,296.9 630.3,298.2 C631.7,299.5 632.5,298.8 634.2,299.0 C636.0,299.2 638.9,298.6 640.8,299.5 C642.7,300.4 644.1,301.8 645.5,304.5 C646.9,307.2 648.3,313.0 649.3,315.9 C650.3,318.8 650.8,318.9 651.6,321.8 C652.4,324.7 652.8,328.6 653.9,333.0 C655.0,337.4 656.3,342.4 658.2,348.2 C660.1,354.0 662.8,362.5 665.1,367.6 C667.4,372.7 669.8,376.7 671.9,379.0 C674.0,381.3 675.3,382.2 677.6,381.3 C679.9,380.4 683.3,378.1 685.6,373.3 C687.9,368.6 689.7,360.0 691.3,352.8 C692.9,345.6 693.9,337.0 695.0,330.0 C696.1,323.0 696.9,316.4 698.0,311.0 C699.1,305.6 700.5,298.6 701.6,297.3 C702.7,296.0 703.6,299.1 704.6,303.4 C705.6,307.7 706.8,315.2 707.7,323.0 C708.6,330.8 709.4,343.8 710.0,350.0 C710.6,356.2 710.0,353.3 711.1,360.0 C712.2,366.7 714.6,381.9 716.4,390.3 C718.2,398.7 719.8,405.3 721.7,410.1 C723.6,414.9 726.8,417.7 727.8,419.2" stroke="#4a4a4a"/>
</g>
<line x1="417.9" y1="31" x2="417.9" y2="475" stroke="#33692a" stroke-width="2"/>
<text transform="translate(421.09999999999997,34) rotate(90)" font-family="Liberation Sans, Arial, sans-serif" font-size="10" fill="#5e7e22">514.025</text>
<line x1="545.0" y1="31" x2="545.0" y2="475" stroke="#475e1e" stroke-width="2"/>
<text transform="translate(548.2,34) rotate(90)" font-family="Liberation Sans, Arial, sans-serif" font-size="10" fill="#5e7e22">1967.326</text>
<line x1="604.8" y1="31" x2="604.8" y2="475" stroke="#33692a" stroke-width="2"/>
<text transform="translate(608.0,34) rotate(90)" font-family="Liberation Sans, Arial, sans-serif" font-size="10" fill="#5e7e22">2649.464</text>
</svg>
</div></body></html>
